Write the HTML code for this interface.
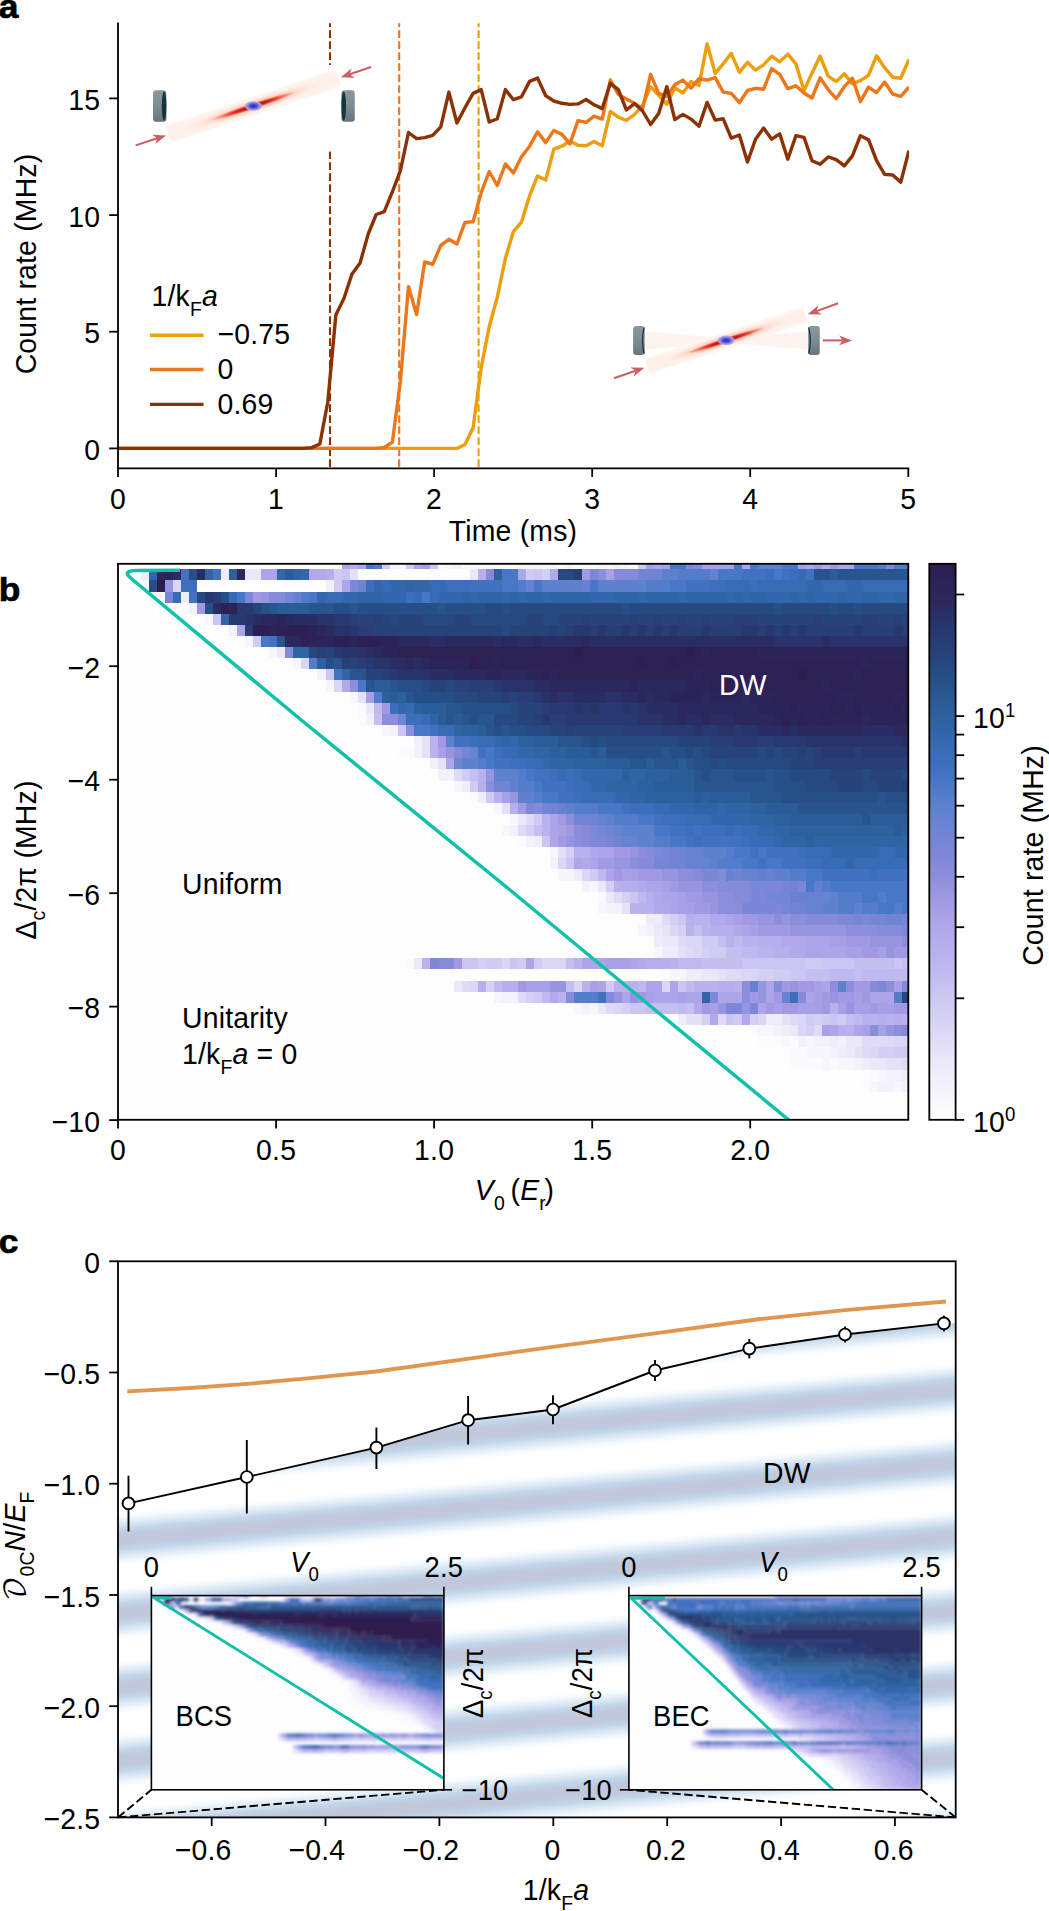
<!DOCTYPE html><html><head><meta charset="utf-8"><title>figure</title><style>html,body{margin:0;padding:0;background:#fff;overflow:hidden}svg{display:block}text{font-family:'Liberation Sans', 'DejaVu Sans', sans-serif;font-size:29.7px;letter-spacing:0.2px}</style></head><body>
<svg width="1049" height="1911" viewBox="0 0 1049 1911">
<rect width="1049" height="1911" fill="#fff"/>
<defs>
<linearGradient id="cbar" x1="0" y1="0" x2="0" y2="1"><stop offset="0.000" stop-color="#2e1e50"/><stop offset="0.020" stop-color="#2c2055"/><stop offset="0.050" stop-color="#2b2659"/><stop offset="0.080" stop-color="#2a2c62"/><stop offset="0.120" stop-color="#283870"/><stop offset="0.150" stop-color="#283f75"/><stop offset="0.190" stop-color="#264a82"/><stop offset="0.220" stop-color="#27528a"/><stop offset="0.250" stop-color="#2a5c98"/><stop offset="0.280" stop-color="#2e63a0"/><stop offset="0.300" stop-color="#3064a8"/><stop offset="0.340" stop-color="#3a6cb8"/><stop offset="0.370" stop-color="#4070c0"/><stop offset="0.400" stop-color="#4a78c8"/><stop offset="0.430" stop-color="#5a80cc"/><stop offset="0.480" stop-color="#7084d4"/><stop offset="0.530" stop-color="#8088d8"/><stop offset="0.570" stop-color="#9090dc"/><stop offset="0.600" stop-color="#a098e4"/><stop offset="0.640" stop-color="#aca4e8"/><stop offset="0.700" stop-color="#b8b0ee"/><stop offset="0.780" stop-color="#ccc8f2"/><stop offset="0.850" stop-color="#dedaf7"/><stop offset="0.900" stop-color="#eceaf9"/><stop offset="0.950" stop-color="#f5f4fd"/><stop offset="1.000" stop-color="#ffffff"/></linearGradient>
<linearGradient id="mirG" x1="0" y1="0" x2="0" y2="1"><stop offset="0" stop-color="#8b979d"/><stop offset="0.5" stop-color="#7f8c93"/><stop offset="1" stop-color="#66747c"/></linearGradient>
<linearGradient id="beamBase" x1="0" y1="0" x2="0" y2="1"><stop offset="0" stop-color="#fff3ee" stop-opacity="0.8"/><stop offset="0.25" stop-color="#feefe9"/><stop offset="0.75" stop-color="#feefe9"/><stop offset="1" stop-color="#fff3ee" stop-opacity="0.8"/></linearGradient>
<radialGradient id="beamGlow"><stop offset="0" stop-color="#fb6a4a" stop-opacity="0.9"/><stop offset="0.3" stop-color="#fc8a6a" stop-opacity="0.7"/><stop offset="0.6" stop-color="#fcae91" stop-opacity="0.4"/><stop offset="1" stop-color="#fdd5c3" stop-opacity="0"/></radialGradient>
<radialGradient id="beamCore"><stop offset="0" stop-color="#a50f15"/><stop offset="0.3" stop-color="#c2161b"/><stop offset="0.55" stop-color="#e32f27" stop-opacity="0.9"/><stop offset="0.8" stop-color="#f6553c" stop-opacity="0.5"/><stop offset="1" stop-color="#fb6a4a" stop-opacity="0"/></radialGradient>
<radialGradient id="atomG"><stop offset="0" stop-color="#3426c8"/><stop offset="0.35" stop-color="#4a40cc"/><stop offset="0.7" stop-color="#8d8de0"/><stop offset="1" stop-color="#b0b4ea" stop-opacity="0.85"/></radialGradient>
<linearGradient id="stripes" gradientUnits="userSpaceOnUse" x1="948.0" y1="1390.0" x2="954.7" y2="1463.0" spreadMethod="repeat"><stop offset="0" stop-color="#c1c7d9"/><stop offset="0.07" stop-color="#c0cade"/><stop offset="0.14" stop-color="#c2d6ea"/><stop offset="0.22" stop-color="#dbe9f4"/><stop offset="0.3" stop-color="#f4f9fc"/><stop offset="0.36" stop-color="#ffffff"/><stop offset="0.64" stop-color="#ffffff"/><stop offset="0.7" stop-color="#f4f9fc"/><stop offset="0.78" stop-color="#dbe9f4"/><stop offset="0.86" stop-color="#c2d6ea"/><stop offset="0.93" stop-color="#c0cade"/><stop offset="1" stop-color="#c1c7d9"/></linearGradient>
<linearGradient id="stripeFade" gradientUnits="userSpaceOnUse" x1="118" y1="0" x2="956" y2="0"><stop offset="0" stop-color="#fff" stop-opacity="0"/><stop offset="1" stop-color="#fff" stop-opacity="0"/></linearGradient>
<filter id="blur1" x="-5%" y="-5%" width="110%" height="110%"><feGaussianBlur stdDeviation="1.4 1.7"/></filter>
</defs>
<g id="panel-a">
<line x1="330" y1="23.3" x2="330" y2="468.3" stroke="#8b3103" stroke-width="2.1" stroke-dasharray="7.8 3.2" stroke-dashoffset="4.1"/>
<line x1="399.2" y1="23.3" x2="399.2" y2="468.3" stroke="#ee7518" stroke-width="2.1" stroke-dasharray="7.8 3.2" stroke-dashoffset="4.1"/>
<line x1="478.6" y1="23.3" x2="478.6" y2="468.3" stroke="#ee9d0b" stroke-width="2.1" stroke-dasharray="7.8 3.2" stroke-dashoffset="4.1"/>
<clipPath id="clipA"><rect x="118" y="23.3" width="791.0999999999999" height="445.0"/></clipPath>
<g clip-path="url(#clipA)" fill="none" stroke-width="3.4" stroke-linejoin="round" stroke-linecap="butt">
<polyline points="118.0,448.4 126.1,448.4 134.1,448.4 142.2,448.4 150.3,448.4 158.3,448.4 166.4,448.4 174.5,448.4 182.6,448.4 190.6,448.4 198.7,448.4 206.8,448.4 214.8,448.4 222.9,448.4 231.0,448.4 239.1,448.4 247.1,448.4 255.2,448.4 263.3,448.4 271.3,448.4 279.4,448.4 287.5,448.4 295.5,448.4 303.6,448.4 311.7,448.4 319.8,448.4 327.8,448.4 335.9,448.4 344.0,448.4 352.0,448.4 360.1,448.4 368.2,448.4 376.2,448.4 384.3,448.4 392.4,448.4 400.4,448.4 408.5,448.4 416.6,448.4 424.7,448.4 432.7,448.4 440.8,448.4 448.9,448.4 456.9,448.4 465.0,444.4 473.1,427.8 481.2,367.7 489.2,326.7 497.3,297.2 505.4,258.3 513.4,231.6 521.5,222.1 529.6,195.7 537.6,175.9 545.7,180.1 553.8,149.2 561.9,146.2 569.9,141.0 578.0,145.2 586.1,145.8 594.1,141.4 602.2,145.8 610.3,111.5 618.3,117.2 626.4,120.4 634.5,114.5 642.6,105.3 650.6,86.7 658.7,95.3 666.8,104.3 674.8,87.7 682.9,93.0 691.0,81.6 699.0,85.4 707.1,43.8 715.2,73.4 723.2,63.9 731.3,53.4 739.4,72.4 747.5,62.3 755.5,70.1 763.6,64.8 771.7,56.2 779.7,61.9 787.8,54.1 795.9,63.9 804.0,90.5 812.0,73.1 820.1,56.0 828.2,76.2 836.2,81.6 844.3,73.8 852.4,83.9 860.4,80.6 868.5,75.3 876.6,55.7 884.6,67.7 892.7,77.2 900.8,78.2 908.9,59.5" stroke="#ee9d0b"/>
<polyline points="118.0,448.4 126.1,448.4 134.1,448.4 142.2,448.4 150.3,448.4 158.3,448.4 166.4,448.4 174.5,448.4 182.6,448.4 190.6,448.4 198.7,448.4 206.8,448.4 214.8,448.4 222.9,448.4 231.0,448.4 239.1,448.4 247.1,448.4 255.2,448.4 263.3,448.4 271.3,448.4 279.4,448.4 287.5,448.4 295.5,448.4 303.6,448.4 311.7,448.4 319.8,448.4 327.8,448.4 335.9,448.4 344.0,448.4 352.0,448.4 360.1,448.4 368.2,448.4 376.2,448.4 384.3,447.5 392.4,442.1 400.4,381.0 408.5,286.7 416.6,314.4 424.7,261.9 432.7,264.4 440.8,245.4 448.9,239.3 456.9,244.0 465.0,222.4 473.1,221.7 481.2,192.5 489.2,171.5 497.3,185.5 505.4,163.9 513.4,172.9 521.5,156.7 529.6,146.2 537.6,131.9 545.7,142.6 553.8,130.5 561.9,134.4 569.9,143.9 578.0,120.6 586.1,122.3 594.1,116.2 602.2,119.1 610.3,80.0 618.3,94.3 626.4,99.1 634.5,103.3 642.6,108.7 650.6,74.3 658.7,93.4 666.8,96.3 674.8,84.8 682.9,80.1 691.0,88.1 699.0,78.7 707.1,80.1 715.2,77.6 723.2,92.1 731.3,93.4 739.4,102.6 747.5,90.5 755.5,88.3 763.6,89.2 771.7,68.6 779.7,74.3 787.8,88.6 795.9,85.8 804.0,93.0 812.0,98.0 820.1,77.8 828.2,89.6 836.2,98.7 844.3,86.7 852.4,78.2 860.4,101.6 868.5,87.1 876.6,92.5 884.6,82.0 892.7,94.0 900.8,96.3 908.9,87.1" stroke="#ee7518"/>
<polyline points="118.0,448.4 126.1,448.4 134.1,448.4 142.2,448.4 150.3,448.4 158.3,448.4 166.4,448.4 174.5,448.4 182.6,448.4 190.6,448.4 198.7,448.4 206.8,448.4 214.8,448.4 222.9,448.4 231.0,448.4 239.1,448.4 247.1,448.4 255.2,448.4 263.3,448.4 271.3,448.4 279.4,448.4 287.5,448.4 295.5,448.4 303.6,448.4 311.7,447.6 319.8,444.0 327.8,402.0 335.9,314.7 344.0,298.2 352.0,273.9 360.1,262.9 368.2,234.0 376.2,214.5 384.3,211.6 392.4,191.6 400.4,170.6 408.5,132.5 416.6,138.6 424.7,137.6 432.7,135.3 440.8,126.8 448.9,92.1 456.9,123.0 465.0,107.7 473.1,93.4 481.2,89.6 489.2,122.0 497.3,118.7 505.4,89.6 513.4,99.7 521.5,96.8 529.6,81.4 537.6,78.1 545.7,95.7 553.8,101.0 561.9,103.3 569.9,104.4 578.0,103.9 586.1,99.5 594.1,104.8 602.2,108.6 610.3,83.3 618.3,89.6 626.4,110.0 634.5,103.6 642.6,111.0 650.6,124.5 658.7,113.4 666.8,86.7 674.8,119.7 682.9,114.4 691.0,119.1 699.0,126.2 707.1,102.4 715.2,120.1 723.2,118.8 731.3,138.2 739.4,135.0 747.5,162.0 755.5,139.2 763.6,128.1 771.7,139.2 779.7,133.8 787.8,159.2 795.9,135.7 804.0,137.3 812.0,160.7 820.1,164.3 828.2,156.9 836.2,159.6 844.3,165.9 852.4,155.9 860.4,135.7 868.5,139.7 876.6,160.7 884.6,174.4 892.7,175.0 900.8,182.1 908.9,150.6" stroke="#8b3103"/>
</g>
<rect x="126" y="65" width="262" height="86.5" fill="#fff"/>
<rect x="153.0" y="90.3" width="13.4" height="31.4" rx="3.2" ry="3.2" fill="url(#mirG)"/><ellipse cx="164.1" cy="106" rx="2.3" ry="14.5" fill="#14353d"/>
<rect x="341.4" y="90.3" width="13.4" height="31.4" rx="3.2" ry="3.2" fill="url(#mirG)"/><ellipse cx="343.7" cy="106" rx="2.3" ry="14.5" fill="#14353d"/>
<g transform="translate(253.5 106) rotate(-18.36)">
<rect x="-89.7" y="-8.9" width="179.4" height="17.8" fill="url(#beamBase)"/>
<ellipse cx="0" cy="0" rx="70.0" ry="6.8" fill="url(#beamGlow)"/>
<ellipse cx="0" cy="0" rx="44.0" ry="3.1" fill="url(#beamCore)"/>
</g>
<ellipse cx="253.5" cy="106" rx="8.6" ry="4.8" fill="url(#atomG)"/>
<line x1="135.7" y1="145.4" x2="157.2" y2="138.3" stroke="#cc5d62" stroke-width="2.0"/><path d="M166.1 135.4L155.3 144.1L157.2 138.3L152.2 134.8Z" fill="#cc5d62"/>
<line x1="371.1" y1="67.0" x2="349.7" y2="74.3" stroke="#cc5d62" stroke-width="2.0"/><path d="M340.8 77.3L351.5 68.5L349.7 74.3L354.7 77.8Z" fill="#cc5d62"/>
<path d="M644.5 331.5 L726.1 337.79999999999995 L808.3 331.5 L808.3 349.5 L726.1 343.0 L644.5 349.5Z" fill="#fef3ef"/>
<g transform="translate(726.1 340.4) rotate(-18.2)">
<rect x="-83.3" y="-8.2" width="166.6" height="16.4" fill="url(#beamBase)"/>
<ellipse cx="0" cy="0" rx="65.0" ry="6.3" fill="url(#beamGlow)"/>
<ellipse cx="0" cy="0" rx="40.9" ry="2.9" fill="url(#beamCore)"/>
</g>
<ellipse cx="726.1" cy="340.4" rx="8.6" ry="4.8" fill="url(#atomG)"/>
<rect x="633.1" y="326.0" width="11.6" height="29" rx="3.2" ry="3.2" fill="url(#mirG)"/>
<rect x="808.2" y="326.0" width="11.6" height="29" rx="3.2" ry="3.2" fill="url(#mirG)"/>
<path d="M644.7 327.5 Q641.6 340.5 644.7 353.5 L643.4 353.5 Q640.4 340.5 643.4 327.5Z" fill="#14353d"/>
<path d="M808.1 327.5 Q811.2 340.5 808.1 353.5 L809.4 353.5 Q812.4 340.5 809.4 327.5Z" fill="#14353d"/>
<line x1="614.0" y1="378.3" x2="635.6" y2="370.8" stroke="#cc5d62" stroke-width="2.0"/><path d="M644.4 367.7L633.7 376.6L635.6 370.8L630.5 367.4Z" fill="#cc5d62"/>
<line x1="838.1" y1="303.3" x2="816.6" y2="311.1" stroke="#cc5d62" stroke-width="2.0"/><path d="M807.8 314.3L818.3 305.3L816.6 311.1L821.7 314.5Z" fill="#cc5d62"/>
<line x1="822.8" y1="340.4" x2="842.7" y2="340.4" stroke="#cc5d62" stroke-width="2.0"/><path d="M852.1 340.4L839.1 345.3L842.7 340.4L839.1 335.5Z" fill="#cc5d62"/>
<path d="M118 23.3V468.3H908.3" fill="none" stroke="#000" stroke-width="1.8" stroke-linecap="square"/>
<line x1="109.2" y1="448.4" x2="118" y2="448.4" stroke="#000" stroke-width="1.8"/>
<text transform="translate(100.3 460.1) scale(0.956 1)" text-anchor="end">0</text>
<line x1="109.2" y1="331.7" x2="118" y2="331.7" stroke="#000" stroke-width="1.8"/>
<text transform="translate(100.3 343.4) scale(0.956 1)" text-anchor="end">5</text>
<line x1="109.2" y1="215.1" x2="118" y2="215.1" stroke="#000" stroke-width="1.8"/>
<text transform="translate(100.3 226.8) scale(0.956 1)" text-anchor="end">10</text>
<line x1="109.2" y1="98.4" x2="118" y2="98.4" stroke="#000" stroke-width="1.8"/>
<text transform="translate(100.3 110.1) scale(0.956 1)" text-anchor="end">15</text>
<line x1="118.0" y1="468.3" x2="118.0" y2="476.90000000000003" stroke="#000" stroke-width="1.8"/>
<text transform="translate(118.0 509.3) scale(0.956 1)" text-anchor="middle">0</text>
<line x1="276.1" y1="468.3" x2="276.1" y2="476.90000000000003" stroke="#000" stroke-width="1.8"/>
<text transform="translate(276.1 509.3) scale(0.956 1)" text-anchor="middle">1</text>
<line x1="434.1" y1="468.3" x2="434.1" y2="476.90000000000003" stroke="#000" stroke-width="1.8"/>
<text transform="translate(434.1 509.3) scale(0.956 1)" text-anchor="middle">2</text>
<line x1="592.2" y1="468.3" x2="592.2" y2="476.90000000000003" stroke="#000" stroke-width="1.8"/>
<text transform="translate(592.2 509.3) scale(0.956 1)" text-anchor="middle">3</text>
<line x1="750.2" y1="468.3" x2="750.2" y2="476.90000000000003" stroke="#000" stroke-width="1.8"/>
<text transform="translate(750.2 509.3) scale(0.956 1)" text-anchor="middle">4</text>
<line x1="908.3" y1="468.3" x2="908.3" y2="476.90000000000003" stroke="#000" stroke-width="1.8"/>
<text transform="translate(908.3 509.3) scale(0.956 1)" text-anchor="middle">5</text>
<text transform="translate(513 541.3) scale(0.956 1)" text-anchor="middle">Time (ms)</text>
<text transform="translate(36 264) rotate(-90) scale(0.956 1)" text-anchor="middle">Count rate (MHz)</text>
<text transform="translate(151.5 306.3) scale(0.956 1)">1/k<tspan font-size="20.3" dy="9.7">F</tspan><tspan dy="-9.7" font-size="1">&#8203;</tspan><tspan font-style="italic">a</tspan></text>
<line x1="150" y1="335.2" x2="203.5" y2="335.2" stroke="#ee9d0b" stroke-width="3.4"/>
<text transform="translate(217.5 344.4) scale(0.956 1)">−0.75</text>
<line x1="150" y1="369.5" x2="203.5" y2="369.5" stroke="#ee7518" stroke-width="3.4"/>
<text transform="translate(217.5 378.7) scale(0.956 1)">0</text>
<line x1="150" y1="404.4" x2="203.5" y2="404.4" stroke="#8b3103" stroke-width="3.4"/>
<text transform="translate(217.5 413.6) scale(0.956 1)">0.69</text>
<text transform="translate(-1.2 18.3) scale(1.04 1)" style="font-size:34px;font-weight:bold" stroke="#000" stroke-width="0.7" stroke-linejoin="round">a</text>
</g>
<g id="panel-b">
<rect x="118" y="563.8" width="790.3" height="556.0" fill="#fdfdfe"/>
<g shape-rendering="crispEdges">
<path fill="#fbfafe" d="M437.6 563.8H445.6V569.3H437.6ZM461.6 563.8H517.7V569.3H461.6ZM557.8 563.8H565.8V569.3H557.8ZM573.8 563.8H597.8V569.3H573.8ZM629.8 563.8H637.9V569.3H629.8ZM357.5 702.7H365.5V713.8H357.5ZM357.5 713.8H365.5V724.9H357.5ZM397.5 747.1H413.6V758.2H397.5ZM469.6 791.6H477.6V802.7H469.6ZM517.7 836.0H525.7V847.2H517.7ZM597.8 891.6H605.8V902.7H597.8ZM405.6 958.3H413.6V969.4H405.6ZM661.9 969.4H669.9V980.5H661.9ZM750.0 1025.0H758.0V1036.1H750.0ZM758.0 1036.1H782.0V1047.2H758.0ZM790.0 1036.1H798.1V1047.2H790.0ZM790.0 1047.2H806.1V1058.4H790.0ZM790.0 1058.4H822.1V1069.5H790.0ZM830.1 1058.4H838.1V1069.5H830.1ZM870.1 1069.5H878.1V1080.6H870.1ZM862.1 1080.6H870.1V1091.7H862.1Z"/><path fill="#f7f6fd" d="M389.5 563.8H405.6V569.3H389.5ZM445.6 563.8H453.6V569.3H445.6ZM517.7 563.8H557.8V569.3H517.7ZM565.8 563.8H573.8V569.3H565.8ZM597.8 563.8H613.8V569.3H597.8ZM621.8 563.8H629.8V569.3H621.8ZM141.2 580.4H149.2V591.5H141.2ZM157.2 591.5H165.3V602.6H157.2ZM205.3 613.7H213.3V624.8H205.3ZM245.4 636.0H253.4V647.1H245.4ZM269.4 647.1H277.4V658.2H269.4ZM293.4 658.2H301.4V669.3H293.4ZM325.5 680.4H333.5V691.5H325.5ZM349.5 691.5H357.5V702.7H349.5ZM381.5 724.9H389.5V736.0H381.5ZM453.6 780.5H461.6V791.6H453.6ZM493.7 802.7H501.7V813.8H493.7ZM509.7 813.8H517.7V824.9H509.7ZM501.7 824.9H509.7V836.0H501.7ZM549.7 847.2H557.8V858.3H549.7ZM557.8 869.4H573.8V880.5H557.8ZM589.8 880.5H597.8V891.6H589.8ZM597.8 902.7H605.8V913.9H597.8ZM637.9 925.0H645.9V936.1H637.9ZM653.9 947.2H661.9V958.3H653.9ZM669.9 969.4H685.9V980.5H669.9ZM493.7 991.7H501.7V1002.8H493.7ZM573.8 1002.8H581.8V1013.9H573.8ZM589.8 1002.8H597.8V1013.9H589.8ZM758.0 1025.0H774.0V1036.1H758.0ZM782.0 1036.1H790.0V1047.2H782.0ZM806.1 1036.1H814.1V1047.2H806.1ZM806.1 1047.2H830.1V1058.4H806.1ZM822.1 1058.4H830.1V1069.5H822.1ZM838.1 1058.4H854.1V1069.5H838.1ZM878.1 1069.5H886.2V1080.6H878.1ZM870.1 1080.6H878.1V1091.7H870.1ZM894.2 1080.6H902.2V1091.7H894.2Z"/><path fill="#f3f2fc" d="M453.6 563.8H461.6V569.3H453.6ZM613.8 563.8H621.8V569.3H613.8ZM325.5 580.4H333.5V591.5H325.5ZM189.3 602.6H197.3V613.7H189.3ZM229.3 624.8H237.3V636.0H229.3ZM317.4 669.3H325.5V680.4H317.4ZM365.5 713.8H373.5V724.9H365.5ZM389.5 724.9H397.5V736.0H389.5ZM413.6 736.0H421.6V747.1H413.6ZM413.6 747.1H421.6V758.2H413.6ZM429.6 758.2H437.6V769.3H429.6ZM437.6 769.3H453.6V780.5H437.6ZM509.7 824.9H517.7V836.0H509.7ZM525.7 836.0H533.7V847.2H525.7ZM549.7 858.3H557.8V869.4H549.7ZM581.8 880.5H589.8V891.6H581.8ZM605.8 902.7H621.8V913.9H605.8ZM645.9 925.0H653.9V936.1H645.9ZM501.7 991.7H517.7V1002.8H501.7ZM581.8 1002.8H589.8V1013.9H581.8ZM774.0 1025.0H782.0V1036.1H774.0ZM798.1 1036.1H806.1V1047.2H798.1ZM814.1 1036.1H830.1V1047.2H814.1ZM838.1 1036.1H846.1V1047.2H838.1ZM830.1 1047.2H838.1V1058.4H830.1ZM854.1 1058.4H862.1V1069.5H854.1ZM886.2 1069.5H902.2V1080.6H886.2ZM878.1 1080.6H894.2V1091.7H878.1ZM902.2 1080.6H908.3V1091.7H902.2Z"/><path fill="#efedfa" d="M141.2 569.3H149.2V580.4H141.2ZM221.3 569.3H229.3V580.4H221.3ZM181.3 591.5H189.3V602.6H181.3ZM461.6 780.5H469.6V791.6H461.6ZM477.6 791.6H485.7V802.7H477.6ZM533.7 836.0H541.7V847.2H533.7ZM573.8 869.4H581.8V880.5H573.8ZM645.9 913.9H661.9V925.0H645.9ZM653.9 936.1H661.9V947.2H653.9ZM661.9 947.2H677.9V958.3H661.9ZM685.9 969.4H701.9V980.5H685.9ZM677.9 1013.9H685.9V1025.0H677.9ZM766.0 1013.9H782.0V1025.0H766.0ZM782.0 1025.0H790.0V1036.1H782.0ZM830.1 1036.1H838.1V1047.2H830.1ZM838.1 1047.2H846.1V1058.4H838.1ZM862.1 1058.4H870.1V1069.5H862.1ZM902.2 1069.5H908.3V1080.6H902.2Z"/><path fill="#ebe9f9" d="M245.4 569.3H261.4V580.4H245.4ZM469.6 569.3H477.6V580.4H469.6ZM277.4 647.1H285.4V658.2H277.4ZM365.5 702.7H373.5V713.8H365.5ZM517.7 813.8H525.7V824.9H517.7ZM597.8 880.5H605.8V891.6H597.8ZM605.8 891.6H613.8V902.7H605.8ZM653.9 925.0H661.9V936.1H653.9ZM661.9 936.1H677.9V947.2H661.9ZM413.6 958.3H421.6V969.4H413.6ZM701.9 969.4H718.0V980.5H701.9ZM453.6 980.5H461.6V991.7H453.6ZM597.8 1002.8H605.8V1013.9H597.8ZM790.0 1025.0H798.1V1036.1H790.0ZM846.1 1036.1H862.1V1047.2H846.1ZM846.1 1047.2H854.1V1058.4H846.1ZM870.1 1058.4H886.2V1069.5H870.1Z"/><path fill="#e5e2f8" d="M349.5 569.3H357.5V580.4H349.5ZM357.5 691.5H365.5V702.7H357.5ZM421.6 736.0H429.6V747.1H421.6ZM421.6 747.1H429.6V758.2H421.6ZM437.6 758.2H445.6V769.3H437.6ZM501.7 802.7H509.7V813.8H501.7ZM557.8 847.2H565.8V858.3H557.8ZM621.8 902.7H629.8V913.9H621.8ZM661.9 925.0H669.9V936.1H661.9ZM677.9 947.2H685.9V958.3H677.9ZM718.0 969.4H726.0V980.5H718.0ZM685.9 1013.9H701.9V1025.0H685.9ZM782.0 1013.9H790.0V1025.0H782.0ZM854.1 1047.2H862.1V1058.4H854.1ZM886.2 1058.4H902.2V1069.5H886.2Z"/><path fill="#dfdbf7" d="M453.6 769.3H461.6V780.5H453.6ZM525.7 813.8H533.7V824.9H525.7ZM517.7 824.9H525.7V836.0H517.7ZM613.8 891.6H621.8V902.7H613.8ZM661.9 913.9H669.9V925.0H661.9ZM677.9 936.1H685.9V947.2H677.9ZM685.9 947.2H693.9V958.3H685.9ZM726.0 969.4H742.0V980.5H726.0ZM461.6 980.5H469.6V991.7H461.6ZM517.7 991.7H525.7V1002.8H517.7ZM605.8 1002.8H613.8V1013.9H605.8ZM718.0 1013.9H726.0V1025.0H718.0ZM790.0 1013.9H798.1V1025.0H790.0ZM814.1 1025.0H822.1V1036.1H814.1ZM862.1 1036.1H894.2V1047.2H862.1ZM862.1 1047.2H870.1V1058.4H862.1ZM902.2 1058.4H908.3V1069.5H902.2Z"/><path fill="#dad6f6" d="M173.3 580.4H181.3V591.5H173.3ZM301.4 658.2H309.4V669.3H301.4ZM333.5 680.4H341.5V691.5H333.5ZM557.8 858.3H565.8V869.4H557.8ZM581.8 869.4H589.8V880.5H581.8ZM669.9 925.0H677.9V936.1H669.9ZM685.9 936.1H701.9V947.2H685.9ZM693.9 947.2H701.9V958.3H693.9ZM501.7 958.3H509.7V969.4H501.7ZM541.7 958.3H565.8V969.4H541.7ZM742.0 969.4H758.0V980.5H742.0ZM469.6 980.5H477.6V991.7H469.6ZM573.8 980.5H581.8V991.7H573.8ZM661.9 980.5H669.9V991.7H661.9ZM613.8 1002.8H621.8V1013.9H613.8ZM758.0 1013.9H766.0V1025.0H758.0ZM798.1 1013.9H806.1V1025.0H798.1ZM798.1 1025.0H806.1V1036.1H798.1ZM894.2 1036.1H908.3V1047.2H894.2ZM870.1 1047.2H878.1V1058.4H870.1Z"/><path fill="#d4d0f4" d="M541.7 569.3H549.7V580.4H541.7ZM525.7 824.9H533.7V836.0H525.7ZM565.8 847.2H573.8V858.3H565.8ZM605.8 880.5H613.8V891.6H605.8ZM621.8 891.6H629.8V902.7H621.8ZM669.9 913.9H677.9V925.0H669.9ZM677.9 925.0H685.9V936.1H677.9ZM701.9 947.2H709.9V958.3H701.9ZM477.6 958.3H485.7V969.4H477.6ZM758.0 969.4H774.0V980.5H758.0ZM485.7 980.5H493.7V991.7H485.7ZM525.7 991.7H533.7V1002.8H525.7ZM621.8 1002.8H629.8V1013.9H621.8ZM701.9 1013.9H709.9V1025.0H701.9ZM750.0 1013.9H758.0V1025.0H750.0ZM814.1 1013.9H822.1V1025.0H814.1ZM806.1 1025.0H814.1V1036.1H806.1ZM878.1 1047.2H894.2V1058.4H878.1Z"/><path fill="#cfcbf3" d="M381.5 563.8H389.5V569.3H381.5ZM405.6 563.8H413.6V569.3H405.6ZM637.9 563.8H645.9V569.3H637.9ZM333.5 569.3H341.5V580.4H333.5ZM525.7 569.3H533.7V580.4H525.7ZM333.5 580.4H341.5V591.5H333.5ZM253.4 636.0H261.4V647.1H253.4ZM461.6 769.3H469.6V780.5H461.6ZM469.6 780.5H477.6V791.6H469.6ZM485.7 791.6H493.7V802.7H485.7ZM533.7 813.8H541.7V824.9H533.7ZM589.8 869.4H597.8V880.5H589.8ZM701.9 936.1H718.0V947.2H701.9ZM709.9 947.2H726.0V958.3H709.9ZM485.7 958.3H501.7V969.4H485.7ZM517.7 958.3H525.7V969.4H517.7ZM533.7 958.3H541.7V969.4H533.7ZM806.1 958.3H822.1V969.4H806.1ZM774.0 969.4H790.0V980.5H774.0ZM605.8 980.5H613.8V991.7H605.8ZM533.7 991.7H541.7V1002.8H533.7ZM734.0 1013.9H742.0V1025.0H734.0ZM806.1 1013.9H814.1V1025.0H806.1ZM822.1 1013.9H830.1V1025.0H822.1ZM838.1 1013.9H846.1V1025.0H838.1ZM894.2 1047.2H908.3V1058.4H894.2Z"/><path fill="#cac5f2" d="M429.6 563.8H437.6V569.3H429.6ZM341.5 569.3H349.5V580.4H341.5ZM533.7 569.3H541.7V580.4H533.7ZM213.3 613.7H221.3V624.8H213.3ZM325.5 669.3H333.5V680.4H325.5ZM397.5 724.9H405.6V736.0H397.5ZM541.7 836.0H549.7V847.2H541.7ZM565.8 858.3H573.8V869.4H565.8ZM629.8 891.6H637.9V902.7H629.8ZM677.9 913.9H685.9V925.0H677.9ZM461.6 958.3H477.6V969.4H461.6ZM509.7 958.3H517.7V969.4H509.7ZM742.0 958.3H806.1V969.4H742.0ZM822.1 958.3H854.1V969.4H822.1ZM894.2 958.3H902.2V969.4H894.2ZM790.0 969.4H806.1V980.5H790.0ZM677.9 980.5H685.9V991.7H677.9ZM629.8 1002.8H645.9V1013.9H629.8ZM726.0 1013.9H734.0V1025.0H726.0ZM830.1 1013.9H838.1V1025.0H830.1Z"/><path fill="#c4bff0" d="M373.5 713.8H381.5V724.9H373.5ZM469.6 769.3H477.6V780.5H469.6ZM533.7 824.9H541.7V836.0H533.7ZM693.9 925.0H701.9V936.1H693.9ZM718.0 936.1H726.0V947.2H718.0ZM726.0 947.2H742.0V958.3H726.0ZM565.8 958.3H573.8V969.4H565.8ZM701.9 958.3H742.0V969.4H701.9ZM854.1 958.3H894.2V969.4H854.1ZM902.2 958.3H908.3V969.4H902.2ZM806.1 969.4H830.1V980.5H806.1ZM854.1 969.4H862.1V980.5H854.1ZM565.8 980.5H573.8V991.7H565.8ZM645.9 1002.8H677.9V1013.9H645.9ZM685.9 1002.8H693.9V1013.9H685.9ZM846.1 1013.9H854.1V1025.0H846.1Z"/><path fill="#bfb9ef" d="M373.5 702.7H381.5V713.8H373.5ZM597.8 869.4H605.8V880.5H597.8ZM637.9 891.6H645.9V902.7H637.9ZM734.0 936.1H742.0V947.2H734.0ZM742.0 947.2H758.0V958.3H742.0ZM677.9 958.3H701.9V969.4H677.9ZM830.1 969.4H854.1V980.5H830.1ZM862.1 969.4H908.3V980.5H862.1ZM493.7 980.5H501.7V991.7H493.7ZM637.9 980.5H645.9V991.7H637.9ZM685.9 980.5H693.9V991.7H685.9ZM541.7 991.7H549.7V1002.8H541.7ZM677.9 1002.8H685.9V1013.9H677.9ZM854.1 1013.9H862.1V1025.0H854.1Z"/><path fill="#bab2ee" d="M429.6 736.0H437.6V747.1H429.6ZM429.6 747.1H437.6V758.2H429.6ZM477.6 769.3H485.7V780.5H477.6ZM493.7 791.6H501.7V802.7H493.7ZM541.7 813.8H549.7V824.9H541.7ZM541.7 824.9H549.7V836.0H541.7ZM573.8 847.2H589.8V858.3H573.8ZM613.8 880.5H621.8V891.6H613.8ZM629.8 902.7H653.9V913.9H629.8ZM693.9 913.9H709.9V925.0H693.9ZM685.9 925.0H693.9V936.1H685.9ZM701.9 925.0H709.9V936.1H701.9ZM726.0 936.1H734.0V947.2H726.0ZM742.0 936.1H758.0V947.2H742.0ZM758.0 947.2H774.0V958.3H758.0ZM421.6 958.3H429.6V969.4H421.6ZM573.8 958.3H581.8V969.4H573.8ZM669.9 958.3H677.9V969.4H669.9ZM581.8 980.5H589.8V991.7H581.8ZM613.8 980.5H637.9V991.7H613.8ZM693.9 980.5H718.0V991.7H693.9ZM734.0 980.5H742.0V991.7H734.0ZM557.8 991.7H565.8V1002.8H557.8ZM830.1 1002.8H838.1V1013.9H830.1ZM862.1 1013.9H878.1V1025.0H862.1ZM886.2 1013.9H894.2V1025.0H886.2ZM902.2 1013.9H908.3V1025.0H902.2ZM846.1 1025.0H854.1V1036.1H846.1Z"/><path fill="#b6aeed" d="M349.5 563.8H357.5V569.3H349.5ZM325.5 569.3H333.5V580.4H325.5ZM477.6 569.3H485.7V580.4H477.6ZM477.6 780.5H485.7V791.6H477.6ZM509.7 802.7H517.7V813.8H509.7ZM621.8 880.5H637.9V891.6H621.8ZM645.9 891.6H653.9V902.7H645.9ZM685.9 913.9H693.9V925.0H685.9ZM709.9 925.0H734.0V936.1H709.9ZM758.0 936.1H782.0V947.2H758.0ZM774.0 947.2H790.0V958.3H774.0ZM645.9 958.3H669.9V969.4H645.9ZM477.6 980.5H485.7V991.7H477.6ZM501.7 980.5H517.7V991.7H501.7ZM718.0 980.5H734.0V991.7H718.0ZM878.1 1013.9H886.2V1025.0H878.1ZM894.2 1013.9H902.2V1025.0H894.2ZM838.1 1025.0H846.1V1036.1H838.1Z"/><path fill="#b1a9eb" d="M822.1 563.8H830.1V569.3H822.1ZM309.4 569.3H325.5V580.4H309.4ZM549.7 569.3H557.8V580.4H549.7ZM341.5 680.4H349.5V691.5H341.5ZM589.8 847.2H597.8V858.3H589.8ZM581.8 858.3H589.8V869.4H581.8ZM637.9 880.5H645.9V891.6H637.9ZM653.9 891.6H661.9V902.7H653.9ZM653.9 902.7H669.9V913.9H653.9ZM709.9 913.9H726.0V925.0H709.9ZM734.0 925.0H742.0V936.1H734.0ZM782.0 936.1H806.1V947.2H782.0ZM790.0 947.2H806.1V958.3H790.0ZM637.9 958.3H645.9V969.4H637.9ZM549.7 991.7H557.8V1002.8H549.7ZM693.9 1002.8H701.9V1013.9H693.9ZM709.9 1013.9H718.0V1025.0H709.9ZM742.0 1013.9H750.0V1025.0H742.0Z"/><path fill="#ada5e9" d="M341.5 563.8H349.5V569.3H341.5ZM357.5 563.8H365.5V569.3H357.5ZM413.6 563.8H421.6V569.3H413.6ZM653.9 563.8H661.9V569.3H653.9ZM742.0 563.8H750.0V569.3H742.0ZM806.1 563.8H814.1V569.3H806.1ZM838.1 563.8H854.1V569.3H838.1ZM261.4 569.3H277.4V580.4H261.4ZM517.7 569.3H525.7V580.4H517.7ZM341.5 580.4H349.5V591.5H341.5ZM237.3 624.8H245.4V636.0H237.3ZM445.6 758.2H453.6V769.3H445.6ZM549.7 813.8H557.8V824.9H549.7ZM549.7 824.9H557.8V836.0H549.7ZM549.7 836.0H557.8V847.2H549.7ZM597.8 847.2H613.8V858.3H597.8ZM573.8 858.3H581.8V869.4H573.8ZM589.8 858.3H597.8V869.4H589.8ZM605.8 869.4H613.8V880.5H605.8ZM645.9 880.5H661.9V891.6H645.9ZM661.9 891.6H677.9V902.7H661.9ZM669.9 902.7H677.9V913.9H669.9ZM726.0 913.9H734.0V925.0H726.0ZM742.0 925.0H750.0V936.1H742.0ZM806.1 936.1H830.1V947.2H806.1ZM806.1 947.2H846.1V958.3H806.1ZM525.7 958.3H533.7V969.4H525.7ZM581.8 958.3H605.8V969.4H581.8ZM629.8 958.3H637.9V969.4H629.8ZM597.8 980.5H605.8V991.7H597.8ZM645.9 980.5H661.9V991.7H645.9ZM669.9 980.5H677.9V991.7H669.9ZM766.0 980.5H774.0V991.7H766.0ZM822.1 980.5H830.1V991.7H822.1ZM621.8 991.7H629.8V1002.8H621.8ZM653.9 991.7H677.9V1002.8H653.9ZM685.9 991.7H701.9V1002.8H685.9ZM718.0 991.7H742.0V1002.8H718.0ZM766.0 991.7H774.0V1002.8H766.0ZM806.1 991.7H814.1V1002.8H806.1ZM870.1 991.7H894.2V1002.8H870.1ZM758.0 1002.8H766.0V1013.9H758.0ZM830.1 1025.0H838.1V1036.1H830.1ZM854.1 1025.0H862.1V1036.1H854.1Z"/><path fill="#a8a0e6" d="M421.6 563.8H429.6V569.3H421.6ZM645.9 563.8H653.9V569.3H645.9ZM661.9 563.8H669.9V569.3H661.9ZM701.9 563.8H734.0V569.3H701.9ZM798.1 563.8H806.1V569.3H798.1ZM605.8 569.3H613.8V580.4H605.8ZM365.5 691.5H373.5V702.7H365.5ZM437.6 747.1H445.6V758.2H437.6ZM501.7 791.6H509.7V802.7H501.7ZM557.8 824.9H565.8V836.0H557.8ZM621.8 869.4H637.9V880.5H621.8ZM661.9 880.5H669.9V891.6H661.9ZM677.9 891.6H685.9V902.7H677.9ZM677.9 902.7H693.9V913.9H677.9ZM734.0 913.9H742.0V925.0H734.0ZM750.0 925.0H758.0V936.1H750.0ZM830.1 936.1H846.1V947.2H830.1ZM846.1 947.2H862.1V958.3H846.1ZM878.1 947.2H886.2V958.3H878.1ZM605.8 958.3H629.8V969.4H605.8ZM525.7 980.5H549.7V991.7H525.7ZM589.8 980.5H597.8V991.7H589.8ZM814.1 980.5H822.1V991.7H814.1ZM894.2 980.5H902.2V991.7H894.2ZM645.9 991.7H653.9V1002.8H645.9ZM677.9 991.7H685.9V1002.8H677.9ZM814.1 991.7H822.1V1002.8H814.1ZM854.1 991.7H862.1V1002.8H854.1ZM709.9 1002.8H718.0V1013.9H709.9ZM774.0 1002.8H782.0V1013.9H774.0ZM798.1 1002.8H822.1V1013.9H798.1ZM838.1 1002.8H846.1V1013.9H838.1ZM854.1 1002.8H870.1V1013.9H854.1ZM878.1 1002.8H894.2V1013.9H878.1ZM822.1 1025.0H830.1V1036.1H822.1ZM862.1 1025.0H870.1V1036.1H862.1ZM878.1 1025.0H886.2V1036.1H878.1Z"/><path fill="#a199e4" d="M814.1 563.8H822.1V569.3H814.1ZM830.1 563.8H838.1V569.3H830.1ZM581.8 569.3H589.8V580.4H581.8ZM253.4 591.5H261.4V602.6H253.4ZM197.3 602.6H205.3V613.7H197.3ZM381.5 702.7H389.5V713.8H381.5ZM437.6 736.0H445.6V747.1H437.6ZM517.7 802.7H525.7V813.8H517.7ZM557.8 813.8H565.8V824.9H557.8ZM565.8 824.9H573.8V836.0H565.8ZM557.8 836.0H565.8V847.2H557.8ZM613.8 847.2H629.8V858.3H613.8ZM597.8 858.3H613.8V869.4H597.8ZM613.8 869.4H621.8V880.5H613.8ZM637.9 869.4H661.9V880.5H637.9ZM669.9 880.5H677.9V891.6H669.9ZM685.9 891.6H701.9V902.7H685.9ZM693.9 902.7H709.9V913.9H693.9ZM742.0 913.9H758.0V925.0H742.0ZM758.0 925.0H790.0V936.1H758.0ZM846.1 936.1H870.1V947.2H846.1ZM862.1 947.2H878.1V958.3H862.1ZM894.2 947.2H908.3V958.3H894.2ZM453.6 958.3H461.6V969.4H453.6ZM517.7 980.5H525.7V991.7H517.7ZM782.0 980.5H790.0V991.7H782.0ZM798.1 980.5H814.1V991.7H798.1ZM854.1 980.5H870.1V991.7H854.1ZM637.9 991.7H645.9V1002.8H637.9ZM750.0 991.7H758.0V1002.8H750.0ZM774.0 991.7H782.0V1002.8H774.0ZM822.1 991.7H830.1V1002.8H822.1ZM838.1 991.7H854.1V1002.8H838.1ZM862.1 991.7H870.1V1002.8H862.1ZM701.9 1002.8H709.9V1013.9H701.9ZM766.0 1002.8H774.0V1013.9H766.0ZM782.0 1002.8H798.1V1013.9H782.0ZM822.1 1002.8H830.1V1013.9H822.1ZM870.1 1002.8H878.1V1013.9H870.1ZM894.2 1002.8H908.3V1013.9H894.2Z"/><path fill="#9794e0" d="M165.3 580.4H173.3V591.5H165.3ZM261.4 591.5H269.4V602.6H261.4ZM445.6 747.1H453.6V758.2H445.6ZM485.7 769.3H493.7V780.5H485.7ZM509.7 791.6H517.7V802.7H509.7ZM565.8 836.0H573.8V847.2H565.8ZM629.8 847.2H637.9V858.3H629.8ZM613.8 858.3H629.8V869.4H613.8ZM661.9 869.4H677.9V880.5H661.9ZM677.9 880.5H701.9V891.6H677.9ZM701.9 891.6H718.0V902.7H701.9ZM709.9 902.7H718.0V913.9H709.9ZM758.0 913.9H774.0V925.0H758.0ZM782.0 913.9H790.0V925.0H782.0ZM790.0 925.0H846.1V936.1H790.0ZM870.1 936.1H902.2V947.2H870.1ZM886.2 947.2H894.2V958.3H886.2ZM549.7 980.5H565.8V991.7H549.7ZM758.0 980.5H766.0V991.7H758.0ZM790.0 980.5H798.1V991.7H790.0ZM613.8 991.7H621.8V1002.8H613.8ZM629.8 991.7H637.9V1002.8H629.8ZM758.0 991.7H766.0V1002.8H758.0ZM830.1 991.7H838.1V1002.8H830.1ZM718.0 1002.8H726.0V1013.9H718.0ZM742.0 1002.8H750.0V1013.9H742.0ZM846.1 1002.8H854.1V1013.9H846.1ZM886.2 1025.0H894.2V1036.1H886.2Z"/><path fill="#8d8edb" d="M597.8 569.3H605.8V580.4H597.8ZM349.5 680.4H357.5V691.5H349.5ZM381.5 713.8H397.5V724.9H381.5ZM405.6 724.9H413.6V736.0H405.6ZM485.7 780.5H493.7V791.6H485.7ZM565.8 813.8H573.8V824.9H565.8ZM573.8 824.9H581.8V836.0H573.8ZM573.8 836.0H581.8V847.2H573.8ZM637.9 847.2H645.9V858.3H637.9ZM629.8 858.3H637.9V869.4H629.8ZM677.9 869.4H693.9V880.5H677.9ZM701.9 880.5H718.0V891.6H701.9ZM718.0 891.6H734.0V902.7H718.0ZM718.0 902.7H742.0V913.9H718.0ZM774.0 913.9H782.0V925.0H774.0ZM790.0 913.9H806.1V925.0H790.0ZM846.1 925.0H878.1V936.1H846.1ZM902.2 936.1H908.3V947.2H902.2ZM742.0 980.5H750.0V991.7H742.0ZM830.1 980.5H838.1V991.7H830.1ZM846.1 980.5H854.1V991.7H846.1ZM886.2 980.5H894.2V991.7H886.2ZM742.0 991.7H750.0V1002.8H742.0ZM870.1 1025.0H878.1V1036.1H870.1ZM894.2 1025.0H902.2V1036.1H894.2Z"/><path fill="#858ad9" d="M693.9 563.8H701.9V569.3H693.9ZM485.7 569.3H493.7V580.4H485.7ZM613.8 569.3H637.9V580.4H613.8ZM269.4 591.5H285.4V602.6H269.4ZM285.4 647.1H293.4V658.2H285.4ZM453.6 747.1H461.6V758.2H453.6ZM533.7 802.7H541.7V813.8H533.7ZM581.8 824.9H589.8V836.0H581.8ZM581.8 836.0H589.8V847.2H581.8ZM645.9 847.2H653.9V858.3H645.9ZM637.9 858.3H653.9V869.4H637.9ZM693.9 869.4H701.9V880.5H693.9ZM718.0 869.4H726.0V880.5H718.0ZM718.0 880.5H750.0V891.6H718.0ZM734.0 891.6H750.0V902.7H734.0ZM806.1 913.9H838.1V925.0H806.1ZM878.1 925.0H902.2V936.1H878.1ZM437.6 958.3H453.6V969.4H437.6ZM774.0 980.5H782.0V991.7H774.0ZM870.1 980.5H878.1V991.7H870.1ZM902.2 980.5H908.3V991.7H902.2ZM565.8 991.7H573.8V1002.8H565.8ZM605.8 991.7H613.8V1002.8H605.8ZM798.1 991.7H806.1V1002.8H798.1ZM902.2 1025.0H908.3V1036.1H902.2Z"/><path fill="#7d87d7" d="M685.9 563.8H693.9V569.3H685.9ZM886.2 563.8H894.2V569.3H886.2ZM589.8 569.3H597.8V580.4H589.8ZM349.5 580.4H357.5V591.5H349.5ZM245.4 591.5H253.4V602.6H245.4ZM525.7 802.7H533.7V813.8H525.7ZM589.8 824.9H597.8V836.0H589.8ZM589.8 836.0H605.8V847.2H589.8ZM653.9 847.2H661.9V858.3H653.9ZM701.9 869.4H718.0V880.5H701.9ZM750.0 880.5H782.0V891.6H750.0ZM798.1 880.5H806.1V891.6H798.1ZM750.0 891.6H766.0V902.7H750.0ZM742.0 902.7H782.0V913.9H742.0ZM838.1 913.9H854.1V925.0H838.1ZM862.1 913.9H870.1V925.0H862.1ZM902.2 925.0H908.3V936.1H902.2ZM429.6 958.3H437.6V969.4H429.6ZM878.1 980.5H886.2V991.7H878.1ZM709.9 991.7H718.0V1002.8H709.9ZM726.0 1002.8H742.0V1013.9H726.0ZM750.0 1002.8H758.0V1013.9H750.0Z"/><path fill="#7686d6" d="M165.3 591.5H173.3V602.6H165.3ZM285.4 591.5H293.4V602.6H285.4ZM461.6 747.1H469.6V758.2H461.6ZM541.7 802.7H549.7V813.8H541.7ZM597.8 824.9H605.8V836.0H597.8ZM605.8 836.0H613.8V847.2H605.8ZM661.9 847.2H669.9V858.3H661.9ZM653.9 858.3H669.9V869.4H653.9ZM782.0 880.5H790.0V891.6H782.0ZM766.0 891.6H790.0V902.7H766.0ZM782.0 902.7H790.0V913.9H782.0ZM854.1 913.9H862.1V925.0H854.1ZM870.1 913.9H886.2V925.0H870.1ZM902.2 913.9H908.3V925.0H902.2Z"/><path fill="#7084d4" d="M637.9 569.3H661.9V580.4H637.9ZM357.5 580.4H365.5V591.5H357.5ZM397.5 713.8H405.6V724.9H397.5ZM453.6 758.2H461.6V769.3H453.6ZM493.7 780.5H509.7V791.6H493.7ZM549.7 802.7H557.8V813.8H549.7ZM573.8 813.8H597.8V824.9H573.8ZM605.8 824.9H613.8V836.0H605.8ZM613.8 836.0H621.8V847.2H613.8ZM669.9 847.2H685.9V858.3H669.9ZM669.9 858.3H685.9V869.4H669.9ZM734.0 869.4H742.0V880.5H734.0ZM790.0 880.5H798.1V891.6H790.0ZM790.0 902.7H806.1V913.9H790.0ZM886.2 913.9H902.2V925.0H886.2Z"/><path fill="#6682d1" d="M709.9 569.3H718.0V580.4H709.9ZM525.7 580.4H533.7V591.5H525.7ZM581.8 580.4H589.8V591.5H581.8ZM293.4 591.5H301.4V602.6H293.4ZM469.6 747.1H477.6V758.2H469.6ZM557.8 802.7H565.8V813.8H557.8ZM597.8 813.8H605.8V824.9H597.8ZM613.8 824.9H621.8V836.0H613.8ZM621.8 836.0H637.9V847.2H621.8ZM685.9 847.2H701.9V858.3H685.9ZM685.9 858.3H709.9V869.4H685.9ZM726.0 869.4H734.0V880.5H726.0ZM742.0 869.4H758.0V880.5H742.0ZM766.0 869.4H774.0V880.5H766.0ZM790.0 891.6H830.1V902.7H790.0ZM806.1 902.7H822.1V913.9H806.1ZM750.0 980.5H758.0V991.7H750.0ZM782.0 991.7H790.0V1002.8H782.0Z"/><path fill="#5d81cd" d="M758.0 563.8H782.0V569.3H758.0ZM661.9 569.3H677.9V580.4H661.9ZM541.7 580.4H581.8V591.5H541.7ZM597.8 580.4H645.9V591.5H597.8ZM445.6 736.0H453.6V747.1H445.6ZM461.6 758.2H477.6V769.3H461.6ZM493.7 769.3H517.7V780.5H493.7ZM509.7 780.5H517.7V791.6H509.7ZM517.7 791.6H533.7V802.7H517.7ZM565.8 802.7H573.8V813.8H565.8ZM605.8 813.8H613.8V824.9H605.8ZM621.8 824.9H653.9V836.0H621.8ZM637.9 836.0H653.9V847.2H637.9ZM701.9 847.2H726.0V858.3H701.9ZM709.9 858.3H718.0V869.4H709.9ZM758.0 869.4H766.0V880.5H758.0ZM774.0 869.4H790.0V880.5H774.0ZM814.1 880.5H822.1V891.6H814.1ZM830.1 891.6H838.1V902.7H830.1ZM822.1 902.7H838.1V913.9H822.1ZM854.1 902.7H862.1V913.9H854.1ZM838.1 980.5H846.1V991.7H838.1Z"/><path fill="#537cca" d="M373.5 563.8H381.5V569.3H373.5ZM878.1 563.8H886.2V569.3H878.1ZM894.2 563.8H908.3V569.3H894.2ZM677.9 569.3H709.9V580.4H677.9ZM517.7 580.4H525.7V591.5H517.7ZM645.9 580.4H669.9V591.5H645.9ZM301.4 591.5H309.4V602.6H301.4ZM309.4 658.2H317.4V669.3H309.4ZM373.5 691.5H381.5V702.7H373.5ZM477.6 758.2H485.7V769.3H477.6ZM517.7 769.3H525.7V780.5H517.7ZM517.7 780.5H533.7V791.6H517.7ZM533.7 791.6H541.7V802.7H533.7ZM573.8 802.7H597.8V813.8H573.8ZM613.8 813.8H637.9V824.9H613.8ZM653.9 836.0H669.9V847.2H653.9ZM726.0 847.2H734.0V858.3H726.0ZM718.0 858.3H742.0V869.4H718.0ZM790.0 869.4H806.1V880.5H790.0ZM822.1 880.5H830.1V891.6H822.1ZM838.1 891.6H862.1V902.7H838.1ZM878.1 891.6H886.2V902.7H878.1ZM838.1 902.7H854.1V913.9H838.1ZM862.1 902.7H878.1V913.9H862.1ZM894.2 902.7H902.2V913.9H894.2ZM573.8 991.7H597.8V1002.8H573.8ZM894.2 991.7H902.2V1002.8H894.2Z"/><path fill="#4977c7" d="M365.5 563.8H373.5V569.3H365.5ZM669.9 563.8H685.9V569.3H669.9ZM734.0 563.8H742.0V569.3H734.0ZM750.0 563.8H758.0V569.3H750.0ZM782.0 563.8H798.1V569.3H782.0ZM854.1 563.8H878.1V569.3H854.1ZM501.7 569.3H517.7V580.4H501.7ZM718.0 569.3H742.0V580.4H718.0ZM774.0 569.3H782.0V580.4H774.0ZM501.7 580.4H517.7V591.5H501.7ZM533.7 580.4H541.7V591.5H533.7ZM589.8 580.4H597.8V591.5H589.8ZM669.9 580.4H685.9V591.5H669.9ZM237.3 591.5H245.4V602.6H237.3ZM309.4 591.5H317.4V602.6H309.4ZM421.6 591.5H429.6V602.6H421.6ZM261.4 636.0H269.4V647.1H261.4ZM357.5 680.4H365.5V691.5H357.5ZM413.6 724.9H429.6V736.0H413.6ZM485.7 747.1H493.7V758.2H485.7ZM485.7 758.2H493.7V769.3H485.7ZM525.7 769.3H533.7V780.5H525.7ZM533.7 780.5H541.7V791.6H533.7ZM541.7 791.6H557.8V802.7H541.7ZM597.8 802.7H621.8V813.8H597.8ZM637.9 813.8H653.9V824.9H637.9ZM653.9 824.9H669.9V836.0H653.9ZM669.9 836.0H685.9V847.2H669.9ZM734.0 847.2H750.0V858.3H734.0ZM758.0 847.2H766.0V858.3H758.0ZM742.0 858.3H758.0V869.4H742.0ZM766.0 858.3H782.0V869.4H766.0ZM806.1 869.4H822.1V880.5H806.1ZM806.1 880.5H814.1V891.6H806.1ZM830.1 880.5H908.3V891.6H830.1ZM862.1 891.6H878.1V902.7H862.1ZM886.2 891.6H908.3V902.7H886.2ZM878.1 902.7H894.2V913.9H878.1ZM902.2 902.7H908.3V913.9H902.2Z"/><path fill="#4271c1" d="M181.3 569.3H189.3V580.4H181.3ZM213.3 569.3H221.3V580.4H213.3ZM742.0 569.3H766.0V580.4H742.0ZM782.0 569.3H790.0V580.4H782.0ZM806.1 569.3H814.1V580.4H806.1ZM469.6 580.4H501.7V591.5H469.6ZM685.9 580.4H709.9V591.5H685.9ZM189.3 591.5H197.3V602.6H189.3ZM269.4 636.0H277.4V647.1H269.4ZM333.5 669.3H341.5V680.4H333.5ZM429.6 724.9H437.6V736.0H429.6ZM453.6 736.0H469.6V747.1H453.6ZM477.6 747.1H485.7V758.2H477.6ZM493.7 758.2H509.7V769.3H493.7ZM533.7 769.3H549.7V780.5H533.7ZM541.7 780.5H565.8V791.6H541.7ZM557.8 791.6H573.8V802.7H557.8ZM621.8 802.7H629.8V813.8H621.8ZM653.9 813.8H661.9V824.9H653.9ZM669.9 824.9H685.9V836.0H669.9ZM693.9 824.9H701.9V836.0H693.9ZM685.9 836.0H693.9V847.2H685.9ZM701.9 836.0H742.0V847.2H701.9ZM750.0 847.2H758.0V858.3H750.0ZM766.0 847.2H798.1V858.3H766.0ZM758.0 858.3H766.0V869.4H758.0ZM782.0 858.3H806.1V869.4H782.0ZM822.1 869.4H870.1V880.5H822.1ZM878.1 869.4H908.3V880.5H878.1ZM597.8 991.7H605.8V1002.8H597.8Z"/><path fill="#3d6ebc" d="M766.0 569.3H774.0V580.4H766.0ZM790.0 569.3H798.1V580.4H790.0ZM181.3 580.4H197.3V591.5H181.3ZM365.5 580.4H373.5V591.5H365.5ZM445.6 580.4H469.6V591.5H445.6ZM709.9 580.4H726.0V591.5H709.9ZM750.0 580.4H758.0V591.5H750.0ZM405.6 591.5H413.6V602.6H405.6ZM389.5 702.7H397.5V713.8H389.5ZM405.6 713.8H421.6V724.9H405.6ZM469.6 736.0H477.6V747.1H469.6ZM493.7 747.1H501.7V758.2H493.7ZM509.7 758.2H525.7V769.3H509.7ZM549.7 769.3H557.8V780.5H549.7ZM565.8 769.3H573.8V780.5H565.8ZM565.8 780.5H573.8V791.6H565.8ZM573.8 791.6H581.8V802.7H573.8ZM629.8 802.7H653.9V813.8H629.8ZM661.9 813.8H685.9V824.9H661.9ZM685.9 824.9H693.9V836.0H685.9ZM701.9 824.9H726.0V836.0H701.9ZM734.0 824.9H742.0V836.0H734.0ZM693.9 836.0H701.9V847.2H693.9ZM742.0 836.0H750.0V847.2H742.0ZM798.1 847.2H806.1V858.3H798.1ZM806.1 858.3H822.1V869.4H806.1ZM870.1 869.4H878.1V880.5H870.1ZM790.0 991.7H798.1V1002.8H790.0Z"/><path fill="#386bb5" d="M798.1 569.3H806.1V580.4H798.1ZM381.5 580.4H389.5V591.5H381.5ZM429.6 580.4H445.6V591.5H429.6ZM726.0 580.4H750.0V591.5H726.0ZM758.0 580.4H806.1V591.5H758.0ZM822.1 580.4H846.1V591.5H822.1ZM862.1 580.4H908.3V591.5H862.1ZM173.3 591.5H181.3V602.6H173.3ZM229.3 591.5H237.3V602.6H229.3ZM325.5 591.5H341.5V602.6H325.5ZM413.6 591.5H421.6V602.6H413.6ZM429.6 591.5H437.6V602.6H429.6ZM405.6 702.7H413.6V713.8H405.6ZM421.6 713.8H429.6V724.9H421.6ZM437.6 724.9H453.6V736.0H437.6ZM477.6 736.0H493.7V747.1H477.6ZM501.7 747.1H517.7V758.2H501.7ZM525.7 758.2H541.7V769.3H525.7ZM557.8 769.3H565.8V780.5H557.8ZM573.8 769.3H581.8V780.5H573.8ZM573.8 780.5H589.8V791.6H573.8ZM581.8 791.6H613.8V802.7H581.8ZM653.9 802.7H669.9V813.8H653.9ZM685.9 813.8H709.9V824.9H685.9ZM726.0 824.9H734.0V836.0H726.0ZM742.0 824.9H758.0V836.0H742.0ZM750.0 836.0H774.0V847.2H750.0ZM806.1 847.2H830.1V858.3H806.1ZM878.1 847.2H894.2V858.3H878.1ZM822.1 858.3H846.1V869.4H822.1ZM854.1 858.3H908.3V869.4H854.1Z"/><path fill="#3366ad" d="M149.2 569.3H157.2V580.4H149.2ZM277.4 569.3H285.4V580.4H277.4ZM301.4 569.3H309.4V580.4H301.4ZM373.5 580.4H381.5V591.5H373.5ZM389.5 580.4H405.6V591.5H389.5ZM413.6 580.4H429.6V591.5H413.6ZM806.1 580.4H822.1V591.5H806.1ZM846.1 580.4H862.1V591.5H846.1ZM317.4 591.5H325.5V602.6H317.4ZM341.5 591.5H357.5V602.6H341.5ZM381.5 591.5H405.6V602.6H381.5ZM437.6 591.5H461.6V602.6H437.6ZM469.6 591.5H477.6V602.6H469.6ZM501.7 591.5H509.7V602.6H501.7ZM517.7 591.5H525.7V602.6H517.7ZM541.7 591.5H549.7V602.6H541.7ZM589.8 591.5H613.8V602.6H589.8ZM637.9 591.5H645.9V602.6H637.9ZM677.9 591.5H685.9V602.6H677.9ZM726.0 591.5H734.0V602.6H726.0ZM742.0 591.5H750.0V602.6H742.0ZM766.0 591.5H790.0V602.6H766.0ZM798.1 591.5H806.1V602.6H798.1ZM814.1 591.5H838.1V602.6H814.1ZM846.1 591.5H862.1V602.6H846.1ZM878.1 591.5H894.2V602.6H878.1ZM397.5 702.7H405.6V713.8H397.5ZM493.7 736.0H501.7V747.1H493.7ZM509.7 736.0H517.7V747.1H509.7ZM517.7 747.1H533.7V758.2H517.7ZM541.7 758.2H549.7V769.3H541.7ZM581.8 769.3H621.8V780.5H581.8ZM589.8 780.5H605.8V791.6H589.8ZM613.8 791.6H629.8V802.7H613.8ZM669.9 802.7H693.9V813.8H669.9ZM718.0 802.7H726.0V813.8H718.0ZM709.9 813.8H750.0V824.9H709.9ZM758.0 824.9H774.0V836.0H758.0ZM774.0 836.0H782.0V847.2H774.0ZM830.1 847.2H878.1V858.3H830.1ZM894.2 847.2H908.3V858.3H894.2ZM846.1 858.3H854.1V869.4H846.1Z"/><path fill="#2f64a5" d="M205.3 569.3H213.3V580.4H205.3ZM293.4 569.3H301.4V580.4H293.4ZM405.6 580.4H413.6V591.5H405.6ZM357.5 591.5H381.5V602.6H357.5ZM461.6 591.5H469.6V602.6H461.6ZM477.6 591.5H501.7V602.6H477.6ZM509.7 591.5H517.7V602.6H509.7ZM525.7 591.5H541.7V602.6H525.7ZM549.7 591.5H589.8V602.6H549.7ZM613.8 591.5H637.9V602.6H613.8ZM645.9 591.5H677.9V602.6H645.9ZM685.9 591.5H726.0V602.6H685.9ZM734.0 591.5H742.0V602.6H734.0ZM750.0 591.5H766.0V602.6H750.0ZM790.0 591.5H798.1V602.6H790.0ZM806.1 591.5H814.1V602.6H806.1ZM838.1 591.5H846.1V602.6H838.1ZM862.1 591.5H878.1V602.6H862.1ZM894.2 591.5H908.3V602.6H894.2ZM221.3 613.7H229.3V624.8H221.3ZM293.4 647.1H309.4V658.2H293.4ZM341.5 669.3H349.5V680.4H341.5ZM429.6 713.8H437.6V724.9H429.6ZM453.6 724.9H461.6V736.0H453.6ZM501.7 736.0H509.7V747.1H501.7ZM533.7 747.1H549.7V758.2H533.7ZM549.7 758.2H573.8V769.3H549.7ZM629.8 769.3H645.9V780.5H629.8ZM605.8 780.5H637.9V791.6H605.8ZM629.8 791.6H645.9V802.7H629.8ZM693.9 802.7H718.0V813.8H693.9ZM726.0 802.7H750.0V813.8H726.0ZM750.0 813.8H774.0V824.9H750.0ZM774.0 824.9H790.0V836.0H774.0ZM782.0 836.0H806.1V847.2H782.0ZM814.1 836.0H908.3V847.2H814.1ZM701.9 991.7H709.9V1002.8H701.9Z"/><path fill="#2d619e" d="M229.3 569.3H237.3V580.4H229.3ZM493.7 569.3H501.7V580.4H493.7ZM317.4 658.2H325.5V669.3H317.4ZM381.5 691.5H389.5V702.7H381.5ZM397.5 691.5H405.6V702.7H397.5ZM413.6 702.7H421.6V713.8H413.6ZM461.6 724.9H477.6V736.0H461.6ZM517.7 736.0H533.7V747.1H517.7ZM549.7 747.1H565.8V758.2H549.7ZM573.8 758.2H605.8V769.3H573.8ZM621.8 769.3H629.8V780.5H621.8ZM645.9 769.3H669.9V780.5H645.9ZM637.9 780.5H653.9V791.6H637.9ZM645.9 791.6H693.9V802.7H645.9ZM701.9 791.6H709.9V802.7H701.9ZM750.0 802.7H766.0V813.8H750.0ZM774.0 813.8H790.0V824.9H774.0ZM790.0 824.9H894.2V836.0H790.0ZM902.2 824.9H908.3V836.0H902.2ZM806.1 836.0H814.1V847.2H806.1Z"/><path fill="#2a5c98" d="M285.4 569.3H293.4V580.4H285.4ZM830.1 569.3H838.1V580.4H830.1ZM277.4 602.6H309.4V613.7H277.4ZM373.5 680.4H389.5V691.5H373.5ZM389.5 691.5H397.5V702.7H389.5ZM421.6 702.7H445.6V713.8H421.6ZM437.6 713.8H445.6V724.9H437.6ZM453.6 713.8H461.6V724.9H453.6ZM477.6 724.9H485.7V736.0H477.6ZM533.7 736.0H557.8V747.1H533.7ZM565.8 747.1H589.8V758.2H565.8ZM597.8 747.1H605.8V758.2H597.8ZM605.8 758.2H629.8V769.3H605.8ZM645.9 758.2H653.9V769.3H645.9ZM677.9 758.2H685.9V769.3H677.9ZM669.9 769.3H693.9V780.5H669.9ZM653.9 780.5H693.9V791.6H653.9ZM693.9 791.6H701.9V802.7H693.9ZM709.9 791.6H750.0V802.7H709.9ZM766.0 802.7H798.1V813.8H766.0ZM790.0 813.8H862.1V824.9H790.0ZM870.1 813.8H908.3V824.9H870.1ZM894.2 824.9H902.2V836.0H894.2Z"/><path fill="#28558e" d="M814.1 569.3H830.1V580.4H814.1ZM838.1 569.3H908.3V580.4H838.1ZM269.4 602.6H277.4V613.7H269.4ZM309.4 602.6H333.5V613.7H309.4ZM349.5 602.6H357.5V613.7H349.5ZM437.6 602.6H445.6V613.7H437.6ZM277.4 636.0H285.4V647.1H277.4ZM333.5 658.2H341.5V669.3H333.5ZM349.5 669.3H365.5V680.4H349.5ZM365.5 680.4H373.5V691.5H365.5ZM389.5 680.4H397.5V691.5H389.5ZM405.6 691.5H413.6V702.7H405.6ZM445.6 702.7H461.6V713.8H445.6ZM445.6 713.8H453.6V724.9H445.6ZM461.6 713.8H469.6V724.9H461.6ZM477.6 713.8H493.7V724.9H477.6ZM485.7 724.9H493.7V736.0H485.7ZM501.7 724.9H509.7V736.0H501.7ZM557.8 736.0H581.8V747.1H557.8ZM589.8 747.1H597.8V758.2H589.8ZM661.9 747.1H669.9V758.2H661.9ZM629.8 758.2H645.9V769.3H629.8ZM653.9 758.2H677.9V769.3H653.9ZM685.9 758.2H693.9V769.3H685.9ZM693.9 769.3H701.9V780.5H693.9ZM709.9 769.3H734.0V780.5H709.9ZM766.0 769.3H774.0V780.5H766.0ZM693.9 780.5H774.0V791.6H693.9ZM750.0 791.6H782.0V802.7H750.0ZM878.1 791.6H886.2V802.7H878.1ZM798.1 802.7H908.3V813.8H798.1ZM862.1 813.8H870.1V824.9H862.1Z"/><path fill="#274f87" d="M189.3 569.3H197.3V580.4H189.3ZM149.2 580.4H157.2V591.5H149.2ZM221.3 591.5H229.3V602.6H221.3ZM205.3 602.6H213.3V613.7H205.3ZM261.4 602.6H269.4V613.7H261.4ZM333.5 602.6H349.5V613.7H333.5ZM357.5 602.6H437.6V613.7H357.5ZM445.6 602.6H485.7V613.7H445.6ZM501.7 602.6H509.7V613.7H501.7ZM621.8 602.6H629.8V613.7H621.8ZM774.0 602.6H782.0V613.7H774.0ZM830.1 602.6H838.1V613.7H830.1ZM854.1 602.6H862.1V613.7H854.1ZM325.5 658.2H333.5V669.3H325.5ZM397.5 680.4H421.6V691.5H397.5ZM413.6 691.5H453.6V702.7H413.6ZM461.6 702.7H509.7V713.8H461.6ZM469.6 713.8H477.6V724.9H469.6ZM493.7 724.9H501.7V736.0H493.7ZM509.7 724.9H525.7V736.0H509.7ZM581.8 736.0H589.8V747.1H581.8ZM597.8 736.0H605.8V747.1H597.8ZM605.8 747.1H661.9V758.2H605.8ZM669.9 747.1H685.9V758.2H669.9ZM693.9 747.1H701.9V758.2H693.9ZM693.9 758.2H709.9V769.3H693.9ZM718.0 758.2H726.0V769.3H718.0ZM701.9 769.3H709.9V780.5H701.9ZM734.0 769.3H766.0V780.5H734.0ZM774.0 769.3H790.0V780.5H774.0ZM774.0 780.5H806.1V791.6H774.0ZM782.0 791.6H878.1V802.7H782.0ZM886.2 791.6H908.3V802.7H886.2Z"/><path fill="#264981" d="M557.8 569.3H573.8V580.4H557.8ZM197.3 591.5H205.3V602.6H197.3ZM485.7 602.6H501.7V613.7H485.7ZM509.7 602.6H621.8V613.7H509.7ZM629.8 602.6H774.0V613.7H629.8ZM782.0 602.6H830.1V613.7H782.0ZM838.1 602.6H854.1V613.7H838.1ZM862.1 602.6H908.3V613.7H862.1ZM389.5 613.7H397.5V624.8H389.5ZM421.6 613.7H453.6V624.8H421.6ZM469.6 613.7H525.7V624.8H469.6ZM541.7 613.7H557.8V624.8H541.7ZM501.7 624.8H509.7V636.0H501.7ZM309.4 647.1H317.4V658.2H309.4ZM421.6 680.4H429.6V691.5H421.6ZM445.6 680.4H453.6V691.5H445.6ZM453.6 691.5H477.6V702.7H453.6ZM509.7 702.7H517.7V713.8H509.7ZM493.7 713.8H517.7V724.9H493.7ZM525.7 724.9H549.7V736.0H525.7ZM589.8 736.0H597.8V747.1H589.8ZM605.8 736.0H677.9V747.1H605.8ZM685.9 747.1H693.9V758.2H685.9ZM701.9 747.1H709.9V758.2H701.9ZM758.0 747.1H766.0V758.2H758.0ZM774.0 747.1H782.0V758.2H774.0ZM709.9 758.2H718.0V769.3H709.9ZM726.0 758.2H790.0V769.3H726.0ZM790.0 769.3H830.1V780.5H790.0ZM862.1 769.3H870.1V780.5H862.1ZM902.2 769.3H908.3V780.5H902.2ZM806.1 780.5H838.1V791.6H806.1ZM862.1 780.5H878.1V791.6H862.1ZM902.2 991.7H908.3V1002.8H902.2Z"/><path fill="#27447a" d="M253.4 602.6H261.4V613.7H253.4ZM357.5 613.7H373.5V624.8H357.5ZM381.5 613.7H389.5V624.8H381.5ZM397.5 613.7H421.6V624.8H397.5ZM453.6 613.7H469.6V624.8H453.6ZM525.7 613.7H541.7V624.8H525.7ZM557.8 613.7H581.8V624.8H557.8ZM589.8 613.7H629.8V624.8H589.8ZM637.9 613.7H653.9V624.8H637.9ZM661.9 613.7H677.9V624.8H661.9ZM685.9 613.7H701.9V624.8H685.9ZM709.9 613.7H734.0V624.8H709.9ZM758.0 613.7H814.1V624.8H758.0ZM822.1 613.7H862.1V624.8H822.1ZM878.1 613.7H894.2V624.8H878.1ZM902.2 613.7H908.3V624.8H902.2ZM373.5 624.8H501.7V636.0H373.5ZM509.7 624.8H549.7V636.0H509.7ZM557.8 624.8H565.8V636.0H557.8ZM325.5 647.1H333.5V658.2H325.5ZM349.5 658.2H357.5V669.3H349.5ZM365.5 669.3H381.5V680.4H365.5ZM429.6 680.4H445.6V691.5H429.6ZM453.6 680.4H469.6V691.5H453.6ZM477.6 691.5H501.7V702.7H477.6ZM509.7 691.5H517.7V702.7H509.7ZM517.7 702.7H541.7V713.8H517.7ZM517.7 713.8H533.7V724.9H517.7ZM549.7 724.9H565.8V736.0H549.7ZM573.8 724.9H621.8V736.0H573.8ZM677.9 736.0H709.9V747.1H677.9ZM709.9 747.1H758.0V758.2H709.9ZM766.0 747.1H774.0V758.2H766.0ZM782.0 747.1H798.1V758.2H782.0ZM806.1 747.1H814.1V758.2H806.1ZM790.0 758.2H814.1V769.3H790.0ZM830.1 769.3H862.1V780.5H830.1ZM870.1 769.3H902.2V780.5H870.1ZM838.1 780.5H862.1V791.6H838.1ZM878.1 780.5H902.2V791.6H878.1Z"/><path fill="#283e74" d="M573.8 569.3H581.8V580.4H573.8ZM213.3 591.5H221.3V602.6H213.3ZM349.5 613.7H357.5V624.8H349.5ZM373.5 613.7H381.5V624.8H373.5ZM581.8 613.7H589.8V624.8H581.8ZM629.8 613.7H637.9V624.8H629.8ZM653.9 613.7H661.9V624.8H653.9ZM677.9 613.7H685.9V624.8H677.9ZM701.9 613.7H709.9V624.8H701.9ZM734.0 613.7H758.0V624.8H734.0ZM814.1 613.7H822.1V624.8H814.1ZM862.1 613.7H878.1V624.8H862.1ZM894.2 613.7H902.2V624.8H894.2ZM245.4 624.8H253.4V636.0H245.4ZM357.5 624.8H373.5V636.0H357.5ZM549.7 624.8H557.8V636.0H549.7ZM565.8 624.8H573.8V636.0H565.8ZM589.8 624.8H597.8V636.0H589.8ZM605.8 624.8H621.8V636.0H605.8ZM629.8 624.8H637.9V636.0H629.8ZM645.9 624.8H653.9V636.0H645.9ZM661.9 624.8H669.9V636.0H661.9ZM677.9 624.8H701.9V636.0H677.9ZM709.9 624.8H742.0V636.0H709.9ZM758.0 624.8H766.0V636.0H758.0ZM774.0 624.8H782.0V636.0H774.0ZM790.0 624.8H798.1V636.0H790.0ZM806.1 624.8H854.1V636.0H806.1ZM862.1 624.8H894.2V636.0H862.1ZM902.2 624.8H908.3V636.0H902.2ZM317.4 647.1H325.5V658.2H317.4ZM341.5 658.2H349.5V669.3H341.5ZM357.5 658.2H365.5V669.3H357.5ZM381.5 669.3H389.5V680.4H381.5ZM469.6 680.4H493.7V691.5H469.6ZM501.7 691.5H509.7V702.7H501.7ZM517.7 691.5H533.7V702.7H517.7ZM541.7 702.7H549.7V713.8H541.7ZM533.7 713.8H541.7V724.9H533.7ZM549.7 713.8H565.8V724.9H549.7ZM565.8 724.9H573.8V736.0H565.8ZM621.8 724.9H661.9V736.0H621.8ZM709.9 736.0H734.0V747.1H709.9ZM758.0 736.0H774.0V747.1H758.0ZM798.1 747.1H806.1V758.2H798.1ZM814.1 747.1H822.1V758.2H814.1ZM854.1 747.1H862.1V758.2H854.1ZM814.1 758.2H908.3V769.3H814.1ZM902.2 780.5H908.3V791.6H902.2Z"/><path fill="#283971" d="M205.3 591.5H213.3V602.6H205.3ZM237.3 602.6H253.4V613.7H237.3ZM229.3 613.7H245.4V624.8H229.3ZM333.5 613.7H349.5V624.8H333.5ZM349.5 624.8H357.5V636.0H349.5ZM573.8 624.8H589.8V636.0H573.8ZM597.8 624.8H605.8V636.0H597.8ZM621.8 624.8H629.8V636.0H621.8ZM637.9 624.8H645.9V636.0H637.9ZM653.9 624.8H661.9V636.0H653.9ZM669.9 624.8H677.9V636.0H669.9ZM701.9 624.8H709.9V636.0H701.9ZM742.0 624.8H758.0V636.0H742.0ZM766.0 624.8H774.0V636.0H766.0ZM782.0 624.8H790.0V636.0H782.0ZM798.1 624.8H806.1V636.0H798.1ZM854.1 624.8H862.1V636.0H854.1ZM894.2 624.8H902.2V636.0H894.2ZM333.5 647.1H341.5V658.2H333.5ZM365.5 658.2H373.5V669.3H365.5ZM389.5 669.3H397.5V680.4H389.5ZM493.7 680.4H501.7V691.5H493.7ZM533.7 691.5H541.7V702.7H533.7ZM549.7 702.7H573.8V713.8H549.7ZM581.8 702.7H589.8V713.8H581.8ZM597.8 702.7H621.8V713.8H597.8ZM629.8 702.7H637.9V713.8H629.8ZM541.7 713.8H549.7V724.9H541.7ZM565.8 713.8H637.9V724.9H565.8ZM661.9 724.9H693.9V736.0H661.9ZM701.9 724.9H718.0V736.0H701.9ZM734.0 724.9H742.0V736.0H734.0ZM734.0 736.0H758.0V747.1H734.0ZM774.0 736.0H806.1V747.1H774.0ZM822.1 747.1H854.1V758.2H822.1ZM862.1 747.1H908.3V758.2H862.1Z"/><path fill="#29336a" d="M245.4 613.7H253.4V624.8H245.4ZM317.4 613.7H333.5V624.8H317.4ZM333.5 624.8H349.5V636.0H333.5ZM774.0 636.0H822.1V647.1H774.0ZM830.1 636.0H908.3V647.1H830.1ZM341.5 647.1H365.5V658.2H341.5ZM373.5 658.2H389.5V669.3H373.5ZM397.5 669.3H429.6V680.4H397.5ZM501.7 680.4H533.7V691.5H501.7ZM541.7 691.5H549.7V702.7H541.7ZM557.8 691.5H573.8V702.7H557.8ZM605.8 691.5H621.8V702.7H605.8ZM573.8 702.7H581.8V713.8H573.8ZM589.8 702.7H597.8V713.8H589.8ZM621.8 702.7H629.8V713.8H621.8ZM637.9 702.7H645.9V713.8H637.9ZM637.9 713.8H661.9V724.9H637.9ZM693.9 724.9H701.9V736.0H693.9ZM718.0 724.9H734.0V736.0H718.0ZM742.0 724.9H758.0V736.0H742.0ZM806.1 736.0H902.2V747.1H806.1Z"/><path fill="#2a2d63" d="M173.3 569.3H181.3V580.4H173.3ZM197.3 569.3H205.3V580.4H197.3ZM213.3 602.6H221.3V613.7H213.3ZM253.4 613.7H261.4V624.8H253.4ZM293.4 613.7H317.4V624.8H293.4ZM325.5 624.8H333.5V636.0H325.5ZM429.6 636.0H445.6V647.1H429.6ZM493.7 636.0H501.7V647.1H493.7ZM517.7 636.0H533.7V647.1H517.7ZM541.7 636.0H581.8V647.1H541.7ZM589.8 636.0H774.0V647.1H589.8ZM822.1 636.0H830.1V647.1H822.1ZM365.5 647.1H373.5V658.2H365.5ZM389.5 658.2H405.6V669.3H389.5ZM413.6 658.2H421.6V669.3H413.6ZM429.6 669.3H453.6V680.4H429.6ZM533.7 680.4H549.7V691.5H533.7ZM549.7 691.5H557.8V702.7H549.7ZM573.8 691.5H605.8V702.7H573.8ZM621.8 691.5H637.9V702.7H621.8ZM645.9 691.5H653.9V702.7H645.9ZM645.9 702.7H677.9V713.8H645.9ZM661.9 713.8H677.9V724.9H661.9ZM685.9 713.8H701.9V724.9H685.9ZM709.9 713.8H734.0V724.9H709.9ZM758.0 724.9H782.0V736.0H758.0ZM790.0 724.9H798.1V736.0H790.0ZM862.1 724.9H894.2V736.0H862.1ZM902.2 736.0H908.3V747.1H902.2Z"/><path fill="#2b285d" d="M157.2 569.3H165.3V580.4H157.2ZM237.3 569.3H245.4V580.4H237.3ZM261.4 613.7H277.4V624.8H261.4ZM285.4 613.7H293.4V624.8H285.4ZM317.4 624.8H325.5V636.0H317.4ZM285.4 636.0H301.4V647.1H285.4ZM397.5 636.0H429.6V647.1H397.5ZM445.6 636.0H493.7V647.1H445.6ZM501.7 636.0H517.7V647.1H501.7ZM533.7 636.0H541.7V647.1H533.7ZM581.8 636.0H589.8V647.1H581.8ZM373.5 647.1H381.5V658.2H373.5ZM405.6 658.2H413.6V669.3H405.6ZM421.6 658.2H429.6V669.3H421.6ZM453.6 669.3H485.7V680.4H453.6ZM501.7 669.3H525.7V680.4H501.7ZM549.7 680.4H629.8V691.5H549.7ZM637.9 680.4H685.9V691.5H637.9ZM637.9 691.5H645.9V702.7H637.9ZM653.9 691.5H669.9V702.7H653.9ZM701.9 691.5H709.9V702.7H701.9ZM742.0 691.5H750.0V702.7H742.0ZM677.9 702.7H758.0V713.8H677.9ZM677.9 713.8H685.9V724.9H677.9ZM701.9 713.8H709.9V724.9H701.9ZM734.0 713.8H774.0V724.9H734.0ZM862.1 713.8H870.1V724.9H862.1ZM782.0 724.9H790.0V736.0H782.0ZM798.1 724.9H862.1V736.0H798.1ZM894.2 724.9H908.3V736.0H894.2Z"/><path fill="#2b2458" d="M165.3 569.3H173.3V580.4H165.3ZM229.3 602.6H237.3V613.7H229.3ZM277.4 613.7H285.4V624.8H277.4ZM269.4 624.8H277.4V636.0H269.4ZM309.4 624.8H317.4V636.0H309.4ZM309.4 636.0H333.5V647.1H309.4ZM349.5 636.0H357.5V647.1H349.5ZM381.5 636.0H397.5V647.1H381.5ZM381.5 647.1H397.5V658.2H381.5ZM701.9 647.1H709.9V658.2H701.9ZM758.0 647.1H908.3V658.2H758.0ZM429.6 658.2H469.6V669.3H429.6ZM493.7 658.2H501.7V669.3H493.7ZM862.1 658.2H870.1V669.3H862.1ZM485.7 669.3H501.7V680.4H485.7ZM525.7 669.3H541.7V680.4H525.7ZM549.7 669.3H557.8V680.4H549.7ZM693.9 669.3H701.9V680.4H693.9ZM854.1 669.3H862.1V680.4H854.1ZM629.8 680.4H637.9V691.5H629.8ZM685.9 680.4H709.9V691.5H685.9ZM742.0 680.4H750.0V691.5H742.0ZM822.1 680.4H830.1V691.5H822.1ZM669.9 691.5H701.9V702.7H669.9ZM709.9 691.5H742.0V702.7H709.9ZM750.0 691.5H774.0V702.7H750.0ZM838.1 691.5H854.1V702.7H838.1ZM894.2 691.5H902.2V702.7H894.2ZM758.0 702.7H790.0V713.8H758.0ZM798.1 702.7H830.1V713.8H798.1ZM846.1 702.7H854.1V713.8H846.1ZM862.1 702.7H894.2V713.8H862.1ZM902.2 702.7H908.3V713.8H902.2ZM774.0 713.8H782.0V724.9H774.0ZM790.0 713.8H798.1V724.9H790.0ZM806.1 713.8H822.1V724.9H806.1ZM830.1 713.8H862.1V724.9H830.1ZM870.1 713.8H908.3V724.9H870.1Z"/><path fill="#2c2055" d="M221.3 602.6H229.3V613.7H221.3ZM253.4 624.8H269.4V636.0H253.4ZM277.4 624.8H309.4V636.0H277.4ZM301.4 636.0H309.4V647.1H301.4ZM333.5 636.0H349.5V647.1H333.5ZM357.5 636.0H381.5V647.1H357.5ZM397.5 647.1H573.8V658.2H397.5ZM581.8 647.1H685.9V658.2H581.8ZM693.9 647.1H701.9V658.2H693.9ZM709.9 647.1H758.0V658.2H709.9ZM477.6 658.2H493.7V669.3H477.6ZM501.7 658.2H637.9V669.3H501.7ZM645.9 658.2H669.9V669.3H645.9ZM677.9 658.2H862.1V669.3H677.9ZM870.1 658.2H908.3V669.3H870.1ZM541.7 669.3H549.7V680.4H541.7ZM557.8 669.3H693.9V680.4H557.8ZM701.9 669.3H798.1V680.4H701.9ZM806.1 669.3H854.1V680.4H806.1ZM862.1 669.3H908.3V680.4H862.1ZM709.9 680.4H726.0V691.5H709.9ZM734.0 680.4H742.0V691.5H734.0ZM750.0 680.4H822.1V691.5H750.0ZM830.1 680.4H908.3V691.5H830.1ZM774.0 691.5H838.1V702.7H774.0ZM854.1 691.5H894.2V702.7H854.1ZM902.2 691.5H908.3V702.7H902.2ZM790.0 702.7H798.1V713.8H790.0ZM830.1 702.7H846.1V713.8H830.1ZM854.1 702.7H862.1V713.8H854.1ZM894.2 702.7H902.2V713.8H894.2ZM782.0 713.8H790.0V724.9H782.0ZM798.1 713.8H806.1V724.9H798.1ZM822.1 713.8H830.1V724.9H822.1Z"/><path fill="#2e1e50" d="M157.2 580.4H165.3V591.5H157.2ZM573.8 647.1H581.8V658.2H573.8ZM685.9 647.1H693.9V658.2H685.9ZM469.6 658.2H477.6V669.3H469.6ZM637.9 658.2H645.9V669.3H637.9ZM669.9 658.2H677.9V669.3H669.9ZM798.1 669.3H806.1V680.4H798.1ZM726.0 680.4H734.0V691.5H726.0Z"/>
</g>
<clipPath id="clipB"><rect x="118" y="563.8" width="790.3" height="556.0"/></clipPath>
<path clip-path="url(#clipB)" d="M180 570.3 L136 570.6 Q125.5 571 127.6 574.6 Q130 578 136 582.5 L300 719 L510 890 L660 1014 L790 1121" fill="none" stroke="#10c0a9" stroke-width="3.5" stroke-linejoin="round"/>
<rect x="118" y="563.8" width="790.3" height="556.0" fill="none" stroke="#000" stroke-width="1.8"/>
<line x1="109.2" y1="666.2" x2="118" y2="666.2" stroke="#000" stroke-width="1.8"/>
<text transform="translate(100.3 677.9) scale(0.956 1)" text-anchor="end">−2</text>
<line x1="109.2" y1="779.7" x2="118" y2="779.7" stroke="#000" stroke-width="1.8"/>
<text transform="translate(100.3 791.4) scale(0.956 1)" text-anchor="end">−4</text>
<line x1="109.2" y1="893.2" x2="118" y2="893.2" stroke="#000" stroke-width="1.8"/>
<text transform="translate(100.3 904.9) scale(0.956 1)" text-anchor="end">−6</text>
<line x1="109.2" y1="1006.6" x2="118" y2="1006.6" stroke="#000" stroke-width="1.8"/>
<text transform="translate(100.3 1018.3) scale(0.956 1)" text-anchor="end">−8</text>
<line x1="109.2" y1="1120.1" x2="118" y2="1120.1" stroke="#000" stroke-width="1.8"/>
<text transform="translate(100.3 1131.8) scale(0.956 1)" text-anchor="end">−10</text>
<line x1="118.0" y1="1119.8" x2="118.0" y2="1128.3999999999999" stroke="#000" stroke-width="1.8"/>
<text transform="translate(118.0 1160) scale(0.956 1)" text-anchor="middle">0</text>
<line x1="276.1" y1="1119.8" x2="276.1" y2="1128.3999999999999" stroke="#000" stroke-width="1.8"/>
<text transform="translate(276.1 1160) scale(0.956 1)" text-anchor="middle">0.5</text>
<line x1="434.1" y1="1119.8" x2="434.1" y2="1128.3999999999999" stroke="#000" stroke-width="1.8"/>
<text transform="translate(434.1 1160) scale(0.956 1)" text-anchor="middle">1.0</text>
<line x1="592.2" y1="1119.8" x2="592.2" y2="1128.3999999999999" stroke="#000" stroke-width="1.8"/>
<text transform="translate(592.2 1160) scale(0.956 1)" text-anchor="middle">1.5</text>
<line x1="750.2" y1="1119.8" x2="750.2" y2="1128.3999999999999" stroke="#000" stroke-width="1.8"/>
<text transform="translate(750.2 1160) scale(0.956 1)" text-anchor="middle">2.0</text>
<text transform="translate(514.5 1200) scale(0.956 1)" text-anchor="middle"><tspan font-style="italic">V</tspan><tspan font-size="20.3" dy="9.7">0</tspan><tspan dy="-9.7" font-size="1">&#8203;</tspan><tspan dx="-2.5"> (</tspan><tspan font-style="italic">E</tspan><tspan font-size="20.3" dy="9.7">r</tspan><tspan dy="-9.7" font-size="1">&#8203;</tspan><tspan dx="-1.5">)</tspan></text>
<text transform="translate(35.5 860) rotate(-90) scale(0.956 1)" text-anchor="middle">Δ<tspan font-size="20.3" dy="9.7">c</tspan><tspan dy="-9.7" font-size="1">&#8203;</tspan>/2π (MHz)</text>
<text transform="translate(719 695.2) scale(0.956 1)" fill="#fff">DW</text>
<text transform="translate(182 893.5) scale(0.956 1)">Uniform</text>
<text transform="translate(182 1027.7) scale(0.956 1)">Unitarity</text>
<text transform="translate(182 1064.2) scale(0.956 1)">1/k<tspan font-size="20.3" dy="9.7">F</tspan><tspan dy="-9.7" font-size="1">&#8203;</tspan><tspan font-style="italic">a</tspan> = 0</text>
<rect x="929.3" y="563.8" width="26.300000000000068" height="556.0" fill="url(#cbar)" stroke="#000" stroke-width="1.8"/>
<line x1="955.6" y1="594.5" x2="964.2" y2="594.5" stroke="#000" stroke-width="1.8"/>
<line x1="955.6" y1="716.1" x2="964.2" y2="716.1" stroke="#000" stroke-width="1.8"/>
<line x1="955.6" y1="734.6" x2="964.2" y2="734.6" stroke="#000" stroke-width="1.8"/>
<line x1="955.6" y1="755.2" x2="964.2" y2="755.2" stroke="#000" stroke-width="1.8"/>
<line x1="955.6" y1="778.6" x2="964.2" y2="778.6" stroke="#000" stroke-width="1.8"/>
<line x1="955.6" y1="805.7" x2="964.2" y2="805.7" stroke="#000" stroke-width="1.8"/>
<line x1="955.6" y1="837.7" x2="964.2" y2="837.7" stroke="#000" stroke-width="1.8"/>
<line x1="955.6" y1="876.8" x2="964.2" y2="876.8" stroke="#000" stroke-width="1.8"/>
<line x1="955.6" y1="927.2" x2="964.2" y2="927.2" stroke="#000" stroke-width="1.8"/>
<line x1="955.6" y1="998.3" x2="964.2" y2="998.3" stroke="#000" stroke-width="1.8"/>
<line x1="955.6" y1="1119.9" x2="964.2" y2="1119.9" stroke="#000" stroke-width="1.8"/>
<text transform="translate(973 727.5) scale(0.956 1)">10<tspan font-size="19.5" dy="-10.5">1</tspan></text>
<text transform="translate(973 1131.8) scale(0.956 1)">10<tspan font-size="19.5" dy="-10.5">0</tspan></text>
<text transform="translate(1043 855.5) rotate(-90) scale(0.956 1)" text-anchor="middle">Count rate (MHz)</text>
<text transform="translate(-1.2 601) scale(1.04 1)" style="font-size:34px;font-weight:bold" stroke="#000" stroke-width="0.7" stroke-linejoin="round">b</text>
</g>
<g id="panel-c">
<path d="M118 1503.4 L128.5 1503.4 L246.8 1477 L376.4 1447.6 L468.1 1420.2 L553 1409.5 L655 1370.5 L749.3 1348.6 L845 1334.5 L943.9 1323.4 L955.7 1323.4 L955.7 1817.4 L118 1817.4Z" fill="url(#stripes)"/>
<path d="M118 1503.4 L128.5 1503.4 L246.8 1477 L376.4 1447.6 L468.1 1420.2 L553 1409.5 L655 1370.5 L749.3 1348.6 L845 1334.5 L943.9 1323.4 L955.7 1323.4 L955.7 1817.4 L118 1817.4Z" fill="url(#stripeFade)"/>
<polyline fill="none" stroke="#e0964e" stroke-width="3.8" stroke-linejoin="round" points="127.3,1391.4 190,1388 246.8,1383.9 310,1378.2 376,1371.5 469,1358.7 520,1351.4 553,1346.8 655,1333.4 760,1319 845,1310.2 945.9,1301.5"/>
<rect x="151.4" y="1595.6" width="292.5" height="194.20000000000005" fill="#fdfdfe"/>
<g filter="url(#blur1)" clip-path="url(#clipBCS)">
<path fill="#f9f8fe" d="M269.6 1595.6H275.5V1597.5H269.6ZM278.4 1595.6H334.6V1597.5H278.4ZM337.5 1595.6H343.4V1597.5H337.5ZM166.2 1605.3H169.1V1609.2H166.2ZM192.8 1613.1H195.7V1617.0H192.8ZM201.6 1617.0H204.6V1620.8H201.6ZM216.4 1620.8H219.4V1624.7H216.4ZM228.2 1624.7H231.2V1628.6H228.2ZM240.0 1628.6H243.0V1632.5H240.0ZM248.9 1632.5H251.9V1636.4H248.9ZM254.8 1636.4H260.7V1640.3H254.8ZM266.6 1640.3H269.6V1644.1H266.6ZM275.5 1644.1H281.4V1648.0H275.5ZM290.3 1648.0H293.2V1651.9H290.3ZM293.2 1651.9H296.2V1655.8H293.2ZM305.0 1655.8H308.0V1659.7H305.0ZM316.9 1663.6H319.8V1667.5H316.9ZM322.8 1667.5H328.7V1671.3H322.8ZM328.7 1671.3H331.6V1675.2H328.7ZM337.5 1675.2H340.5V1679.1H337.5ZM343.4 1679.1H346.4V1683.0H343.4ZM349.4 1690.8H352.3V1694.6H349.4ZM349.4 1694.6H355.3V1698.5H349.4ZM349.4 1698.5H358.2V1702.4H349.4ZM355.3 1702.4H364.1V1706.3H355.3ZM364.1 1706.3H378.9V1710.2H364.1ZM387.8 1710.2H393.7V1714.1H387.8ZM399.6 1714.1H408.4V1717.9H399.6ZM402.5 1717.9H411.4V1721.8H402.5ZM411.4 1721.8H417.3V1725.7H411.4ZM420.3 1725.7H423.2V1729.6H420.3Z"/><path fill="#f3f2fc" d="M251.9 1595.6H257.8V1597.5H251.9ZM275.5 1595.6H278.4V1597.5H275.5ZM334.6 1595.6H337.5V1597.5H334.6ZM160.3 1597.5H163.2V1601.4H160.3ZM189.8 1597.5H192.8V1601.4H189.8ZM160.3 1601.4H163.2V1605.3H160.3ZM228.2 1601.4H231.2V1605.3H228.2ZM219.4 1620.8H222.3V1624.7H219.4ZM251.9 1632.5H254.8V1636.4H251.9ZM260.7 1636.4H263.7V1640.3H260.7ZM293.2 1648.0H296.2V1651.9H293.2ZM296.2 1651.9H299.1V1655.8H296.2ZM310.9 1659.7H313.9V1663.6H310.9ZM319.8 1663.6H322.8V1667.5H319.8ZM346.4 1679.1H349.4V1683.0H346.4ZM349.4 1683.0H352.3V1686.9H349.4ZM349.4 1686.9H355.3V1690.8H349.4ZM352.3 1690.8H358.2V1694.6H352.3ZM355.3 1694.6H361.2V1698.5H355.3ZM358.2 1698.5H367.1V1702.4H358.2ZM364.1 1702.4H375.9V1706.3H364.1ZM378.9 1706.3H387.8V1710.2H378.9ZM393.7 1710.2H402.5V1714.1H393.7ZM408.4 1714.1H411.4V1717.9H408.4ZM411.4 1717.9H414.4V1721.8H411.4ZM417.3 1721.8H420.3V1725.7H417.3ZM423.2 1725.7H426.2V1729.6H423.2ZM429.1 1729.6H432.1V1733.5H429.1Z"/><path fill="#edebfa" d="M198.7 1597.5H204.6V1601.4H198.7ZM281.4 1597.5H284.4V1601.4H281.4ZM175.0 1605.3H178.0V1609.2H175.0ZM180.9 1609.2H183.9V1613.1H180.9ZM204.6 1617.0H207.5V1620.8H204.6ZM231.2 1624.7H234.1V1628.6H231.2ZM243.0 1628.6H245.9V1632.5H243.0ZM269.6 1640.3H272.5V1644.1H269.6ZM299.1 1651.9H302.1V1655.8H299.1ZM308.0 1655.8H310.9V1659.7H308.0ZM328.7 1667.5H331.6V1671.3H328.7ZM331.6 1671.3H337.5V1675.2H331.6ZM349.4 1679.1H352.3V1683.0H349.4ZM352.3 1683.0H355.3V1686.9H352.3ZM355.3 1686.9H358.2V1690.8H355.3ZM358.2 1690.8H361.2V1694.6H358.2ZM361.2 1694.6H367.1V1698.5H361.2ZM367.1 1698.5H373.0V1702.4H367.1ZM375.9 1702.4H384.8V1706.3H375.9ZM387.8 1706.3H396.6V1710.2H387.8ZM402.5 1710.2H408.4V1714.1H402.5ZM411.4 1714.1H414.4V1717.9H411.4ZM414.4 1717.9H420.3V1721.8H414.4ZM420.3 1721.8H423.2V1725.7H420.3ZM426.2 1725.7H429.1V1729.6H426.2ZM432.1 1729.6H435.0V1733.5H432.1ZM278.4 1737.4H281.4V1741.2H278.4Z"/><path fill="#e5e2f8" d="M237.1 1597.5H240.0V1601.4H237.1ZM207.5 1617.0H210.5V1620.8H207.5ZM263.7 1636.4H266.6V1640.3H263.7ZM281.4 1644.1H284.4V1648.0H281.4ZM296.2 1648.0H299.1V1651.9H296.2ZM340.5 1675.2H343.4V1679.1H340.5ZM352.3 1679.1H355.3V1683.0H352.3ZM355.3 1683.0H358.2V1686.9H355.3ZM358.2 1686.9H364.1V1690.8H358.2ZM361.2 1690.8H367.1V1694.6H361.2ZM367.1 1694.6H370.0V1698.5H367.1ZM373.0 1698.5H381.9V1702.4H373.0ZM384.8 1702.4H393.7V1706.3H384.8ZM396.6 1706.3H405.5V1710.2H396.6ZM408.4 1710.2H411.4V1714.1H408.4ZM414.4 1714.1H417.3V1717.9H414.4ZM420.3 1717.9H423.2V1721.8H420.3ZM423.2 1721.8H426.2V1725.7H423.2ZM429.1 1725.7H432.1V1729.6H429.1ZM435.0 1729.6H438.0V1733.5H435.0ZM293.2 1749.0H296.2V1752.9H293.2Z"/><path fill="#dcd8f7" d="M172.1 1601.4H175.0V1605.3H172.1ZM272.5 1640.3H275.5V1644.1H272.5ZM284.4 1644.1H287.3V1648.0H284.4ZM302.1 1651.9H305.0V1655.8H302.1ZM313.9 1659.7H316.9V1663.6H313.9ZM358.2 1683.0H361.2V1686.9H358.2ZM364.1 1686.9H367.1V1690.8H364.1ZM367.1 1690.8H370.0V1694.6H367.1ZM370.0 1694.6H378.9V1698.5H370.0ZM381.9 1698.5H387.8V1702.4H381.9ZM393.7 1702.4H402.5V1706.3H393.7ZM405.5 1706.3H411.4V1710.2H405.5ZM411.4 1710.2H417.3V1714.1H411.4ZM417.3 1714.1H423.2V1717.9H417.3ZM423.2 1717.9H429.1V1721.8H423.2ZM426.2 1721.8H435.0V1725.7H426.2ZM438.0 1729.6H440.9V1733.5H438.0ZM281.4 1737.4H284.4V1741.2H281.4ZM408.4 1737.4H411.4V1741.2H408.4ZM296.2 1749.0H299.1V1752.9H296.2Z"/><path fill="#d4d0f4" d="M343.4 1595.6H346.4V1597.5H343.4ZM308.0 1597.5H310.9V1601.4H308.0ZM210.5 1617.0H213.4V1620.8H210.5ZM234.1 1624.7H237.1V1628.6H234.1ZM254.8 1632.5H257.8V1636.4H254.8ZM299.1 1648.0H302.1V1651.9H299.1ZM322.8 1663.6H325.7V1667.5H322.8ZM331.6 1667.5H334.6V1671.3H331.6ZM337.5 1671.3H340.5V1675.2H337.5ZM355.3 1679.1H358.2V1683.0H355.3ZM367.1 1686.9H370.0V1690.8H367.1ZM370.0 1690.8H375.9V1694.6H370.0ZM378.9 1694.6H384.8V1698.5H378.9ZM387.8 1698.5H393.7V1702.4H387.8ZM402.5 1702.4H408.4V1706.3H402.5ZM411.4 1706.3H414.4V1710.2H411.4ZM417.3 1710.2H423.2V1714.1H417.3ZM423.2 1714.1H429.1V1717.9H423.2ZM429.1 1717.9H432.1V1721.8H429.1ZM435.0 1721.8H440.9V1725.7H435.0ZM432.1 1725.7H443.9V1729.6H432.1ZM440.9 1729.6H443.9V1733.5H440.9ZM313.9 1737.4H316.9V1741.2H313.9ZM352.3 1737.4H361.2V1741.2H352.3ZM364.1 1737.4H373.0V1741.2H364.1ZM378.9 1737.4H393.7V1741.2H378.9ZM396.6 1737.4H408.4V1741.2H396.6ZM411.4 1737.4H420.3V1741.2H411.4ZM367.1 1749.0H393.7V1752.9H367.1ZM396.6 1749.0H402.5V1752.9H396.6ZM440.9 1749.0H443.9V1752.9H440.9Z"/><path fill="#ccc8f2" d="M248.9 1595.6H251.9V1597.5H248.9ZM257.8 1595.6H260.7V1597.5H257.8ZM266.6 1595.6H269.6V1597.5H266.6ZM231.2 1597.5H237.1V1601.4H231.2ZM302.1 1597.5H308.0V1601.4H302.1ZM231.2 1601.4H234.1V1605.3H231.2ZM183.9 1609.2H186.9V1613.1H183.9ZM222.3 1620.8H225.3V1624.7H222.3ZM275.5 1640.3H278.4V1644.1H275.5ZM310.9 1655.8H313.9V1659.7H310.9ZM316.9 1659.7H319.8V1663.6H316.9ZM343.4 1675.2H346.4V1679.1H343.4ZM370.0 1686.9H375.9V1690.8H370.0ZM375.9 1690.8H381.9V1694.6H375.9ZM384.8 1694.6H390.7V1698.5H384.8ZM393.7 1698.5H402.5V1702.4H393.7ZM408.4 1702.4H411.4V1706.3H408.4ZM414.4 1706.3H417.3V1710.2H414.4ZM423.2 1710.2H426.2V1714.1H423.2ZM429.1 1714.1H432.1V1717.9H429.1ZM432.1 1717.9H440.9V1721.8H432.1ZM440.9 1721.8H443.9V1725.7H440.9ZM278.4 1733.5H281.4V1737.4H278.4ZM284.4 1737.4H287.3V1741.2H284.4ZM308.0 1737.4H310.9V1741.2H308.0ZM316.9 1737.4H319.8V1741.2H316.9ZM346.4 1737.4H352.3V1741.2H346.4ZM361.2 1737.4H364.1V1741.2H361.2ZM373.0 1737.4H378.9V1741.2H373.0ZM393.7 1737.4H396.6V1741.2H393.7ZM420.3 1737.4H426.2V1741.2H420.3ZM432.1 1737.4H443.9V1741.2H432.1ZM299.1 1749.0H302.1V1752.9H299.1ZM325.7 1749.0H328.7V1752.9H325.7ZM331.6 1749.0H337.5V1752.9H331.6ZM352.3 1749.0H367.1V1752.9H352.3ZM393.7 1749.0H396.6V1752.9H393.7ZM402.5 1749.0H417.3V1752.9H402.5ZM429.1 1749.0H440.9V1752.9H429.1Z"/><path fill="#c4bff0" d="M195.7 1613.1H198.7V1617.0H195.7ZM237.1 1624.7H240.0V1628.6H237.1ZM245.9 1628.6H248.9V1632.5H245.9ZM305.0 1651.9H308.0V1655.8H305.0ZM325.7 1663.6H328.7V1667.5H325.7ZM340.5 1671.3H343.4V1675.2H340.5ZM358.2 1679.1H361.2V1683.0H358.2ZM361.2 1683.0H367.1V1686.9H361.2ZM381.9 1690.8H384.8V1694.6H381.9ZM390.7 1694.6H396.6V1698.5H390.7ZM402.5 1698.5H408.4V1702.4H402.5ZM411.4 1702.4H414.4V1706.3H411.4ZM417.3 1706.3H423.2V1710.2H417.3ZM426.2 1710.2H429.1V1714.1H426.2ZM432.1 1714.1H438.0V1717.9H432.1ZM440.9 1717.9H443.9V1721.8H440.9ZM305.0 1737.4H308.0V1741.2H305.0ZM310.9 1737.4H313.9V1741.2H310.9ZM319.8 1737.4H328.7V1741.2H319.8ZM340.5 1737.4H346.4V1741.2H340.5ZM426.2 1737.4H432.1V1741.2H426.2ZM293.2 1745.1H296.2V1749.0H293.2ZM322.8 1749.0H325.7V1752.9H322.8ZM328.7 1749.0H331.6V1752.9H328.7ZM337.5 1749.0H340.5V1752.9H337.5ZM349.4 1749.0H352.3V1752.9H349.4ZM417.3 1749.0H420.3V1752.9H417.3Z"/><path fill="#bdb6ef" d="M278.4 1640.3H284.4V1644.1H278.4ZM287.3 1644.1H290.3V1648.0H287.3ZM343.4 1671.3H346.4V1675.2H343.4ZM346.4 1675.2H349.4V1679.1H346.4ZM367.1 1683.0H370.0V1686.9H367.1ZM375.9 1686.9H384.8V1690.8H375.9ZM384.8 1690.8H393.7V1694.6H384.8ZM396.6 1694.6H402.5V1698.5H396.6ZM408.4 1698.5H411.4V1702.4H408.4ZM414.4 1702.4H420.3V1706.3H414.4ZM423.2 1706.3H429.1V1710.2H423.2ZM429.1 1710.2H435.0V1714.1H429.1ZM438.0 1714.1H443.9V1717.9H438.0ZM290.3 1737.4H296.2V1741.2H290.3ZM299.1 1737.4H305.0V1741.2H299.1ZM328.7 1737.4H331.6V1741.2H328.7ZM337.5 1737.4H340.5V1741.2H337.5ZM302.1 1749.0H310.9V1752.9H302.1ZM319.8 1749.0H322.8V1752.9H319.8ZM340.5 1749.0H349.4V1752.9H340.5ZM420.3 1749.0H429.1V1752.9H420.3Z"/><path fill="#b6aeed" d="M284.4 1597.5H287.3V1601.4H284.4ZM225.3 1620.8H228.2V1624.7H225.3ZM266.6 1636.4H269.6V1640.3H266.6ZM302.1 1648.0H305.0V1651.9H302.1ZM308.0 1651.9H310.9V1655.8H308.0ZM322.8 1659.7H325.7V1663.6H322.8ZM334.6 1667.5H337.5V1671.3H334.6ZM370.0 1683.0H373.0V1686.9H370.0ZM384.8 1686.9H387.8V1690.8H384.8ZM393.7 1690.8H396.6V1694.6H393.7ZM402.5 1694.6H408.4V1698.5H402.5ZM411.4 1698.5H417.3V1702.4H411.4ZM420.3 1702.4H423.2V1706.3H420.3ZM429.1 1706.3H432.1V1710.2H429.1ZM435.0 1710.2H443.9V1714.1H435.0ZM287.3 1737.4H290.3V1741.2H287.3ZM296.2 1737.4H299.1V1741.2H296.2ZM331.6 1737.4H337.5V1741.2H331.6ZM310.9 1749.0H319.8V1752.9H310.9Z"/><path fill="#afa7ea" d="M237.1 1595.6H240.0V1597.5H237.1ZM225.3 1597.5H231.2V1601.4H225.3ZM310.9 1597.5H313.9V1601.4H310.9ZM284.4 1640.3H287.3V1644.1H284.4ZM290.3 1644.1H293.2V1648.0H290.3ZM310.9 1651.9H313.9V1655.8H310.9ZM313.9 1655.8H316.9V1659.7H313.9ZM319.8 1659.7H322.8V1663.6H319.8ZM325.7 1659.7H328.7V1663.6H325.7ZM328.7 1663.6H331.6V1667.5H328.7ZM337.5 1667.5H340.5V1671.3H337.5ZM346.4 1671.3H349.4V1675.2H346.4ZM349.4 1675.2H355.3V1679.1H349.4ZM361.2 1679.1H370.0V1683.0H361.2ZM373.0 1683.0H378.9V1686.9H373.0ZM387.8 1686.9H393.7V1690.8H387.8ZM396.6 1690.8H405.5V1694.6H396.6ZM408.4 1694.6H414.4V1698.5H408.4ZM417.3 1698.5H423.2V1702.4H417.3ZM423.2 1702.4H432.1V1706.3H423.2ZM432.1 1706.3H440.9V1710.2H432.1Z"/><path fill="#a8a0e6" d="M234.1 1595.6H237.1V1597.5H234.1ZM240.0 1595.6H243.0V1597.5H240.0ZM260.7 1595.6H266.6V1597.5H260.7ZM346.4 1595.6H349.4V1597.5H346.4ZM352.3 1595.6H355.3V1597.5H352.3ZM367.1 1595.6H370.0V1597.5H367.1ZM375.9 1595.6H378.9V1597.5H375.9ZM381.9 1595.6H384.8V1597.5H381.9ZM402.5 1595.6H408.4V1597.5H402.5ZM411.4 1595.6H414.4V1597.5H411.4ZM417.3 1595.6H423.2V1597.5H417.3ZM204.6 1597.5H210.5V1601.4H204.6ZM222.3 1597.5H225.3V1601.4H222.3ZM299.1 1597.5H302.1V1601.4H299.1ZM331.6 1597.5H334.6V1601.4H331.6ZM234.1 1601.4H237.1V1605.3H234.1ZM240.0 1624.7H243.0V1628.6H240.0ZM257.8 1632.5H260.7V1636.4H257.8ZM269.6 1636.4H272.5V1640.3H269.6ZM328.7 1659.7H331.6V1663.6H328.7ZM340.5 1667.5H343.4V1671.3H340.5ZM349.4 1671.3H355.3V1675.2H349.4ZM355.3 1675.2H361.2V1679.1H355.3ZM370.0 1679.1H373.0V1683.0H370.0ZM378.9 1683.0H384.8V1686.9H378.9ZM393.7 1686.9H399.6V1690.8H393.7ZM405.5 1690.8H414.4V1694.6H405.5ZM414.4 1694.6H417.3V1698.5H414.4ZM420.3 1694.6H423.2V1698.5H420.3ZM423.2 1698.5H429.1V1702.4H423.2ZM432.1 1702.4H435.0V1706.3H432.1ZM440.9 1706.3H443.9V1710.2H440.9ZM281.4 1733.5H284.4V1737.4H281.4ZM408.4 1733.5H411.4V1737.4H408.4ZM296.2 1745.1H299.1V1749.0H296.2ZM375.9 1745.1H378.9V1749.0H375.9ZM390.7 1745.1H393.7V1749.0H390.7Z"/><path fill="#9d96e2" d="M349.4 1595.6H352.3V1597.5H349.4ZM370.0 1595.6H375.9V1597.5H370.0ZM408.4 1595.6H411.4V1597.5H408.4ZM414.4 1595.6H417.3V1597.5H414.4ZM322.8 1597.5H325.7V1601.4H322.8ZM169.1 1605.3H172.1V1609.2H169.1ZM186.9 1609.2H189.8V1613.1H186.9ZM228.2 1620.8H231.2V1624.7H228.2ZM293.2 1644.1H296.2V1648.0H293.2ZM305.0 1648.0H308.0V1651.9H305.0ZM313.9 1651.9H316.9V1655.8H313.9ZM331.6 1659.7H334.6V1663.6H331.6ZM331.6 1663.6H334.6V1667.5H331.6ZM343.4 1667.5H349.4V1671.3H343.4ZM355.3 1671.3H361.2V1675.2H355.3ZM361.2 1675.2H367.1V1679.1H361.2ZM373.0 1679.1H375.9V1683.0H373.0ZM384.8 1683.0H390.7V1686.9H384.8ZM399.6 1686.9H405.5V1690.8H399.6ZM414.4 1690.8H417.3V1694.6H414.4ZM417.3 1694.6H420.3V1698.5H417.3ZM423.2 1694.6H426.2V1698.5H423.2ZM429.1 1698.5H435.0V1702.4H429.1ZM435.0 1702.4H443.9V1706.3H435.0ZM355.3 1733.5H358.2V1737.4H355.3ZM364.1 1733.5H373.0V1737.4H364.1ZM378.9 1733.5H381.9V1737.4H378.9ZM384.8 1733.5H387.8V1737.4H384.8ZM396.6 1733.5H399.6V1737.4H396.6ZM411.4 1733.5H414.4V1737.4H411.4ZM367.1 1745.1H370.0V1749.0H367.1ZM373.0 1745.1H375.9V1749.0H373.0ZM378.9 1745.1H384.8V1749.0H378.9ZM387.8 1745.1H390.7V1749.0H387.8ZM396.6 1745.1H399.6V1749.0H396.6Z"/><path fill="#8d8edb" d="M328.7 1597.5H331.6V1601.4H328.7ZM169.1 1601.4H172.1V1605.3H169.1ZM248.9 1628.6H251.9V1632.5H248.9ZM272.5 1636.4H275.5V1640.3H272.5ZM287.3 1640.3H290.3V1644.1H287.3ZM316.9 1655.8H319.8V1659.7H316.9ZM334.6 1663.6H337.5V1667.5H334.6ZM340.5 1663.6H343.4V1667.5H340.5ZM349.4 1667.5H352.3V1671.3H349.4ZM361.2 1671.3H367.1V1675.2H361.2ZM367.1 1675.2H375.9V1679.1H367.1ZM375.9 1679.1H378.9V1683.0H375.9ZM390.7 1683.0H399.6V1686.9H390.7ZM405.5 1686.9H411.4V1690.8H405.5ZM417.3 1690.8H423.2V1694.6H417.3ZM426.2 1694.6H432.1V1698.5H426.2ZM435.0 1698.5H443.9V1702.4H435.0ZM313.9 1733.5H316.9V1737.4H313.9ZM352.3 1733.5H355.3V1737.4H352.3ZM387.8 1733.5H393.7V1737.4H387.8ZM399.6 1733.5H408.4V1737.4H399.6ZM414.4 1733.5H420.3V1737.4H414.4ZM355.3 1745.1H361.2V1749.0H355.3ZM370.0 1745.1H373.0V1749.0H370.0ZM384.8 1745.1H387.8V1749.0H384.8ZM440.9 1745.1H443.9V1749.0H440.9Z"/><path fill="#8088d8" d="M287.3 1597.5H290.3V1601.4H287.3ZM334.6 1597.5H337.5V1601.4H334.6ZM275.5 1636.4H278.4V1640.3H275.5ZM296.2 1644.1H299.1V1648.0H296.2ZM316.9 1651.9H319.8V1655.8H316.9ZM319.8 1655.8H325.7V1659.7H319.8ZM334.6 1659.7H337.5V1663.6H334.6ZM337.5 1663.6H340.5V1667.5H337.5ZM343.4 1663.6H346.4V1667.5H343.4ZM352.3 1667.5H355.3V1671.3H352.3ZM367.1 1671.3H375.9V1675.2H367.1ZM375.9 1675.2H381.9V1679.1H375.9ZM378.9 1679.1H384.8V1683.0H378.9ZM399.6 1683.0H405.5V1686.9H399.6ZM411.4 1686.9H417.3V1690.8H411.4ZM423.2 1690.8H426.2V1694.6H423.2ZM432.1 1694.6H438.0V1698.5H432.1ZM284.4 1733.5H287.3V1737.4H284.4ZM316.9 1733.5H319.8V1737.4H316.9ZM358.2 1733.5H364.1V1737.4H358.2ZM373.0 1733.5H378.9V1737.4H373.0ZM381.9 1733.5H384.8V1737.4H381.9ZM393.7 1733.5H396.6V1737.4H393.7ZM438.0 1733.5H443.9V1737.4H438.0ZM361.2 1745.1H367.1V1749.0H361.2ZM393.7 1745.1H396.6V1749.0H393.7ZM399.6 1745.1H402.5V1749.0H399.6ZM405.5 1745.1H411.4V1749.0H405.5ZM414.4 1745.1H417.3V1749.0H414.4Z"/><path fill="#7686d6" d="M361.2 1595.6H367.1V1597.5H361.2ZM435.0 1595.6H438.0V1597.5H435.0ZM325.7 1597.5H328.7V1601.4H325.7ZM337.5 1597.5H343.4V1601.4H337.5ZM237.1 1601.4H240.0V1605.3H237.1ZM178.0 1605.3H180.9V1609.2H178.0ZM308.0 1648.0H310.9V1651.9H308.0ZM325.7 1655.8H328.7V1659.7H325.7ZM337.5 1659.7H340.5V1663.6H337.5ZM346.4 1663.6H352.3V1667.5H346.4ZM355.3 1667.5H361.2V1671.3H355.3ZM381.9 1675.2H396.6V1679.1H381.9ZM402.5 1675.2H405.5V1679.1H402.5ZM384.8 1679.1H393.7V1683.0H384.8ZM405.5 1683.0H408.4V1686.9H405.5ZM417.3 1686.9H420.3V1690.8H417.3ZM426.2 1690.8H432.1V1694.6H426.2ZM438.0 1694.6H443.9V1698.5H438.0ZM349.4 1733.5H352.3V1737.4H349.4ZM420.3 1733.5H426.2V1737.4H420.3ZM432.1 1733.5H438.0V1737.4H432.1ZM299.1 1745.1H302.1V1749.0H299.1ZM334.6 1745.1H337.5V1749.0H334.6ZM352.3 1745.1H355.3V1749.0H352.3ZM402.5 1745.1H405.5V1749.0H402.5ZM432.1 1745.1H440.9V1749.0H432.1Z"/><path fill="#6b83d2" d="M343.4 1597.5H346.4V1601.4H343.4ZM240.0 1601.4H243.0V1605.3H240.0ZM172.1 1605.3H175.0V1609.2H172.1ZM201.6 1605.3H207.5V1609.2H201.6ZM213.4 1617.0H216.4V1620.8H213.4ZM263.7 1632.5H266.6V1636.4H263.7ZM278.4 1636.4H281.4V1640.3H278.4ZM319.8 1651.9H325.7V1655.8H319.8ZM328.7 1655.8H331.6V1659.7H328.7ZM340.5 1659.7H343.4V1663.6H340.5ZM352.3 1663.6H358.2V1667.5H352.3ZM361.2 1667.5H364.1V1671.3H361.2ZM378.9 1671.3H381.9V1675.2H378.9ZM396.6 1675.2H402.5V1679.1H396.6ZM393.7 1679.1H399.6V1683.0H393.7ZM408.4 1683.0H411.4V1686.9H408.4ZM420.3 1686.9H423.2V1690.8H420.3ZM432.1 1690.8H435.0V1694.6H432.1ZM308.0 1733.5H313.9V1737.4H308.0ZM322.8 1733.5H325.7V1737.4H322.8ZM346.4 1733.5H349.4V1737.4H346.4ZM429.1 1733.5H432.1V1737.4H429.1ZM325.7 1745.1H334.6V1749.0H325.7ZM349.4 1745.1H352.3V1749.0H349.4ZM411.4 1745.1H414.4V1749.0H411.4ZM429.1 1745.1H432.1V1749.0H429.1Z"/><path fill="#5d81cd" d="M346.4 1597.5H352.3V1601.4H346.4ZM370.0 1597.5H373.0V1601.4H370.0ZM302.1 1601.4H305.0V1605.3H302.1ZM328.7 1601.4H331.6V1605.3H328.7ZM207.5 1605.3H213.4V1609.2H207.5ZM243.0 1624.7H245.9V1628.6H243.0ZM260.7 1632.5H263.7V1636.4H260.7ZM266.6 1632.5H269.6V1636.4H266.6ZM281.4 1636.4H284.4V1640.3H281.4ZM290.3 1640.3H293.2V1644.1H290.3ZM310.9 1648.0H313.9V1651.9H310.9ZM325.7 1651.9H328.7V1655.8H325.7ZM331.6 1655.8H337.5V1659.7H331.6ZM343.4 1659.7H346.4V1663.6H343.4ZM358.2 1663.6H361.2V1667.5H358.2ZM364.1 1667.5H370.0V1671.3H364.1ZM375.9 1671.3H378.9V1675.2H375.9ZM381.9 1671.3H384.8V1675.2H381.9ZM387.8 1671.3H390.7V1675.2H387.8ZM399.6 1679.1H411.4V1683.0H399.6ZM411.4 1683.0H414.4V1686.9H411.4ZM423.2 1686.9H426.2V1690.8H423.2ZM435.0 1690.8H440.9V1694.6H435.0ZM305.0 1733.5H308.0V1737.4H305.0ZM319.8 1733.5H322.8V1737.4H319.8ZM343.4 1733.5H346.4V1737.4H343.4ZM426.2 1733.5H429.1V1737.4H426.2ZM337.5 1745.1H340.5V1749.0H337.5ZM417.3 1745.1H420.3V1749.0H417.3Z"/><path fill="#4d7ac9" d="M387.8 1595.6H396.6V1597.5H387.8ZM438.0 1595.6H440.9V1597.5H438.0ZM352.3 1597.5H358.2V1601.4H352.3ZM361.2 1597.5H364.1V1601.4H361.2ZM308.0 1601.4H316.9V1605.3H308.0ZM319.8 1601.4H325.7V1605.3H319.8ZM331.6 1601.4H349.4V1605.3H331.6ZM198.7 1605.3H201.6V1609.2H198.7ZM213.4 1605.3H216.4V1609.2H213.4ZM251.9 1628.6H254.8V1632.5H251.9ZM293.2 1640.3H299.1V1644.1H293.2ZM299.1 1644.1H305.0V1648.0H299.1ZM313.9 1648.0H316.9V1651.9H313.9ZM328.7 1651.9H331.6V1655.8H328.7ZM337.5 1655.8H343.4V1659.7H337.5ZM346.4 1659.7H352.3V1663.6H346.4ZM361.2 1663.6H367.1V1667.5H361.2ZM370.0 1667.5H375.9V1671.3H370.0ZM384.8 1671.3H387.8V1675.2H384.8ZM390.7 1671.3H399.6V1675.2H390.7ZM411.4 1679.1H414.4V1683.0H411.4ZM414.4 1683.0H417.3V1686.9H414.4ZM426.2 1686.9H429.1V1690.8H426.2ZM440.9 1690.8H443.9V1694.6H440.9ZM325.7 1733.5H328.7V1737.4H325.7ZM340.5 1733.5H343.4V1737.4H340.5ZM302.1 1745.1H305.0V1749.0H302.1ZM319.8 1745.1H325.7V1749.0H319.8ZM420.3 1745.1H423.2V1749.0H420.3Z"/><path fill="#4271c1" d="M243.0 1595.6H248.9V1597.5H243.0ZM355.3 1595.6H358.2V1597.5H355.3ZM378.9 1595.6H381.9V1597.5H378.9ZM384.8 1595.6H387.8V1597.5H384.8ZM396.6 1595.6H402.5V1597.5H396.6ZM426.2 1595.6H435.0V1597.5H426.2ZM440.9 1595.6H443.9V1597.5H440.9ZM293.2 1597.5H299.1V1601.4H293.2ZM358.2 1597.5H361.2V1601.4H358.2ZM364.1 1597.5H370.0V1601.4H364.1ZM373.0 1597.5H375.9V1601.4H373.0ZM293.2 1601.4H302.1V1605.3H293.2ZM305.0 1601.4H308.0V1605.3H305.0ZM316.9 1601.4H319.8V1605.3H316.9ZM325.7 1601.4H328.7V1605.3H325.7ZM349.4 1601.4H358.2V1605.3H349.4ZM269.6 1632.5H272.5V1636.4H269.6ZM299.1 1640.3H302.1V1644.1H299.1ZM305.0 1644.1H308.0V1648.0H305.0ZM316.9 1648.0H322.8V1651.9H316.9ZM331.6 1651.9H337.5V1655.8H331.6ZM343.4 1655.8H349.4V1659.7H343.4ZM352.3 1659.7H355.3V1663.6H352.3ZM367.1 1663.6H373.0V1667.5H367.1ZM375.9 1667.5H384.8V1671.3H375.9ZM399.6 1671.3H402.5V1675.2H399.6ZM405.5 1675.2H414.4V1679.1H405.5ZM414.4 1679.1H426.2V1683.0H414.4ZM417.3 1683.0H443.9V1686.9H417.3ZM429.1 1686.9H440.9V1690.8H429.1ZM290.3 1733.5H293.2V1737.4H290.3ZM302.1 1733.5H305.0V1737.4H302.1ZM328.7 1733.5H331.6V1737.4H328.7ZM337.5 1733.5H340.5V1737.4H337.5ZM305.0 1745.1H308.0V1749.0H305.0ZM340.5 1745.1H349.4V1749.0H340.5ZM426.2 1745.1H429.1V1749.0H426.2Z"/><path fill="#3b6cb9" d="M358.2 1595.6H361.2V1597.5H358.2ZM423.2 1595.6H426.2V1597.5H423.2ZM175.0 1597.5H178.0V1601.4H175.0ZM186.9 1597.5H189.8V1601.4H186.9ZM375.9 1597.5H396.6V1601.4H375.9ZM405.5 1597.5H408.4V1601.4H405.5ZM175.0 1601.4H178.0V1605.3H175.0ZM281.4 1601.4H293.2V1605.3H281.4ZM358.2 1601.4H367.1V1605.3H358.2ZM216.4 1605.3H219.4V1609.2H216.4ZM198.7 1613.1H201.6V1617.0H198.7ZM254.8 1628.6H257.8V1632.5H254.8ZM284.4 1636.4H290.3V1640.3H284.4ZM302.1 1640.3H308.0V1644.1H302.1ZM308.0 1644.1H313.9V1648.0H308.0ZM322.8 1648.0H325.7V1651.9H322.8ZM337.5 1651.9H343.4V1655.8H337.5ZM349.4 1655.8H352.3V1659.7H349.4ZM355.3 1659.7H364.1V1663.6H355.3ZM373.0 1663.6H384.8V1667.5H373.0ZM384.8 1667.5H402.5V1671.3H384.8ZM402.5 1671.3H408.4V1675.2H402.5ZM414.4 1675.2H417.3V1679.1H414.4ZM426.2 1679.1H440.9V1683.0H426.2ZM440.9 1686.9H443.9V1690.8H440.9ZM287.3 1733.5H290.3V1737.4H287.3ZM293.2 1733.5H302.1V1737.4H293.2ZM331.6 1733.5H337.5V1737.4H331.6ZM308.0 1745.1H310.9V1749.0H308.0ZM423.2 1745.1H426.2V1749.0H423.2Z"/><path fill="#3366ad" d="M396.6 1597.5H402.5V1601.4H396.6ZM178.0 1601.4H180.9V1605.3H178.0ZM243.0 1601.4H245.9V1605.3H243.0ZM248.9 1601.4H251.9V1605.3H248.9ZM269.6 1601.4H281.4V1605.3H269.6ZM367.1 1601.4H378.9V1605.3H367.1ZM381.9 1601.4H384.8V1605.3H381.9ZM219.4 1605.3H225.3V1609.2H219.4ZM231.2 1620.8H234.1V1624.7H231.2ZM245.9 1624.7H248.9V1628.6H245.9ZM272.5 1632.5H275.5V1636.4H272.5ZM290.3 1636.4H296.2V1640.3H290.3ZM308.0 1640.3H313.9V1644.1H308.0ZM313.9 1644.1H319.8V1648.0H313.9ZM325.7 1648.0H331.6V1651.9H325.7ZM343.4 1651.9H346.4V1655.8H343.4ZM352.3 1655.8H361.2V1659.7H352.3ZM364.1 1659.7H381.9V1663.6H364.1ZM384.8 1663.6H390.7V1667.5H384.8ZM402.5 1667.5H408.4V1671.3H402.5ZM408.4 1671.3H411.4V1675.2H408.4ZM417.3 1675.2H429.1V1679.1H417.3ZM440.9 1679.1H443.9V1683.0H440.9ZM310.9 1745.1H319.8V1749.0H310.9Z"/><path fill="#2e63a0" d="M163.2 1597.5H166.2V1601.4H163.2ZM210.5 1597.5H213.4V1601.4H210.5ZM402.5 1597.5H405.5V1601.4H402.5ZM245.9 1601.4H248.9V1605.3H245.9ZM251.9 1601.4H254.8V1605.3H251.9ZM257.8 1601.4H269.6V1605.3H257.8ZM378.9 1601.4H381.9V1605.3H378.9ZM384.8 1601.4H443.9V1605.3H384.8ZM195.7 1605.3H198.7V1609.2H195.7ZM257.8 1605.3H260.7V1609.2H257.8ZM263.7 1605.3H266.6V1609.2H263.7ZM257.8 1628.6H263.7V1632.5H257.8ZM275.5 1632.5H281.4V1636.4H275.5ZM296.2 1636.4H302.1V1640.3H296.2ZM313.9 1640.3H316.9V1644.1H313.9ZM319.8 1644.1H331.6V1648.0H319.8ZM331.6 1648.0H337.5V1651.9H331.6ZM346.4 1651.9H352.3V1655.8H346.4ZM361.2 1655.8H367.1V1659.7H361.2ZM381.9 1659.7H387.8V1663.6H381.9ZM390.7 1663.6H396.6V1667.5H390.7ZM408.4 1667.5H414.4V1671.3H408.4ZM411.4 1671.3H429.1V1675.2H411.4ZM432.1 1671.3H435.0V1675.2H432.1ZM429.1 1675.2H443.9V1679.1H429.1Z"/><path fill="#2a5c98" d="M216.4 1597.5H222.3V1601.4H216.4ZM290.3 1597.5H293.2V1601.4H290.3ZM254.8 1601.4H257.8V1605.3H254.8ZM180.9 1605.3H183.9V1609.2H180.9ZM225.3 1605.3H234.1V1609.2H225.3ZM248.9 1605.3H257.8V1609.2H248.9ZM260.7 1605.3H263.7V1609.2H260.7ZM266.6 1605.3H269.6V1609.2H266.6ZM373.0 1605.3H375.9V1609.2H373.0ZM411.4 1605.3H414.4V1609.2H411.4ZM417.3 1605.3H426.2V1609.2H417.3ZM432.1 1605.3H435.0V1609.2H432.1ZM438.0 1605.3H443.9V1609.2H438.0ZM263.7 1628.6H266.6V1632.5H263.7ZM281.4 1632.5H290.3V1636.4H281.4ZM302.1 1636.4H310.9V1640.3H302.1ZM316.9 1640.3H325.7V1644.1H316.9ZM331.6 1644.1H343.4V1648.0H331.6ZM337.5 1648.0H343.4V1651.9H337.5ZM352.3 1651.9H355.3V1655.8H352.3ZM358.2 1651.9H361.2V1655.8H358.2ZM367.1 1655.8H384.8V1659.7H367.1ZM387.8 1659.7H393.7V1663.6H387.8ZM396.6 1663.6H402.5V1667.5H396.6ZM414.4 1667.5H423.2V1671.3H414.4ZM426.2 1667.5H429.1V1671.3H426.2ZM429.1 1671.3H432.1V1675.2H429.1ZM435.0 1671.3H443.9V1675.2H435.0Z"/><path fill="#27528a" d="M183.9 1597.5H186.9V1601.4H183.9ZM192.8 1597.5H195.7V1601.4H192.8ZM192.8 1605.3H195.7V1609.2H192.8ZM234.1 1605.3H248.9V1609.2H234.1ZM269.6 1605.3H373.0V1609.2H269.6ZM375.9 1605.3H411.4V1609.2H375.9ZM414.4 1605.3H417.3V1609.2H414.4ZM426.2 1605.3H432.1V1609.2H426.2ZM435.0 1605.3H438.0V1609.2H435.0ZM216.4 1617.0H222.3V1620.8H216.4ZM248.9 1624.7H251.9V1628.6H248.9ZM266.6 1628.6H272.5V1632.5H266.6ZM290.3 1632.5H296.2V1636.4H290.3ZM310.9 1636.4H313.9V1640.3H310.9ZM325.7 1640.3H334.6V1644.1H325.7ZM343.4 1644.1H352.3V1648.0H343.4ZM343.4 1648.0H355.3V1651.9H343.4ZM355.3 1651.9H358.2V1655.8H355.3ZM361.2 1651.9H370.0V1655.8H361.2ZM373.0 1651.9H375.9V1655.8H373.0ZM384.8 1655.8H396.6V1659.7H384.8ZM393.7 1659.7H408.4V1663.6H393.7ZM402.5 1663.6H432.1V1667.5H402.5ZM423.2 1667.5H426.2V1671.3H423.2ZM429.1 1667.5H443.9V1671.3H429.1Z"/><path fill="#264981" d="M213.4 1597.5H216.4V1601.4H213.4ZM408.4 1597.5H443.9V1601.4H408.4ZM189.8 1609.2H192.8V1613.1H189.8ZM201.6 1613.1H204.6V1617.0H201.6ZM234.1 1620.8H237.1V1624.7H234.1ZM251.9 1624.7H260.7V1628.6H251.9ZM272.5 1628.6H278.4V1632.5H272.5ZM296.2 1632.5H305.0V1636.4H296.2ZM313.9 1636.4H325.7V1640.3H313.9ZM334.6 1640.3H346.4V1644.1H334.6ZM352.3 1644.1H364.1V1648.0H352.3ZM355.3 1648.0H375.9V1651.9H355.3ZM370.0 1651.9H373.0V1655.8H370.0ZM375.9 1651.9H393.7V1655.8H375.9ZM396.6 1655.8H405.5V1659.7H396.6ZM408.4 1659.7H435.0V1663.6H408.4ZM432.1 1663.6H443.9V1667.5H432.1Z"/><path fill="#284177" d="M178.0 1597.5H180.9V1601.4H178.0ZM163.2 1601.4H166.2V1605.3H163.2ZM237.1 1620.8H243.0V1624.7H237.1ZM260.7 1624.7H278.4V1628.6H260.7ZM278.4 1628.6H293.2V1632.5H278.4ZM305.0 1632.5H310.9V1636.4H305.0ZM325.7 1636.4H337.5V1640.3H325.7ZM346.4 1640.3H361.2V1644.1H346.4ZM364.1 1644.1H375.9V1648.0H364.1ZM375.9 1648.0H402.5V1651.9H375.9ZM393.7 1651.9H408.4V1655.8H393.7ZM405.5 1655.8H429.1V1659.7H405.5ZM435.0 1659.7H443.9V1663.6H435.0Z"/><path fill="#283971" d="M313.9 1597.5H319.8V1601.4H313.9ZM189.8 1605.3H192.8V1609.2H189.8ZM245.9 1609.2H313.9V1613.1H245.9ZM343.4 1609.2H349.4V1613.1H343.4ZM355.3 1609.2H358.2V1613.1H355.3ZM364.1 1609.2H373.0V1613.1H364.1ZM378.9 1609.2H443.9V1613.1H378.9ZM222.3 1617.0H225.3V1620.8H222.3ZM228.2 1617.0H231.2V1620.8H228.2ZM243.0 1620.8H245.9V1624.7H243.0ZM278.4 1624.7H290.3V1628.6H278.4ZM293.2 1628.6H302.1V1632.5H293.2ZM310.9 1632.5H319.8V1636.4H310.9ZM337.5 1636.4H346.4V1640.3H337.5ZM361.2 1640.3H373.0V1644.1H361.2ZM375.9 1644.1H399.6V1648.0H375.9ZM402.5 1648.0H411.4V1651.9H402.5ZM408.4 1651.9H438.0V1655.8H408.4ZM429.1 1655.8H438.0V1659.7H429.1Z"/><path fill="#293067" d="M319.8 1597.5H322.8V1601.4H319.8ZM183.9 1605.3H186.9V1609.2H183.9ZM234.1 1609.2H245.9V1613.1H234.1ZM313.9 1609.2H343.4V1613.1H313.9ZM349.4 1609.2H355.3V1613.1H349.4ZM358.2 1609.2H364.1V1613.1H358.2ZM373.0 1609.2H378.9V1613.1H373.0ZM204.6 1613.1H210.5V1617.0H204.6ZM414.4 1613.1H443.9V1617.0H414.4ZM225.3 1617.0H228.2V1620.8H225.3ZM231.2 1617.0H234.1V1620.8H231.2ZM245.9 1620.8H251.9V1624.7H245.9ZM290.3 1624.7H302.1V1628.6H290.3ZM302.1 1628.6H310.9V1632.5H302.1ZM319.8 1632.5H337.5V1636.4H319.8ZM346.4 1636.4H358.2V1640.3H346.4ZM373.0 1640.3H399.6V1644.1H373.0ZM399.6 1644.1H414.4V1648.0H399.6ZM411.4 1648.0H440.9V1651.9H411.4ZM438.0 1651.9H443.9V1655.8H438.0ZM438.0 1655.8H443.9V1659.7H438.0Z"/><path fill="#2b285d" d="M186.9 1605.3H189.8V1609.2H186.9ZM195.7 1609.2H201.6V1613.1H195.7ZM222.3 1609.2H234.1V1613.1H222.3ZM319.8 1613.1H322.8V1617.0H319.8ZM334.6 1613.1H414.4V1617.0H334.6ZM234.1 1617.0H240.0V1620.8H234.1ZM251.9 1620.8H263.7V1624.7H251.9ZM266.6 1620.8H269.6V1624.7H266.6ZM302.1 1624.7H310.9V1628.6H302.1ZM310.9 1628.6H337.5V1632.5H310.9ZM337.5 1632.5H349.4V1636.4H337.5ZM358.2 1636.4H384.8V1640.3H358.2ZM399.6 1640.3H411.4V1644.1H399.6ZM414.4 1644.1H432.1V1648.0H414.4ZM440.9 1648.0H443.9V1651.9H440.9Z"/><path fill="#2c2256" d="M192.8 1609.2H195.7V1613.1H192.8ZM201.6 1609.2H222.3V1613.1H201.6ZM210.5 1613.1H213.4V1617.0H210.5ZM254.8 1613.1H296.2V1617.0H254.8ZM299.1 1613.1H319.8V1617.0H299.1ZM322.8 1613.1H334.6V1617.0H322.8ZM240.0 1617.0H245.9V1620.8H240.0ZM411.4 1617.0H414.4V1620.8H411.4ZM417.3 1617.0H443.9V1620.8H417.3ZM263.7 1620.8H266.6V1624.7H263.7ZM269.6 1620.8H281.4V1624.7H269.6ZM310.9 1624.7H322.8V1628.6H310.9ZM337.5 1628.6H349.4V1632.5H337.5ZM349.4 1632.5H355.3V1636.4H349.4ZM361.2 1632.5H367.1V1636.4H361.2ZM370.0 1632.5H373.0V1636.4H370.0ZM384.8 1636.4H390.7V1640.3H384.8ZM411.4 1640.3H426.2V1644.1H411.4ZM432.1 1644.1H443.9V1648.0H432.1Z"/><path fill="#2e1e50" d="M166.2 1597.5H175.0V1601.4H166.2ZM180.9 1597.5H183.9V1601.4H180.9ZM195.7 1597.5H198.7V1601.4H195.7ZM166.2 1601.4H169.1V1605.3H166.2ZM213.4 1613.1H254.8V1617.0H213.4ZM296.2 1613.1H299.1V1617.0H296.2ZM245.9 1617.0H411.4V1620.8H245.9ZM414.4 1617.0H417.3V1620.8H414.4ZM281.4 1620.8H443.9V1624.7H281.4ZM322.8 1624.7H443.9V1628.6H322.8ZM349.4 1628.6H443.9V1632.5H349.4ZM355.3 1632.5H361.2V1636.4H355.3ZM367.1 1632.5H370.0V1636.4H367.1ZM373.0 1632.5H443.9V1636.4H373.0ZM390.7 1636.4H443.9V1640.3H390.7ZM426.2 1640.3H443.9V1644.1H426.2Z"/>
</g>
<clipPath id="clipBCS"><rect x="151.4" y="1595.6" width="292.5" height="194.20000000000005"/></clipPath>
<path clip-path="url(#clipBCS)" d="M172 1598 L156 1598 L153.6 1597.6 L443.9 1778.5" fill="none" stroke="#10c0a9" stroke-width="2.9" stroke-linejoin="round"/>
<rect x="151.4" y="1595.6" width="292.5" height="194.20000000000005" fill="none" stroke="#000" stroke-width="1.6"/>
<line x1="151.4" y1="1595.6" x2="151.4" y2="1586.8" stroke="#000" stroke-width="1.6"/>
<line x1="443.9" y1="1595.6" x2="443.9" y2="1586.8" stroke="#000" stroke-width="1.6"/>
<text transform="translate(151.4 1577) scale(0.956 1)" style="font-size:28.6px" text-anchor="middle">0</text>
<text transform="translate(443.9 1577) scale(0.956 1)" style="font-size:28.6px" text-anchor="middle">2.5</text>
<text transform="translate(304.65 1572) scale(0.956 1)" style="font-size:28.6px" text-anchor="middle"><tspan font-style="italic">V</tspan><tspan font-size="19.5" dy="9.3">0</tspan><tspan dy="-9.3" font-size="1">&#8203;</tspan></text>
<line x1="443.9" y1="1789.8" x2="452.09999999999997" y2="1789.8" stroke="#000" stroke-width="1.6"/>
<text transform="translate(461.5 1800) scale(0.956 1)" style="font-size:28.6px">−10</text>
<text transform="translate(482.5 1683) rotate(-90) scale(0.956 1)" style="font-size:28.6px" text-anchor="middle">Δ<tspan font-size="19.5" dy="9.3">c</tspan><tspan dy="-9.3" font-size="1">&#8203;</tspan>/2π</text>
<text transform="translate(175.5 1726) scale(0.956 1)" style="font-size:28.6px">BCS</text>
<path d="M118 1817.4L151.4 1789.8M118 1817.4L443.9 1789.8" stroke="#000" stroke-width="1.9" stroke-dasharray="8.4 3.6" fill="none"/>
<rect x="628.9" y="1595.6" width="292.70000000000005" height="194.20000000000005" fill="#fdfdfe"/>
<g filter="url(#blur1)" clip-path="url(#clipBEC)">
<path fill="#f9f8fe" d="M673.2 1595.6H676.2V1597.5H673.2ZM723.5 1595.6H726.5V1597.5H723.5ZM738.3 1595.6H741.2V1597.5H738.3ZM640.7 1605.3H643.7V1609.2H640.7ZM652.6 1609.2H655.5V1613.1H652.6ZM661.4 1617.0H664.4V1620.8H661.4ZM670.3 1620.8H673.2V1624.7H670.3ZM676.2 1624.7H679.2V1628.6H676.2ZM685.1 1628.6H688.0V1632.5H685.1ZM691.0 1632.5H693.9V1636.4H691.0ZM699.9 1640.3H702.8V1644.1H699.9ZM708.7 1648.0H711.7V1651.9H708.7ZM720.6 1659.7H723.5V1663.6H720.6ZM732.4 1675.2H735.3V1679.1H732.4ZM764.9 1710.2H767.9V1714.1H764.9ZM773.8 1717.9H776.7V1721.8H773.8ZM782.6 1725.7H785.6V1729.6H782.6ZM788.6 1752.9H794.5V1756.8H788.6ZM821.1 1756.8H824.0V1760.7H821.1ZM824.0 1760.7H829.9V1764.6H824.0ZM827.0 1764.6H832.9V1768.4H827.0ZM835.9 1768.4H838.8V1772.3H835.9ZM838.8 1772.3H841.8V1776.2H838.8ZM841.8 1776.2H844.7V1780.1H841.8ZM847.7 1780.1H850.6V1784.0H847.7ZM850.6 1784.0H853.6V1787.9H850.6ZM856.6 1787.9H859.5V1789.8H856.6Z"/><path fill="#f3f2fc" d="M667.3 1595.6H673.2V1597.5H667.3ZM676.2 1595.6H723.5V1597.5H676.2ZM726.5 1595.6H738.3V1597.5H726.5ZM741.2 1595.6H773.8V1597.5H741.2ZM637.8 1597.5H640.7V1601.4H637.8ZM637.8 1601.4H640.7V1605.3H637.8ZM646.6 1609.2H649.6V1613.1H646.6ZM717.6 1655.8H720.6V1659.7H717.6ZM756.0 1702.4H759.0V1706.3H756.0ZM761.9 1706.3H764.9V1710.2H761.9ZM770.8 1714.1H773.8V1717.9H770.8ZM779.7 1721.8H782.6V1725.7H779.7ZM785.6 1725.7H788.6V1729.6H785.6ZM797.4 1737.4H800.4V1741.2H797.4ZM788.6 1749.0H791.5V1752.9H788.6ZM794.5 1752.9H800.4V1756.8H794.5ZM824.0 1756.8H827.0V1760.7H824.0ZM829.9 1760.7H832.9V1764.6H829.9ZM832.9 1764.6H835.9V1768.4H832.9ZM838.8 1768.4H841.8V1772.3H838.8ZM841.8 1772.3H844.7V1776.2H841.8ZM844.7 1776.2H850.6V1780.1H844.7ZM850.6 1780.1H853.6V1784.0H850.6ZM853.6 1784.0H859.5V1787.9H853.6ZM859.5 1787.9H862.5V1789.8H859.5Z"/><path fill="#edebfa" d="M643.7 1605.3H646.6V1609.2H643.7ZM649.6 1609.2H652.6V1613.1H649.6ZM658.5 1613.1H661.4V1617.0H658.5ZM664.4 1617.0H667.3V1620.8H664.4ZM696.9 1636.4H699.9V1640.3H696.9ZM705.8 1644.1H708.7V1648.0H705.8ZM753.1 1698.5H756.0V1702.4H753.1ZM759.0 1702.4H761.9V1706.3H759.0ZM767.9 1710.2H770.8V1714.1H767.9ZM776.7 1717.9H779.7V1721.8H776.7ZM782.6 1721.8H785.6V1725.7H782.6ZM788.6 1725.7H791.5V1729.6H788.6ZM702.8 1733.5H705.8V1737.4H702.8ZM800.4 1737.4H806.3V1741.2H800.4ZM691.0 1745.1H693.9V1749.0H691.0ZM791.5 1749.0H794.5V1752.9H791.5ZM800.4 1752.9H806.3V1756.8H800.4ZM827.0 1756.8H832.9V1760.7H827.0ZM832.9 1760.7H835.9V1764.6H832.9ZM835.9 1764.6H841.8V1768.4H835.9ZM841.8 1768.4H844.7V1772.3H841.8ZM844.7 1772.3H850.6V1776.2H844.7ZM850.6 1776.2H853.6V1780.1H850.6ZM853.6 1780.1H859.5V1784.0H853.6ZM859.5 1784.0H862.5V1787.9H859.5ZM862.5 1787.9H865.4V1789.8H862.5Z"/><path fill="#e5e2f8" d="M652.6 1605.3H655.5V1609.2H652.6ZM655.5 1609.2H658.5V1613.1H655.5ZM679.2 1624.7H682.1V1628.6H679.2ZM688.0 1628.6H691.0V1632.5H688.0ZM714.6 1651.9H717.6V1655.8H714.6ZM747.2 1690.8H750.1V1694.6H747.2ZM750.1 1694.6H753.1V1698.5H750.1ZM756.0 1698.5H759.0V1702.4H756.0ZM764.9 1706.3H767.9V1710.2H764.9ZM770.8 1710.2H773.8V1714.1H770.8ZM773.8 1714.1H776.7V1717.9H773.8ZM779.7 1717.9H782.6V1721.8H779.7ZM785.6 1721.8H788.6V1725.7H785.6ZM791.5 1725.7H794.5V1729.6H791.5ZM806.3 1737.4H809.3V1741.2H806.3ZM693.9 1745.1H696.9V1749.0H693.9ZM794.5 1749.0H797.4V1752.9H794.5ZM806.3 1752.9H809.3V1756.8H806.3ZM832.9 1756.8H838.8V1760.7H832.9ZM835.9 1760.7H841.8V1764.6H835.9ZM841.8 1764.6H844.7V1768.4H841.8ZM844.7 1768.4H850.6V1772.3H844.7ZM850.6 1772.3H856.6V1776.2H850.6ZM853.6 1776.2H859.5V1780.1H853.6ZM859.5 1780.1H862.5V1784.0H859.5ZM862.5 1784.0H868.4V1787.9H862.5ZM865.4 1787.9H871.3V1789.8H865.4Z"/><path fill="#dcd8f7" d="M649.6 1601.4H652.6V1605.3H649.6ZM693.9 1632.5H696.9V1636.4H693.9ZM702.8 1640.3H705.8V1644.1H702.8ZM711.7 1648.0H714.6V1651.9H711.7ZM720.6 1655.8H723.5V1659.7H720.6ZM723.5 1659.7H726.5V1663.6H723.5ZM726.5 1663.6H729.4V1667.5H726.5ZM729.4 1667.5H732.4V1671.3H729.4ZM732.4 1671.3H735.3V1675.2H732.4ZM735.3 1675.2H738.3V1679.1H735.3ZM738.3 1679.1H741.2V1683.0H738.3ZM741.2 1683.0H744.2V1686.9H741.2ZM744.2 1686.9H747.2V1690.8H744.2ZM761.9 1702.4H764.9V1706.3H761.9ZM767.9 1706.3H770.8V1710.2H767.9ZM773.8 1710.2H776.7V1714.1H773.8ZM776.7 1714.1H782.6V1717.9H776.7ZM782.6 1717.9H785.6V1721.8H782.6ZM788.6 1721.8H791.5V1725.7H788.6ZM794.5 1725.7H797.4V1729.6H794.5ZM809.3 1737.4H815.2V1741.2H809.3ZM797.4 1749.0H800.4V1752.9H797.4ZM809.3 1752.9H818.1V1756.8H809.3ZM832.9 1752.9H835.9V1756.8H832.9ZM838.8 1756.8H841.8V1760.7H838.8ZM841.8 1760.7H847.7V1764.6H841.8ZM844.7 1764.6H850.6V1768.4H844.7ZM850.6 1768.4H856.6V1772.3H850.6ZM856.6 1772.3H859.5V1776.2H856.6ZM859.5 1776.2H865.4V1780.1H859.5ZM862.5 1780.1H868.4V1784.0H862.5ZM868.4 1784.0H874.3V1787.9H868.4ZM871.3 1787.9H877.3V1789.8H871.3Z"/><path fill="#d4d0f4" d="M673.2 1620.8H676.2V1624.7H673.2ZM753.1 1694.6H756.0V1698.5H753.1ZM759.0 1698.5H761.9V1702.4H759.0ZM764.9 1702.4H767.9V1706.3H764.9ZM770.8 1706.3H773.8V1710.2H770.8ZM776.7 1710.2H779.7V1714.1H776.7ZM782.6 1714.1H785.6V1717.9H782.6ZM785.6 1717.9H791.5V1721.8H785.6ZM791.5 1721.8H797.4V1725.7H791.5ZM797.4 1725.7H800.4V1729.6H797.4ZM705.8 1733.5H708.7V1737.4H705.8ZM815.2 1737.4H824.0V1741.2H815.2ZM691.0 1741.2H693.9V1745.1H691.0ZM696.9 1745.1H699.9V1749.0H696.9ZM735.3 1745.1H738.3V1749.0H735.3ZM741.2 1745.1H744.2V1749.0H741.2ZM800.4 1749.0H803.3V1752.9H800.4ZM818.1 1752.9H832.9V1756.8H818.1ZM835.9 1752.9H841.8V1756.8H835.9ZM841.8 1756.8H847.7V1760.7H841.8ZM847.7 1760.7H853.6V1764.6H847.7ZM850.6 1764.6H856.6V1768.4H850.6ZM856.6 1768.4H862.5V1772.3H856.6ZM859.5 1772.3H865.4V1776.2H859.5ZM865.4 1776.2H868.4V1780.1H865.4ZM868.4 1780.1H874.3V1784.0H868.4ZM874.3 1784.0H880.2V1787.9H874.3ZM877.3 1787.9H886.1V1789.8H877.3Z"/><path fill="#ccc8f2" d="M699.9 1636.4H702.8V1640.3H699.9ZM708.7 1644.1H711.7V1648.0H708.7ZM717.6 1651.9H720.6V1655.8H717.6ZM747.2 1686.9H750.1V1690.8H747.2ZM750.1 1690.8H753.1V1694.6H750.1ZM756.0 1694.6H759.0V1698.5H756.0ZM761.9 1698.5H764.9V1702.4H761.9ZM767.9 1702.4H770.8V1706.3H767.9ZM773.8 1706.3H776.7V1710.2H773.8ZM779.7 1710.2H782.6V1714.1H779.7ZM785.6 1714.1H788.6V1717.9H785.6ZM791.5 1717.9H794.5V1721.8H791.5ZM797.4 1721.8H803.3V1725.7H797.4ZM800.4 1725.7H809.3V1729.6H800.4ZM702.8 1729.6H705.8V1733.5H702.8ZM741.2 1733.5H744.2V1737.4H741.2ZM747.2 1733.5H756.0V1737.4H747.2ZM791.5 1733.5H794.5V1737.4H791.5ZM803.3 1733.5H806.3V1737.4H803.3ZM809.3 1733.5H812.2V1737.4H809.3ZM824.0 1737.4H829.9V1741.2H824.0ZM732.4 1745.1H735.3V1749.0H732.4ZM738.3 1745.1H741.2V1749.0H738.3ZM744.2 1745.1H747.2V1749.0H744.2ZM803.3 1749.0H806.3V1752.9H803.3ZM841.8 1752.9H847.7V1756.8H841.8ZM847.7 1756.8H853.6V1760.7H847.7ZM853.6 1760.7H859.5V1764.6H853.6ZM856.6 1764.6H862.5V1768.4H856.6ZM862.5 1768.4H868.4V1772.3H862.5ZM865.4 1772.3H871.3V1776.2H865.4ZM868.4 1776.2H877.3V1780.1H868.4ZM874.3 1780.1H880.2V1784.0H874.3ZM880.2 1784.0H883.2V1787.9H880.2ZM886.1 1787.9H889.1V1789.8H886.1Z"/><path fill="#c4bff0" d="M661.4 1613.1H664.4V1617.0H661.4ZM667.3 1617.0H670.3V1620.8H667.3ZM696.9 1632.5H699.9V1636.4H696.9ZM705.8 1640.3H708.7V1644.1H705.8ZM744.2 1683.0H747.2V1686.9H744.2ZM759.0 1694.6H761.9V1698.5H759.0ZM764.9 1698.5H767.9V1702.4H764.9ZM770.8 1702.4H773.8V1706.3H770.8ZM776.7 1706.3H779.7V1710.2H776.7ZM782.6 1710.2H785.6V1714.1H782.6ZM788.6 1714.1H794.5V1717.9H788.6ZM794.5 1717.9H800.4V1721.8H794.5ZM803.3 1721.8H809.3V1725.7H803.3ZM809.3 1725.7H818.1V1729.6H809.3ZM708.7 1733.5H711.7V1737.4H708.7ZM729.4 1733.5H741.2V1737.4H729.4ZM744.2 1733.5H747.2V1737.4H744.2ZM756.0 1733.5H782.6V1737.4H756.0ZM788.6 1733.5H791.5V1737.4H788.6ZM794.5 1733.5H797.4V1737.4H794.5ZM806.3 1733.5H809.3V1737.4H806.3ZM812.2 1733.5H818.1V1737.4H812.2ZM821.1 1733.5H824.0V1737.4H821.1ZM829.9 1737.4H835.9V1741.2H829.9ZM699.9 1745.1H705.8V1749.0H699.9ZM711.7 1745.1H714.6V1749.0H711.7ZM717.6 1745.1H732.4V1749.0H717.6ZM747.2 1745.1H756.0V1749.0H747.2ZM759.0 1745.1H761.9V1749.0H759.0ZM773.8 1745.1H782.6V1749.0H773.8ZM785.6 1745.1H791.5V1749.0H785.6ZM797.4 1745.1H800.4V1749.0H797.4ZM803.3 1745.1H809.3V1749.0H803.3ZM841.8 1745.1H844.7V1749.0H841.8ZM806.3 1749.0H809.3V1752.9H806.3ZM847.7 1752.9H856.6V1756.8H847.7ZM853.6 1756.8H859.5V1760.7H853.6ZM859.5 1760.7H865.4V1764.6H859.5ZM862.5 1764.6H868.4V1768.4H862.5ZM868.4 1768.4H874.3V1772.3H868.4ZM871.3 1772.3H877.3V1776.2H871.3ZM877.3 1776.2H883.2V1780.1H877.3ZM880.2 1780.1H889.1V1784.0H880.2ZM883.2 1784.0H892.0V1787.9H883.2ZM889.1 1787.9H897.9V1789.8H889.1Z"/><path fill="#bdb6ef" d="M714.6 1648.0H717.6V1651.9H714.6ZM741.2 1679.1H744.2V1683.0H741.2ZM753.1 1690.8H756.0V1694.6H753.1ZM761.9 1694.6H764.9V1698.5H761.9ZM767.9 1698.5H770.8V1702.4H767.9ZM773.8 1702.4H779.7V1706.3H773.8ZM779.7 1706.3H785.6V1710.2H779.7ZM785.6 1710.2H794.5V1714.1H785.6ZM794.5 1714.1H797.4V1717.9H794.5ZM800.4 1717.9H809.3V1721.8H800.4ZM809.3 1721.8H818.1V1725.7H809.3ZM818.1 1725.7H821.1V1729.6H818.1ZM711.7 1733.5H729.4V1737.4H711.7ZM782.6 1733.5H788.6V1737.4H782.6ZM797.4 1733.5H803.3V1737.4H797.4ZM818.1 1733.5H821.1V1737.4H818.1ZM824.0 1733.5H835.9V1737.4H824.0ZM835.9 1737.4H841.8V1741.2H835.9ZM705.8 1745.1H711.7V1749.0H705.8ZM714.6 1745.1H717.6V1749.0H714.6ZM756.0 1745.1H759.0V1749.0H756.0ZM761.9 1745.1H773.8V1749.0H761.9ZM782.6 1745.1H785.6V1749.0H782.6ZM791.5 1745.1H797.4V1749.0H791.5ZM800.4 1745.1H803.3V1749.0H800.4ZM809.3 1745.1H841.8V1749.0H809.3ZM844.7 1745.1H853.6V1749.0H844.7ZM856.6 1752.9H862.5V1756.8H856.6ZM859.5 1756.8H865.4V1760.7H859.5ZM865.4 1760.7H871.3V1764.6H865.4ZM868.4 1764.6H877.3V1768.4H868.4ZM874.3 1768.4H883.2V1772.3H874.3ZM877.3 1772.3H886.1V1776.2H877.3ZM883.2 1776.2H892.0V1780.1H883.2ZM889.1 1780.1H895.0V1784.0H889.1ZM892.0 1784.0H900.9V1787.9H892.0ZM897.9 1787.9H906.8V1789.8H897.9Z"/><path fill="#b6aeed" d="M702.8 1636.4H705.8V1640.3H702.8ZM711.7 1644.1H714.6V1648.0H711.7ZM720.6 1651.9H723.5V1655.8H720.6ZM723.5 1655.8H726.5V1659.7H723.5ZM726.5 1659.7H729.4V1663.6H726.5ZM729.4 1663.6H732.4V1667.5H729.4ZM732.4 1667.5H735.3V1671.3H732.4ZM735.3 1671.3H738.3V1675.2H735.3ZM738.3 1675.2H741.2V1679.1H738.3ZM750.1 1686.9H753.1V1690.8H750.1ZM756.0 1690.8H759.0V1694.6H756.0ZM764.9 1694.6H767.9V1698.5H764.9ZM770.8 1698.5H773.8V1702.4H770.8ZM779.7 1702.4H782.6V1706.3H779.7ZM785.6 1706.3H788.6V1710.2H785.6ZM794.5 1710.2H800.4V1714.1H794.5ZM800.4 1714.1H803.3V1717.9H800.4ZM809.3 1717.9H818.1V1721.8H809.3ZM818.1 1721.8H827.0V1725.7H818.1ZM821.1 1725.7H832.9V1729.6H821.1ZM835.9 1733.5H844.7V1737.4H835.9ZM841.8 1737.4H850.6V1741.2H841.8ZM693.9 1741.2H696.9V1745.1H693.9ZM853.6 1745.1H859.5V1749.0H853.6ZM809.3 1749.0H812.2V1752.9H809.3ZM862.5 1752.9H868.4V1756.8H862.5ZM865.4 1756.8H874.3V1760.7H865.4ZM871.3 1760.7H877.3V1764.6H871.3ZM877.3 1764.6H886.1V1768.4H877.3ZM883.2 1768.4H889.1V1772.3H883.2ZM886.1 1772.3H895.0V1776.2H886.1ZM892.0 1776.2H897.9V1780.1H892.0ZM895.0 1780.1H903.9V1784.0H895.0ZM900.9 1784.0H906.8V1787.9H900.9ZM906.8 1787.9H912.7V1789.8H906.8Z"/><path fill="#afa7ea" d="M691.0 1628.6H693.9V1632.5H691.0ZM708.7 1640.3H711.7V1644.1H708.7ZM747.2 1683.0H750.1V1686.9H747.2ZM753.1 1686.9H756.0V1690.8H753.1ZM759.0 1690.8H764.9V1694.6H759.0ZM767.9 1694.6H770.8V1698.5H767.9ZM773.8 1698.5H776.7V1702.4H773.8ZM782.6 1702.4H791.5V1706.3H782.6ZM788.6 1706.3H791.5V1710.2H788.6ZM800.4 1710.2H806.3V1714.1H800.4ZM797.4 1714.1H800.4V1717.9H797.4ZM803.3 1714.1H809.3V1717.9H803.3ZM818.1 1717.9H827.0V1721.8H818.1ZM827.0 1721.8H835.9V1725.7H827.0ZM832.9 1725.7H838.8V1729.6H832.9ZM844.7 1733.5H853.6V1737.4H844.7ZM850.6 1737.4H856.6V1741.2H850.6ZM859.5 1745.1H865.4V1749.0H859.5ZM812.2 1749.0H815.2V1752.9H812.2ZM868.4 1752.9H877.3V1756.8H868.4ZM874.3 1756.8H883.2V1760.7H874.3ZM877.3 1760.7H886.1V1764.6H877.3ZM886.1 1764.6H892.0V1768.4H886.1ZM889.1 1768.4H897.9V1772.3H889.1ZM895.0 1772.3H903.9V1776.2H895.0ZM897.9 1776.2H906.8V1780.1H897.9ZM903.9 1780.1H912.7V1784.0H903.9ZM906.8 1784.0H918.6V1787.9H906.8ZM912.7 1787.9H921.6V1789.8H912.7Z"/><path fill="#a8a0e6" d="M670.3 1617.0H673.2V1620.8H670.3ZM682.1 1624.7H685.1V1628.6H682.1ZM717.6 1648.0H720.6V1651.9H717.6ZM744.2 1679.1H747.2V1683.0H744.2ZM750.1 1683.0H753.1V1686.9H750.1ZM756.0 1686.9H759.0V1690.8H756.0ZM770.8 1694.6H773.8V1698.5H770.8ZM782.6 1698.5H788.6V1702.4H782.6ZM791.5 1702.4H794.5V1706.3H791.5ZM806.3 1710.2H809.3V1714.1H806.3ZM809.3 1714.1H812.2V1717.9H809.3ZM815.2 1714.1H829.9V1717.9H815.2ZM827.0 1717.9H838.8V1721.8H827.0ZM835.9 1721.8H838.8V1725.7H835.9ZM838.8 1725.7H847.7V1729.6H838.8ZM853.6 1733.5H859.5V1737.4H853.6ZM856.6 1737.4H865.4V1741.2H856.6ZM865.4 1745.1H874.3V1749.0H865.4ZM815.2 1749.0H818.1V1752.9H815.2ZM832.9 1749.0H835.9V1752.9H832.9ZM847.7 1749.0H850.6V1752.9H847.7ZM871.3 1749.0H874.3V1752.9H871.3ZM877.3 1749.0H880.2V1752.9H877.3ZM877.3 1752.9H886.1V1756.8H877.3ZM883.2 1756.8H889.1V1760.7H883.2ZM886.1 1760.7H897.9V1764.6H886.1ZM892.0 1764.6H900.9V1768.4H892.0ZM897.9 1768.4H906.8V1772.3H897.9ZM903.9 1772.3H912.7V1776.2H903.9ZM906.8 1776.2H915.7V1780.1H906.8ZM912.7 1780.1H921.6V1784.0H912.7ZM918.6 1784.0H921.6V1787.9H918.6Z"/><path fill="#9d96e2" d="M773.8 1595.6H921.6V1597.5H773.8ZM646.6 1601.4H649.6V1605.3H646.6ZM664.4 1613.1H667.3V1617.0H664.4ZM685.1 1624.7H688.0V1628.6H685.1ZM705.8 1636.4H708.7V1640.3H705.8ZM714.6 1644.1H717.6V1648.0H714.6ZM741.2 1675.2H744.2V1679.1H741.2ZM759.0 1686.9H764.9V1690.8H759.0ZM776.7 1698.5H782.6V1702.4H776.7ZM788.6 1698.5H794.5V1702.4H788.6ZM794.5 1702.4H797.4V1706.3H794.5ZM791.5 1706.3H818.1V1710.2H791.5ZM809.3 1710.2H815.2V1714.1H809.3ZM812.2 1714.1H815.2V1717.9H812.2ZM829.9 1714.1H841.8V1717.9H829.9ZM838.8 1717.9H844.7V1721.8H838.8ZM838.8 1721.8H850.6V1725.7H838.8ZM847.7 1725.7H856.6V1729.6H847.7ZM705.8 1729.6H708.7V1733.5H705.8ZM859.5 1733.5H868.4V1737.4H859.5ZM865.4 1737.4H871.3V1741.2H865.4ZM874.3 1745.1H886.1V1749.0H874.3ZM818.1 1749.0H824.0V1752.9H818.1ZM827.0 1749.0H832.9V1752.9H827.0ZM835.9 1749.0H838.8V1752.9H835.9ZM841.8 1749.0H844.7V1752.9H841.8ZM850.6 1749.0H871.3V1752.9H850.6ZM874.3 1749.0H877.3V1752.9H874.3ZM880.2 1749.0H883.2V1752.9H880.2ZM886.1 1749.0H889.1V1752.9H886.1ZM886.1 1752.9H895.0V1756.8H886.1ZM889.1 1756.8H900.9V1760.7H889.1ZM897.9 1760.7H906.8V1764.6H897.9ZM900.9 1764.6H912.7V1768.4H900.9ZM906.8 1768.4H915.7V1772.3H906.8ZM912.7 1772.3H921.6V1776.2H912.7ZM915.7 1776.2H921.6V1780.1H915.7Z"/><path fill="#8d8edb" d="M658.5 1609.2H661.4V1613.1H658.5ZM676.2 1620.8H679.2V1624.7H676.2ZM717.6 1644.1H720.6V1648.0H717.6ZM720.6 1648.0H723.5V1651.9H720.6ZM723.5 1651.9H726.5V1655.8H723.5ZM726.5 1655.8H729.4V1659.7H726.5ZM729.4 1659.7H732.4V1663.6H729.4ZM732.4 1663.6H735.3V1667.5H732.4ZM735.3 1667.5H741.2V1671.3H735.3ZM738.3 1671.3H750.1V1675.2H738.3ZM744.2 1675.2H750.1V1679.1H744.2ZM747.2 1679.1H753.1V1683.0H747.2ZM764.9 1686.9H767.9V1690.8H764.9ZM764.9 1690.8H767.9V1694.6H764.9ZM773.8 1694.6H776.7V1698.5H773.8ZM794.5 1698.5H797.4V1702.4H794.5ZM797.4 1702.4H800.4V1706.3H797.4ZM818.1 1706.3H824.0V1710.2H818.1ZM815.2 1710.2H844.7V1714.1H815.2ZM850.6 1710.2H853.6V1714.1H850.6ZM841.8 1714.1H853.6V1717.9H841.8ZM844.7 1717.9H856.6V1721.8H844.7ZM850.6 1721.8H859.5V1725.7H850.6ZM856.6 1725.7H877.3V1729.6H856.6ZM880.2 1725.7H889.1V1729.6H880.2ZM892.0 1725.7H895.0V1729.6H892.0ZM868.4 1733.5H880.2V1737.4H868.4ZM883.2 1733.5H895.0V1737.4H883.2ZM897.9 1733.5H909.8V1737.4H897.9ZM912.7 1733.5H921.6V1737.4H912.7ZM871.3 1737.4H886.1V1741.2H871.3ZM889.1 1737.4H903.9V1741.2H889.1ZM906.8 1737.4H921.6V1741.2H906.8ZM696.9 1741.2H699.9V1745.1H696.9ZM735.3 1741.2H738.3V1745.1H735.3ZM741.2 1741.2H744.2V1745.1H741.2ZM886.1 1745.1H900.9V1749.0H886.1ZM906.8 1745.1H912.7V1749.0H906.8ZM915.7 1745.1H921.6V1749.0H915.7ZM824.0 1749.0H827.0V1752.9H824.0ZM838.8 1749.0H841.8V1752.9H838.8ZM844.7 1749.0H847.7V1752.9H844.7ZM883.2 1749.0H886.1V1752.9H883.2ZM889.1 1749.0H897.9V1752.9H889.1ZM903.9 1749.0H921.6V1752.9H903.9ZM895.0 1752.9H903.9V1756.8H895.0ZM906.8 1752.9H912.7V1756.8H906.8ZM915.7 1752.9H921.6V1756.8H915.7ZM900.9 1756.8H918.6V1760.7H900.9ZM906.8 1760.7H921.6V1764.6H906.8ZM912.7 1764.6H921.6V1768.4H912.7ZM915.7 1768.4H921.6V1772.3H915.7Z"/><path fill="#8088d8" d="M711.7 1640.3H714.6V1644.1H711.7ZM726.5 1651.9H729.4V1655.8H726.5ZM741.2 1667.5H744.2V1671.3H741.2ZM750.1 1675.2H753.1V1679.1H750.1ZM753.1 1679.1H756.0V1683.0H753.1ZM761.9 1683.0H764.9V1686.9H761.9ZM767.9 1690.8H770.8V1694.6H767.9ZM782.6 1694.6H785.6V1698.5H782.6ZM791.5 1694.6H794.5V1698.5H791.5ZM797.4 1698.5H803.3V1702.4H797.4ZM806.3 1698.5H809.3V1702.4H806.3ZM800.4 1702.4H806.3V1706.3H800.4ZM809.3 1702.4H818.1V1706.3H809.3ZM829.9 1702.4H835.9V1706.3H829.9ZM824.0 1706.3H827.0V1710.2H824.0ZM829.9 1706.3H835.9V1710.2H829.9ZM844.7 1710.2H850.6V1714.1H844.7ZM856.6 1710.2H859.5V1714.1H856.6ZM853.6 1714.1H865.4V1717.9H853.6ZM868.4 1714.1H880.2V1717.9H868.4ZM856.6 1717.9H865.4V1721.8H856.6ZM868.4 1717.9H880.2V1721.8H868.4ZM859.5 1721.8H865.4V1725.7H859.5ZM868.4 1721.8H871.3V1725.7H868.4ZM877.3 1721.8H883.2V1725.7H877.3ZM877.3 1725.7H880.2V1729.6H877.3ZM889.1 1725.7H892.0V1729.6H889.1ZM895.0 1725.7H912.7V1729.6H895.0ZM918.6 1725.7H921.6V1729.6H918.6ZM880.2 1733.5H883.2V1737.4H880.2ZM895.0 1733.5H897.9V1737.4H895.0ZM909.8 1733.5H912.7V1737.4H909.8ZM886.1 1737.4H889.1V1741.2H886.1ZM903.9 1737.4H906.8V1741.2H903.9ZM738.3 1741.2H741.2V1745.1H738.3ZM900.9 1745.1H906.8V1749.0H900.9ZM912.7 1745.1H915.7V1749.0H912.7ZM897.9 1749.0H903.9V1752.9H897.9ZM903.9 1752.9H906.8V1756.8H903.9ZM912.7 1752.9H915.7V1756.8H912.7ZM918.6 1756.8H921.6V1760.7H918.6Z"/><path fill="#7686d6" d="M827.0 1597.5H829.9V1601.4H827.0ZM847.7 1597.5H850.6V1601.4H847.7ZM779.7 1601.4H782.6V1605.3H779.7ZM800.4 1601.4H803.3V1605.3H800.4ZM806.3 1601.4H809.3V1605.3H806.3ZM815.2 1601.4H818.1V1605.3H815.2ZM646.6 1605.3H649.6V1609.2H646.6ZM696.9 1605.3H699.9V1609.2H696.9ZM688.0 1624.7H691.0V1628.6H688.0ZM732.4 1659.7H735.3V1663.6H732.4ZM735.3 1663.6H738.3V1667.5H735.3ZM753.1 1675.2H759.0V1679.1H753.1ZM756.0 1679.1H761.9V1683.0H756.0ZM753.1 1683.0H761.9V1686.9H753.1ZM764.9 1683.0H767.9V1686.9H764.9ZM767.9 1686.9H773.8V1690.8H767.9ZM770.8 1690.8H776.7V1694.6H770.8ZM776.7 1694.6H782.6V1698.5H776.7ZM785.6 1694.6H791.5V1698.5H785.6ZM794.5 1694.6H812.2V1698.5H794.5ZM803.3 1698.5H806.3V1702.4H803.3ZM809.3 1698.5H821.1V1702.4H809.3ZM806.3 1702.4H809.3V1706.3H806.3ZM818.1 1702.4H829.9V1706.3H818.1ZM835.9 1702.4H844.7V1706.3H835.9ZM827.0 1706.3H829.9V1710.2H827.0ZM835.9 1706.3H853.6V1710.2H835.9ZM853.6 1710.2H856.6V1714.1H853.6ZM859.5 1710.2H883.2V1714.1H859.5ZM865.4 1714.1H868.4V1717.9H865.4ZM880.2 1714.1H883.2V1717.9H880.2ZM886.1 1714.1H889.1V1717.9H886.1ZM865.4 1717.9H868.4V1721.8H865.4ZM880.2 1717.9H892.0V1721.8H880.2ZM865.4 1721.8H868.4V1725.7H865.4ZM871.3 1721.8H877.3V1725.7H871.3ZM883.2 1721.8H906.8V1725.7H883.2ZM915.7 1721.8H918.6V1725.7H915.7ZM912.7 1725.7H918.6V1729.6H912.7ZM741.2 1729.6H744.2V1733.5H741.2ZM747.2 1729.6H756.0V1733.5H747.2ZM803.3 1729.6H806.3V1733.5H803.3ZM809.3 1729.6H812.2V1733.5H809.3ZM859.5 1729.6H862.5V1733.5H859.5ZM895.0 1729.6H897.9V1733.5H895.0ZM900.9 1729.6H903.9V1733.5H900.9ZM909.8 1729.6H912.7V1733.5H909.8ZM732.4 1741.2H735.3V1745.1H732.4ZM744.2 1741.2H747.2V1745.1H744.2Z"/><path fill="#6b83d2" d="M829.9 1597.5H841.8V1601.4H829.9ZM776.7 1601.4H779.7V1605.3H776.7ZM785.6 1601.4H800.4V1605.3H785.6ZM809.3 1601.4H815.2V1605.3H809.3ZM818.1 1601.4H829.9V1605.3H818.1ZM673.2 1605.3H676.2V1609.2H673.2ZM699.9 1605.3H702.8V1609.2H699.9ZM673.2 1617.0H676.2V1620.8H673.2ZM693.9 1628.6H696.9V1632.5H693.9ZM699.9 1632.5H702.8V1636.4H699.9ZM729.4 1655.8H732.4V1659.7H729.4ZM744.2 1667.5H747.2V1671.3H744.2ZM759.0 1675.2H761.9V1679.1H759.0ZM767.9 1683.0H770.8V1686.9H767.9ZM773.8 1683.0H776.7V1686.9H773.8ZM773.8 1686.9H776.7V1690.8H773.8ZM776.7 1690.8H785.6V1694.6H776.7ZM812.2 1694.6H827.0V1698.5H812.2ZM821.1 1698.5H829.9V1702.4H821.1ZM832.9 1698.5H835.9V1702.4H832.9ZM844.7 1702.4H853.6V1706.3H844.7ZM853.6 1706.3H859.5V1710.2H853.6ZM868.4 1706.3H871.3V1710.2H868.4ZM886.1 1710.2H889.1V1714.1H886.1ZM883.2 1714.1H886.1V1717.9H883.2ZM889.1 1714.1H892.0V1717.9H889.1ZM892.0 1717.9H906.8V1721.8H892.0ZM906.8 1721.8H915.7V1725.7H906.8ZM918.6 1721.8H921.6V1725.7H918.6ZM708.7 1729.6H711.7V1733.5H708.7ZM732.4 1729.6H735.3V1733.5H732.4ZM738.3 1729.6H741.2V1733.5H738.3ZM744.2 1729.6H747.2V1733.5H744.2ZM756.0 1729.6H759.0V1733.5H756.0ZM764.9 1729.6H770.8V1733.5H764.9ZM779.7 1729.6H782.6V1733.5H779.7ZM788.6 1729.6H797.4V1733.5H788.6ZM832.9 1729.6H835.9V1733.5H832.9ZM856.6 1729.6H859.5V1733.5H856.6ZM862.5 1729.6H868.4V1733.5H862.5ZM897.9 1729.6H900.9V1733.5H897.9ZM912.7 1729.6H921.6V1733.5H912.7ZM747.2 1741.2H756.0V1745.1H747.2ZM918.6 1741.2H921.6V1745.1H918.6Z"/><path fill="#5d81cd" d="M664.4 1597.5H667.3V1601.4H664.4ZM770.8 1597.5H776.7V1601.4H770.8ZM841.8 1597.5H847.7V1601.4H841.8ZM850.6 1597.5H859.5V1601.4H850.6ZM871.3 1597.5H874.3V1601.4H871.3ZM883.2 1597.5H886.1V1601.4H883.2ZM761.9 1601.4H776.7V1605.3H761.9ZM782.6 1601.4H785.6V1605.3H782.6ZM803.3 1601.4H806.3V1605.3H803.3ZM829.9 1601.4H838.8V1605.3H829.9ZM741.2 1605.3H744.2V1609.2H741.2ZM679.2 1620.8H682.1V1624.7H679.2ZM696.9 1628.6H699.9V1632.5H696.9ZM714.6 1640.3H717.6V1644.1H714.6ZM723.5 1648.0H726.5V1651.9H723.5ZM750.1 1671.3H753.1V1675.2H750.1ZM756.0 1671.3H759.0V1675.2H756.0ZM764.9 1679.1H767.9V1683.0H764.9ZM770.8 1683.0H773.8V1686.9H770.8ZM776.7 1683.0H782.6V1686.9H776.7ZM776.7 1686.9H788.6V1690.8H776.7ZM785.6 1690.8H827.0V1694.6H785.6ZM827.0 1694.6H835.9V1698.5H827.0ZM829.9 1698.5H832.9V1702.4H829.9ZM835.9 1698.5H859.5V1702.4H835.9ZM853.6 1702.4H865.4V1706.3H853.6ZM868.4 1702.4H874.3V1706.3H868.4ZM877.3 1702.4H880.2V1706.3H877.3ZM859.5 1706.3H868.4V1710.2H859.5ZM871.3 1706.3H886.1V1710.2H871.3ZM883.2 1710.2H886.1V1714.1H883.2ZM889.1 1710.2H921.6V1714.1H889.1ZM892.0 1714.1H921.6V1717.9H892.0ZM906.8 1717.9H921.6V1721.8H906.8ZM729.4 1729.6H732.4V1733.5H729.4ZM735.3 1729.6H738.3V1733.5H735.3ZM759.0 1729.6H764.9V1733.5H759.0ZM770.8 1729.6H779.7V1733.5H770.8ZM797.4 1729.6H800.4V1733.5H797.4ZM806.3 1729.6H809.3V1733.5H806.3ZM812.2 1729.6H818.1V1733.5H812.2ZM821.1 1729.6H824.0V1733.5H821.1ZM835.9 1729.6H838.8V1733.5H835.9ZM841.8 1729.6H844.7V1733.5H841.8ZM847.7 1729.6H850.6V1733.5H847.7ZM853.6 1729.6H856.6V1733.5H853.6ZM871.3 1729.6H874.3V1733.5H871.3ZM877.3 1729.6H886.1V1733.5H877.3ZM903.9 1729.6H909.8V1733.5H903.9ZM699.9 1741.2H702.8V1745.1H699.9ZM711.7 1741.2H714.6V1745.1H711.7ZM720.6 1741.2H732.4V1745.1H720.6ZM759.0 1741.2H761.9V1745.1H759.0ZM773.8 1741.2H779.7V1745.1H773.8ZM785.6 1741.2H791.5V1745.1H785.6ZM803.3 1741.2H809.3V1745.1H803.3ZM841.8 1741.2H844.7V1745.1H841.8ZM897.9 1741.2H900.9V1745.1H897.9Z"/><path fill="#4d7ac9" d="M652.6 1597.5H655.5V1601.4H652.6ZM859.5 1597.5H871.3V1601.4H859.5ZM874.3 1597.5H880.2V1601.4H874.3ZM652.6 1601.4H658.5V1605.3H652.6ZM720.6 1601.4H723.5V1605.3H720.6ZM750.1 1601.4H761.9V1605.3H750.1ZM838.8 1601.4H853.6V1605.3H838.8ZM649.6 1605.3H652.6V1609.2H649.6ZM655.5 1605.3H658.5V1609.2H655.5ZM670.3 1605.3H673.2V1609.2H670.3ZM702.8 1605.3H711.7V1609.2H702.8ZM735.3 1605.3H738.3V1609.2H735.3ZM708.7 1636.4H711.7V1640.3H708.7ZM720.6 1644.1H723.5V1648.0H720.6ZM732.4 1655.8H735.3V1659.7H732.4ZM738.3 1659.7H741.2V1663.6H738.3ZM738.3 1663.6H744.2V1667.5H738.3ZM747.2 1667.5H750.1V1671.3H747.2ZM753.1 1671.3H756.0V1675.2H753.1ZM759.0 1671.3H761.9V1675.2H759.0ZM761.9 1675.2H770.8V1679.1H761.9ZM761.9 1679.1H764.9V1683.0H761.9ZM767.9 1679.1H782.6V1683.0H767.9ZM782.6 1683.0H794.5V1686.9H782.6ZM788.6 1686.9H829.9V1690.8H788.6ZM827.0 1690.8H841.8V1694.6H827.0ZM835.9 1694.6H862.5V1698.5H835.9ZM859.5 1698.5H874.3V1702.4H859.5ZM865.4 1702.4H868.4V1706.3H865.4ZM874.3 1702.4H877.3V1706.3H874.3ZM880.2 1702.4H886.1V1706.3H880.2ZM886.1 1706.3H892.0V1710.2H886.1ZM895.0 1706.3H921.6V1710.2H895.0ZM714.6 1729.6H717.6V1733.5H714.6ZM726.5 1729.6H729.4V1733.5H726.5ZM800.4 1729.6H803.3V1733.5H800.4ZM818.1 1729.6H821.1V1733.5H818.1ZM824.0 1729.6H829.9V1733.5H824.0ZM844.7 1729.6H847.7V1733.5H844.7ZM850.6 1729.6H853.6V1733.5H850.6ZM868.4 1729.6H871.3V1733.5H868.4ZM874.3 1729.6H877.3V1733.5H874.3ZM886.1 1729.6H895.0V1733.5H886.1ZM702.8 1741.2H705.8V1745.1H702.8ZM717.6 1741.2H720.6V1745.1H717.6ZM756.0 1741.2H759.0V1745.1H756.0ZM761.9 1741.2H767.9V1745.1H761.9ZM779.7 1741.2H785.6V1745.1H779.7ZM797.4 1741.2H800.4V1745.1H797.4ZM809.3 1741.2H815.2V1745.1H809.3ZM838.8 1741.2H841.8V1745.1H838.8ZM844.7 1741.2H853.6V1745.1H844.7ZM856.6 1741.2H859.5V1745.1H856.6ZM865.4 1741.2H871.3V1745.1H865.4ZM874.3 1741.2H877.3V1745.1H874.3ZM880.2 1741.2H886.1V1745.1H880.2ZM906.8 1741.2H909.8V1745.1H906.8ZM912.7 1741.2H915.7V1745.1H912.7Z"/><path fill="#4271c1" d="M640.7 1597.5H643.7V1601.4H640.7ZM667.3 1597.5H670.3V1601.4H667.3ZM676.2 1597.5H691.0V1601.4H676.2ZM699.9 1597.5H767.9V1601.4H699.9ZM776.7 1597.5H791.5V1601.4H776.7ZM800.4 1597.5H827.0V1601.4H800.4ZM880.2 1597.5H883.2V1601.4H880.2ZM667.3 1601.4H720.6V1605.3H667.3ZM723.5 1601.4H729.4V1605.3H723.5ZM735.3 1601.4H738.3V1605.3H735.3ZM741.2 1601.4H750.1V1605.3H741.2ZM853.6 1601.4H921.6V1605.3H853.6ZM676.2 1605.3H696.9V1609.2H676.2ZM711.7 1605.3H720.6V1609.2H711.7ZM726.5 1605.3H735.3V1609.2H726.5ZM738.3 1605.3H741.2V1609.2H738.3ZM744.2 1605.3H753.1V1609.2H744.2ZM756.0 1605.3H759.0V1609.2H756.0ZM761.9 1605.3H767.9V1609.2H761.9ZM770.8 1605.3H785.6V1609.2H770.8ZM800.4 1605.3H803.3V1609.2H800.4ZM806.3 1605.3H809.3V1609.2H806.3ZM821.1 1605.3H824.0V1609.2H821.1ZM850.6 1605.3H853.6V1609.2H850.6ZM729.4 1651.9H732.4V1655.8H729.4ZM735.3 1655.8H738.3V1659.7H735.3ZM735.3 1659.7H738.3V1663.6H735.3ZM744.2 1663.6H747.2V1667.5H744.2ZM750.1 1667.5H753.1V1671.3H750.1ZM761.9 1671.3H767.9V1675.2H761.9ZM770.8 1671.3H773.8V1675.2H770.8ZM770.8 1675.2H782.6V1679.1H770.8ZM782.6 1679.1H806.3V1683.0H782.6ZM794.5 1683.0H809.3V1686.9H794.5ZM829.9 1686.9H841.8V1690.8H829.9ZM841.8 1690.8H868.4V1694.6H841.8ZM862.5 1694.6H871.3V1698.5H862.5ZM874.3 1698.5H892.0V1702.4H874.3ZM909.8 1698.5H921.6V1702.4H909.8ZM886.1 1702.4H921.6V1706.3H886.1ZM892.0 1706.3H895.0V1710.2H892.0ZM717.6 1729.6H720.6V1733.5H717.6ZM723.5 1729.6H726.5V1733.5H723.5ZM782.6 1729.6H788.6V1733.5H782.6ZM829.9 1729.6H832.9V1733.5H829.9ZM838.8 1729.6H841.8V1733.5H838.8ZM705.8 1741.2H711.7V1745.1H705.8ZM714.6 1741.2H717.6V1745.1H714.6ZM767.9 1741.2H773.8V1745.1H767.9ZM791.5 1741.2H797.4V1745.1H791.5ZM800.4 1741.2H803.3V1745.1H800.4ZM815.2 1741.2H835.9V1745.1H815.2ZM859.5 1741.2H862.5V1745.1H859.5ZM871.3 1741.2H874.3V1745.1H871.3ZM892.0 1741.2H895.0V1745.1H892.0ZM903.9 1741.2H906.8V1745.1H903.9ZM909.8 1741.2H912.7V1745.1H909.8ZM915.7 1741.2H918.6V1745.1H915.7Z"/><path fill="#3b6cb9" d="M693.9 1597.5H699.9V1601.4H693.9ZM729.4 1601.4H735.3V1605.3H729.4ZM738.3 1601.4H741.2V1605.3H738.3ZM720.6 1605.3H726.5V1609.2H720.6ZM753.1 1605.3H756.0V1609.2H753.1ZM759.0 1605.3H761.9V1609.2H759.0ZM767.9 1605.3H770.8V1609.2H767.9ZM785.6 1605.3H800.4V1609.2H785.6ZM803.3 1605.3H806.3V1609.2H803.3ZM809.3 1605.3H821.1V1609.2H809.3ZM824.0 1605.3H850.6V1609.2H824.0ZM853.6 1605.3H921.6V1609.2H853.6ZM685.1 1609.2H696.9V1613.1H685.1ZM702.8 1632.5H705.8V1636.4H702.8ZM717.6 1640.3H720.6V1644.1H717.6ZM732.4 1651.9H735.3V1655.8H732.4ZM738.3 1655.8H741.2V1659.7H738.3ZM741.2 1659.7H744.2V1663.6H741.2ZM747.2 1663.6H750.1V1667.5H747.2ZM753.1 1667.5H759.0V1671.3H753.1ZM767.9 1671.3H770.8V1675.2H767.9ZM773.8 1671.3H782.6V1675.2H773.8ZM782.6 1675.2H824.0V1679.1H782.6ZM806.3 1679.1H818.1V1683.0H806.3ZM809.3 1683.0H844.7V1686.9H809.3ZM841.8 1686.9H862.5V1690.8H841.8ZM865.4 1686.9H868.4V1690.8H865.4ZM868.4 1690.8H874.3V1694.6H868.4ZM871.3 1694.6H883.2V1698.5H871.3ZM886.1 1694.6H900.9V1698.5H886.1ZM903.9 1694.6H921.6V1698.5H903.9ZM892.0 1698.5H909.8V1702.4H892.0ZM711.7 1729.6H714.6V1733.5H711.7ZM720.6 1729.6H723.5V1733.5H720.6ZM835.9 1741.2H838.8V1745.1H835.9ZM853.6 1741.2H856.6V1745.1H853.6ZM862.5 1741.2H865.4V1745.1H862.5ZM886.1 1741.2H892.0V1745.1H886.1ZM895.0 1741.2H897.9V1745.1H895.0ZM900.9 1741.2H903.9V1745.1H900.9Z"/><path fill="#3366ad" d="M661.4 1597.5H664.4V1601.4H661.4ZM670.3 1597.5H673.2V1601.4H670.3ZM691.0 1597.5H693.9V1601.4H691.0ZM767.9 1597.5H770.8V1601.4H767.9ZM892.0 1597.5H895.0V1601.4H892.0ZM667.3 1605.3H670.3V1609.2H667.3ZM679.2 1609.2H685.1V1613.1H679.2ZM696.9 1609.2H708.7V1613.1H696.9ZM735.3 1609.2H753.1V1613.1H735.3ZM756.0 1609.2H759.0V1613.1H756.0ZM761.9 1609.2H764.9V1613.1H761.9ZM723.5 1644.1H729.4V1648.0H723.5ZM726.5 1648.0H729.4V1651.9H726.5ZM735.3 1651.9H738.3V1655.8H735.3ZM741.2 1655.8H747.2V1659.7H741.2ZM744.2 1659.7H747.2V1663.6H744.2ZM750.1 1663.6H756.0V1667.5H750.1ZM759.0 1667.5H773.8V1671.3H759.0ZM776.7 1667.5H788.6V1671.3H776.7ZM782.6 1671.3H838.8V1675.2H782.6ZM824.0 1675.2H835.9V1679.1H824.0ZM818.1 1679.1H841.8V1683.0H818.1ZM850.6 1679.1H853.6V1683.0H850.6ZM844.7 1683.0H874.3V1686.9H844.7ZM862.5 1686.9H865.4V1690.8H862.5ZM868.4 1686.9H880.2V1690.8H868.4ZM883.2 1686.9H909.8V1690.8H883.2ZM912.7 1686.9H921.6V1690.8H912.7ZM874.3 1690.8H921.6V1694.6H874.3ZM883.2 1694.6H886.1V1698.5H883.2ZM900.9 1694.6H903.9V1698.5H900.9ZM877.3 1741.2H880.2V1745.1H877.3Z"/><path fill="#2e63a0" d="M886.1 1597.5H892.0V1601.4H886.1ZM895.0 1597.5H921.6V1601.4H895.0ZM658.5 1605.3H661.4V1609.2H658.5ZM708.7 1609.2H735.3V1613.1H708.7ZM753.1 1609.2H756.0V1613.1H753.1ZM759.0 1609.2H761.9V1613.1H759.0ZM764.9 1609.2H806.3V1613.1H764.9ZM809.3 1609.2H818.1V1613.1H809.3ZM829.9 1609.2H832.9V1613.1H829.9ZM667.3 1613.1H670.3V1617.0H667.3ZM691.0 1624.7H693.9V1628.6H691.0ZM699.9 1628.6H702.8V1632.5H699.9ZM705.8 1632.5H711.7V1636.4H705.8ZM711.7 1636.4H714.6V1640.3H711.7ZM720.6 1640.3H723.5V1644.1H720.6ZM729.4 1644.1H732.4V1648.0H729.4ZM729.4 1648.0H738.3V1651.9H729.4ZM738.3 1651.9H747.2V1655.8H738.3ZM747.2 1655.8H761.9V1659.7H747.2ZM747.2 1659.7H761.9V1663.6H747.2ZM756.0 1663.6H770.8V1667.5H756.0ZM773.8 1667.5H776.7V1671.3H773.8ZM788.6 1667.5H847.7V1671.3H788.6ZM838.8 1671.3H850.6V1675.2H838.8ZM835.9 1675.2H865.4V1679.1H835.9ZM868.4 1675.2H874.3V1679.1H868.4ZM841.8 1679.1H850.6V1683.0H841.8ZM853.6 1679.1H877.3V1683.0H853.6ZM880.2 1679.1H883.2V1683.0H880.2ZM903.9 1679.1H918.6V1683.0H903.9ZM874.3 1683.0H921.6V1686.9H874.3ZM880.2 1686.9H883.2V1690.8H880.2ZM909.8 1686.9H912.7V1690.8H909.8Z"/><path fill="#2a5c98" d="M655.5 1597.5H658.5V1601.4H655.5ZM791.5 1597.5H797.4V1601.4H791.5ZM640.7 1601.4H643.7V1605.3H640.7ZM664.4 1605.3H667.3V1609.2H664.4ZM661.4 1609.2H664.4V1613.1H661.4ZM676.2 1609.2H679.2V1613.1H676.2ZM806.3 1609.2H809.3V1613.1H806.3ZM818.1 1609.2H829.9V1613.1H818.1ZM832.9 1609.2H921.6V1613.1H832.9ZM723.5 1613.1H791.5V1617.0H723.5ZM735.3 1617.0H744.2V1620.8H735.3ZM750.1 1617.0H756.0V1620.8H750.1ZM761.9 1617.0H767.9V1620.8H761.9ZM776.7 1617.0H779.7V1620.8H776.7ZM682.1 1620.8H688.0V1624.7H682.1ZM741.2 1620.8H744.2V1624.7H741.2ZM750.1 1620.8H756.0V1624.7H750.1ZM764.9 1620.8H767.9V1624.7H764.9ZM714.6 1636.4H720.6V1640.3H714.6ZM723.5 1640.3H726.5V1644.1H723.5ZM732.4 1644.1H738.3V1648.0H732.4ZM738.3 1648.0H750.1V1651.9H738.3ZM747.2 1651.9H761.9V1655.8H747.2ZM764.9 1651.9H767.9V1655.8H764.9ZM761.9 1655.8H779.7V1659.7H761.9ZM761.9 1659.7H779.7V1663.6H761.9ZM770.8 1663.6H850.6V1667.5H770.8ZM859.5 1663.6H862.5V1667.5H859.5ZM847.7 1667.5H877.3V1671.3H847.7ZM880.2 1667.5H883.2V1671.3H880.2ZM850.6 1671.3H889.1V1675.2H850.6ZM892.0 1671.3H895.0V1675.2H892.0ZM903.9 1671.3H906.8V1675.2H903.9ZM865.4 1675.2H868.4V1679.1H865.4ZM874.3 1675.2H906.8V1679.1H874.3ZM877.3 1679.1H880.2V1683.0H877.3ZM883.2 1679.1H903.9V1683.0H883.2ZM918.6 1679.1H921.6V1683.0H918.6Z"/><path fill="#27528a" d="M797.4 1597.5H800.4V1601.4H797.4ZM661.4 1605.3H664.4V1609.2H661.4ZM673.2 1609.2H676.2V1613.1H673.2ZM702.8 1613.1H723.5V1617.0H702.8ZM791.5 1613.1H921.6V1617.0H791.5ZM717.6 1617.0H735.3V1620.8H717.6ZM744.2 1617.0H750.1V1620.8H744.2ZM756.0 1617.0H761.9V1620.8H756.0ZM767.9 1617.0H776.7V1620.8H767.9ZM779.7 1617.0H815.2V1620.8H779.7ZM818.1 1617.0H824.0V1620.8H818.1ZM827.0 1617.0H829.9V1620.8H827.0ZM832.9 1617.0H835.9V1620.8H832.9ZM841.8 1617.0H847.7V1620.8H841.8ZM850.6 1617.0H853.6V1620.8H850.6ZM856.6 1617.0H862.5V1620.8H856.6ZM865.4 1617.0H877.3V1620.8H865.4ZM880.2 1617.0H889.1V1620.8H880.2ZM895.0 1617.0H900.9V1620.8H895.0ZM903.9 1617.0H909.8V1620.8H903.9ZM912.7 1617.0H915.7V1620.8H912.7ZM918.6 1617.0H921.6V1620.8H918.6ZM729.4 1620.8H741.2V1624.7H729.4ZM744.2 1620.8H750.1V1624.7H744.2ZM756.0 1620.8H764.9V1624.7H756.0ZM767.9 1620.8H785.6V1624.7H767.9ZM702.8 1628.6H708.7V1632.5H702.8ZM711.7 1632.5H717.6V1636.4H711.7ZM720.6 1636.4H723.5V1640.3H720.6ZM726.5 1640.3H729.4V1644.1H726.5ZM738.3 1644.1H744.2V1648.0H738.3ZM750.1 1648.0H770.8V1651.9H750.1ZM761.9 1651.9H764.9V1655.8H761.9ZM767.9 1651.9H785.6V1655.8H767.9ZM779.7 1655.8H785.6V1659.7H779.7ZM809.3 1655.8H812.2V1659.7H809.3ZM779.7 1659.7H850.6V1663.6H779.7ZM856.6 1659.7H865.4V1663.6H856.6ZM874.3 1659.7H877.3V1663.6H874.3ZM850.6 1663.6H859.5V1667.5H850.6ZM862.5 1663.6H889.1V1667.5H862.5ZM877.3 1667.5H880.2V1671.3H877.3ZM883.2 1667.5H895.0V1671.3H883.2ZM897.9 1667.5H921.6V1671.3H897.9ZM889.1 1671.3H892.0V1675.2H889.1ZM895.0 1671.3H903.9V1675.2H895.0ZM906.8 1671.3H921.6V1675.2H906.8ZM906.8 1675.2H921.6V1679.1H906.8Z"/><path fill="#264981" d="M673.2 1613.1H682.1V1617.0H673.2ZM685.1 1613.1H688.0V1617.0H685.1ZM691.0 1613.1H702.8V1617.0H691.0ZM676.2 1617.0H679.2V1620.8H676.2ZM711.7 1617.0H717.6V1620.8H711.7ZM815.2 1617.0H818.1V1620.8H815.2ZM824.0 1617.0H827.0V1620.8H824.0ZM829.9 1617.0H832.9V1620.8H829.9ZM835.9 1617.0H841.8V1620.8H835.9ZM847.7 1617.0H850.6V1620.8H847.7ZM853.6 1617.0H856.6V1620.8H853.6ZM862.5 1617.0H865.4V1620.8H862.5ZM877.3 1617.0H880.2V1620.8H877.3ZM889.1 1617.0H895.0V1620.8H889.1ZM900.9 1617.0H903.9V1620.8H900.9ZM909.8 1617.0H912.7V1620.8H909.8ZM915.7 1617.0H918.6V1620.8H915.7ZM688.0 1620.8H691.0V1624.7H688.0ZM717.6 1620.8H729.4V1624.7H717.6ZM785.6 1620.8H809.3V1624.7H785.6ZM812.2 1620.8H815.2V1624.7H812.2ZM821.1 1620.8H824.0V1624.7H821.1ZM827.0 1620.8H829.9V1624.7H827.0ZM841.8 1620.8H844.7V1624.7H841.8ZM868.4 1620.8H871.3V1624.7H868.4ZM880.2 1620.8H889.1V1624.7H880.2ZM897.9 1620.8H900.9V1624.7H897.9ZM903.9 1620.8H909.8V1624.7H903.9ZM912.7 1620.8H915.7V1624.7H912.7ZM693.9 1624.7H696.9V1628.6H693.9ZM708.7 1628.6H714.6V1632.5H708.7ZM717.6 1632.5H723.5V1636.4H717.6ZM723.5 1636.4H729.4V1640.3H723.5ZM729.4 1640.3H738.3V1644.1H729.4ZM744.2 1644.1H756.0V1648.0H744.2ZM770.8 1648.0H788.6V1651.9H770.8ZM806.3 1648.0H809.3V1651.9H806.3ZM812.2 1648.0H815.2V1651.9H812.2ZM785.6 1651.9H821.1V1655.8H785.6ZM824.0 1651.9H827.0V1655.8H824.0ZM785.6 1655.8H809.3V1659.7H785.6ZM812.2 1655.8H862.5V1659.7H812.2ZM850.6 1659.7H856.6V1663.6H850.6ZM865.4 1659.7H874.3V1663.6H865.4ZM877.3 1659.7H892.0V1663.6H877.3ZM900.9 1659.7H903.9V1663.6H900.9ZM912.7 1659.7H915.7V1663.6H912.7ZM889.1 1663.6H921.6V1667.5H889.1ZM895.0 1667.5H897.9V1671.3H895.0Z"/><path fill="#284177" d="M658.5 1597.5H661.4V1601.4H658.5ZM664.4 1609.2H667.3V1613.1H664.4ZM670.3 1609.2H673.2V1613.1H670.3ZM670.3 1613.1H673.2V1617.0H670.3ZM682.1 1613.1H685.1V1617.0H682.1ZM688.0 1613.1H691.0V1617.0H688.0ZM702.8 1617.0H711.7V1620.8H702.8ZM714.6 1620.8H717.6V1624.7H714.6ZM809.3 1620.8H812.2V1624.7H809.3ZM815.2 1620.8H821.1V1624.7H815.2ZM824.0 1620.8H827.0V1624.7H824.0ZM829.9 1620.8H841.8V1624.7H829.9ZM844.7 1620.8H868.4V1624.7H844.7ZM871.3 1620.8H880.2V1624.7H871.3ZM889.1 1620.8H897.9V1624.7H889.1ZM900.9 1620.8H903.9V1624.7H900.9ZM909.8 1620.8H912.7V1624.7H909.8ZM915.7 1620.8H921.6V1624.7H915.7ZM696.9 1624.7H702.8V1628.6H696.9ZM738.3 1624.7H779.7V1628.6H738.3ZM782.6 1624.7H785.6V1628.6H782.6ZM714.6 1628.6H720.6V1632.5H714.6ZM723.5 1632.5H729.4V1636.4H723.5ZM729.4 1636.4H735.3V1640.3H729.4ZM738.3 1640.3H747.2V1644.1H738.3ZM756.0 1644.1H788.6V1648.0H756.0ZM791.5 1644.1H800.4V1648.0H791.5ZM803.3 1644.1H821.1V1648.0H803.3ZM788.6 1648.0H806.3V1651.9H788.6ZM809.3 1648.0H812.2V1651.9H809.3ZM815.2 1648.0H832.9V1651.9H815.2ZM838.8 1648.0H841.8V1651.9H838.8ZM821.1 1651.9H824.0V1655.8H821.1ZM827.0 1651.9H862.5V1655.8H827.0ZM862.5 1655.8H889.1V1659.7H862.5ZM895.0 1655.8H921.6V1659.7H895.0ZM892.0 1659.7H900.9V1663.6H892.0ZM903.9 1659.7H912.7V1663.6H903.9ZM915.7 1659.7H921.6V1663.6H915.7Z"/><path fill="#283971" d="M643.7 1597.5H652.6V1601.4H643.7ZM673.2 1597.5H676.2V1601.4H673.2ZM667.3 1609.2H670.3V1613.1H667.3ZM685.1 1617.0H688.0V1620.8H685.1ZM693.9 1617.0H702.8V1620.8H693.9ZM691.0 1620.8H693.9V1624.7H691.0ZM699.9 1620.8H714.6V1624.7H699.9ZM702.8 1624.7H711.7V1628.6H702.8ZM729.4 1624.7H738.3V1628.6H729.4ZM779.7 1624.7H782.6V1628.6H779.7ZM785.6 1624.7H832.9V1628.6H785.6ZM835.9 1624.7H853.6V1628.6H835.9ZM856.6 1624.7H921.6V1628.6H856.6ZM720.6 1628.6H723.5V1632.5H720.6ZM726.5 1628.6H729.4V1632.5H726.5ZM744.2 1628.6H770.8V1632.5H744.2ZM776.7 1628.6H779.7V1632.5H776.7ZM729.4 1632.5H735.3V1636.4H729.4ZM735.3 1636.4H750.1V1640.3H735.3ZM747.2 1640.3H797.4V1644.1H747.2ZM800.4 1640.3H850.6V1644.1H800.4ZM788.6 1644.1H791.5V1648.0H788.6ZM800.4 1644.1H803.3V1648.0H800.4ZM821.1 1644.1H865.4V1648.0H821.1ZM832.9 1648.0H838.8V1651.9H832.9ZM841.8 1648.0H871.3V1651.9H841.8ZM895.0 1648.0H897.9V1651.9H895.0ZM862.5 1651.9H892.0V1655.8H862.5ZM895.0 1651.9H912.7V1655.8H895.0ZM915.7 1651.9H921.6V1655.8H915.7ZM889.1 1655.8H895.0V1659.7H889.1Z"/><path fill="#293067" d="M679.2 1617.0H685.1V1620.8H679.2ZM688.0 1617.0H693.9V1620.8H688.0ZM693.9 1620.8H699.9V1624.7H693.9ZM711.7 1624.7H729.4V1628.6H711.7ZM832.9 1624.7H835.9V1628.6H832.9ZM853.6 1624.7H856.6V1628.6H853.6ZM723.5 1628.6H726.5V1632.5H723.5ZM729.4 1628.6H744.2V1632.5H729.4ZM770.8 1628.6H776.7V1632.5H770.8ZM779.7 1628.6H921.6V1632.5H779.7ZM735.3 1632.5H921.6V1636.4H735.3ZM750.1 1636.4H921.6V1640.3H750.1ZM797.4 1640.3H800.4V1644.1H797.4ZM850.6 1640.3H921.6V1644.1H850.6ZM865.4 1644.1H921.6V1648.0H865.4ZM871.3 1648.0H895.0V1651.9H871.3ZM897.9 1648.0H921.6V1651.9H897.9ZM892.0 1651.9H895.0V1655.8H892.0ZM912.7 1651.9H915.7V1655.8H912.7Z"/><path fill="#2b285d" d="M643.7 1601.4H646.6V1605.3H643.7Z"/>
</g>
<clipPath id="clipBEC"><rect x="628.9" y="1595.6" width="292.70000000000005" height="194.20000000000005"/></clipPath>
<path clip-path="url(#clipBEC)" d="M665 1598 L634 1598.2 L631 1598 L833.5 1790" fill="none" stroke="#10c0a9" stroke-width="2.9" stroke-linejoin="round"/>
<rect x="628.9" y="1595.6" width="292.70000000000005" height="194.20000000000005" fill="none" stroke="#000" stroke-width="1.6"/>
<line x1="628.9" y1="1595.6" x2="628.9" y2="1586.8" stroke="#000" stroke-width="1.6"/>
<line x1="921.6" y1="1595.6" x2="921.6" y2="1586.8" stroke="#000" stroke-width="1.6"/>
<text transform="translate(628.9 1577) scale(0.956 1)" style="font-size:28.6px" text-anchor="middle">0</text>
<text transform="translate(921.6 1577) scale(0.956 1)" style="font-size:28.6px" text-anchor="middle">2.5</text>
<text transform="translate(773.55 1572) scale(0.956 1)" style="font-size:28.6px" text-anchor="middle"><tspan font-style="italic">V</tspan><tspan font-size="19.5" dy="9.3">0</tspan><tspan dy="-9.3" font-size="1">&#8203;</tspan></text>
<line x1="628.9" y1="1789.8" x2="619.9" y2="1789.8" stroke="#000" stroke-width="1.6"/>
<text transform="translate(612 1800) scale(0.956 1)" style="font-size:28.6px" text-anchor="end">−10</text>
<text transform="translate(592 1683) rotate(-90) scale(0.956 1)" style="font-size:28.6px" text-anchor="middle">Δ<tspan font-size="19.5" dy="9.3">c</tspan><tspan dy="-9.3" font-size="1">&#8203;</tspan>/2π</text>
<text transform="translate(653 1725.7) scale(0.956 1)" style="font-size:28.6px">BEC</text>
<path d="M955.7 1817.4L628.9 1789.8M955.7 1817.4L921.6 1789.8" stroke="#000" stroke-width="1.9" stroke-dasharray="8.4 3.6" fill="none"/>
<text transform="translate(763 1482.5) scale(0.956 1)">DW</text>
<polyline fill="none" stroke="#000" stroke-width="1.9" points="128.5,1503.4 246.8,1477 376.4,1447.6 468.1,1420.2 553,1409.5 655,1370.5 749.3,1348.6 845,1334.5 943.9,1323.4"/>
<line x1="128.5" y1="1475.7" x2="128.5" y2="1531.5" stroke="#000" stroke-width="1.9"/>
<circle cx="128.5" cy="1503.4" r="5.9" fill="#fff" stroke="#000" stroke-width="1.9"/>
<line x1="246.8" y1="1440" x2="246.8" y2="1513.5" stroke="#000" stroke-width="1.9"/>
<circle cx="246.8" cy="1477" r="5.9" fill="#fff" stroke="#000" stroke-width="1.9"/>
<line x1="376.4" y1="1427.5" x2="376.4" y2="1469" stroke="#000" stroke-width="1.9"/>
<circle cx="376.4" cy="1447.6" r="5.9" fill="#fff" stroke="#000" stroke-width="1.9"/>
<line x1="468.1" y1="1396" x2="468.1" y2="1444.5" stroke="#000" stroke-width="1.9"/>
<circle cx="468.1" cy="1420.2" r="5.9" fill="#fff" stroke="#000" stroke-width="1.9"/>
<line x1="553" y1="1395.2" x2="553" y2="1424.2" stroke="#000" stroke-width="1.9"/>
<circle cx="553" cy="1409.5" r="5.9" fill="#fff" stroke="#000" stroke-width="1.9"/>
<line x1="655" y1="1360" x2="655" y2="1380.9" stroke="#000" stroke-width="1.9"/>
<circle cx="655" cy="1370.5" r="5.9" fill="#fff" stroke="#000" stroke-width="1.9"/>
<line x1="749.3" y1="1339" x2="749.3" y2="1358.4" stroke="#000" stroke-width="1.9"/>
<circle cx="749.3" cy="1348.6" r="5.9" fill="#fff" stroke="#000" stroke-width="1.9"/>
<line x1="845" y1="1326.5" x2="845" y2="1342.4" stroke="#000" stroke-width="1.9"/>
<circle cx="845" cy="1334.5" r="5.9" fill="#fff" stroke="#000" stroke-width="1.9"/>
<line x1="943.9" y1="1315.6" x2="943.9" y2="1331.5" stroke="#000" stroke-width="1.9"/>
<circle cx="943.9" cy="1323.4" r="5.9" fill="#fff" stroke="#000" stroke-width="1.9"/>
<rect x="118" y="1261.3" width="837.7" height="556.1000000000001" fill="none" stroke="#000" stroke-width="1.8"/>
<line x1="109.2" y1="1261.3" x2="118" y2="1261.3" stroke="#000" stroke-width="1.8"/>
<text transform="translate(100.3 1273.0) scale(0.956 1)" text-anchor="end">0</text>
<line x1="109.2" y1="1372.5" x2="118" y2="1372.5" stroke="#000" stroke-width="1.8"/>
<text transform="translate(100.3 1384.2) scale(0.956 1)" text-anchor="end">−0.5</text>
<line x1="109.2" y1="1483.7" x2="118" y2="1483.7" stroke="#000" stroke-width="1.8"/>
<text transform="translate(100.3 1495.4) scale(0.956 1)" text-anchor="end">−1.0</text>
<line x1="109.2" y1="1595.0" x2="118" y2="1595.0" stroke="#000" stroke-width="1.8"/>
<text transform="translate(100.3 1606.7) scale(0.956 1)" text-anchor="end">−1.5</text>
<line x1="109.2" y1="1706.2" x2="118" y2="1706.2" stroke="#000" stroke-width="1.8"/>
<text transform="translate(100.3 1717.9) scale(0.956 1)" text-anchor="end">−2.0</text>
<line x1="109.2" y1="1817.4" x2="118" y2="1817.4" stroke="#000" stroke-width="1.8"/>
<text transform="translate(100.3 1829.1) scale(0.956 1)" text-anchor="end">−2.5</text>
<line x1="211.7" y1="1817.4" x2="211.7" y2="1826.0" stroke="#000" stroke-width="1.8"/>
<text transform="translate(203.1 1859.7) scale(0.956 1)" text-anchor="middle">−0.6</text>
<line x1="325.5" y1="1817.4" x2="325.5" y2="1826.0" stroke="#000" stroke-width="1.8"/>
<text transform="translate(316.9 1859.7) scale(0.956 1)" text-anchor="middle">−0.4</text>
<line x1="439.4" y1="1817.4" x2="439.4" y2="1826.0" stroke="#000" stroke-width="1.8"/>
<text transform="translate(430.8 1859.7) scale(0.956 1)" text-anchor="middle">−0.2</text>
<line x1="553.3" y1="1817.4" x2="553.3" y2="1826.0" stroke="#000" stroke-width="1.8"/>
<text transform="translate(552.5 1859.7) scale(0.956 1)" text-anchor="middle">0</text>
<line x1="667.2" y1="1817.4" x2="667.2" y2="1826.0" stroke="#000" stroke-width="1.8"/>
<text transform="translate(666.0 1859.7) scale(0.956 1)" text-anchor="middle">0.2</text>
<line x1="781.1" y1="1817.4" x2="781.1" y2="1826.0" stroke="#000" stroke-width="1.8"/>
<text transform="translate(779.9 1859.7) scale(0.956 1)" text-anchor="middle">0.4</text>
<line x1="894.9" y1="1817.4" x2="894.9" y2="1826.0" stroke="#000" stroke-width="1.8"/>
<text transform="translate(893.7 1859.7) scale(0.956 1)" text-anchor="middle">0.6</text>
<text transform="translate(556 1900.3) scale(0.956 1)" text-anchor="middle">1/k<tspan font-size="20.3" dy="9.7">F</tspan><tspan dy="-9.7" font-size="1">&#8203;</tspan><tspan font-style="italic">a</tspan></text>
<text transform="translate(24.5 1546) rotate(-90) scale(0.956 1)" text-anchor="middle"><tspan font-family="'DejaVu Math TeX Gyre', 'DejaVu Serif', serif" font-size="27">𝒟</tspan><tspan font-size="20.3" dy="9.7">0C</tspan><tspan dy="-9.7" font-size="1">&#8203;</tspan><tspan font-style="italic">N</tspan>/<tspan font-style="italic">E</tspan><tspan font-size="20.3" dy="9.7">F</tspan><tspan dy="-9.7" font-size="1">&#8203;</tspan></text>
<text transform="translate(-1.2 1252.8) scale(1.04 1)" style="font-size:34px;font-weight:bold" stroke="#000" stroke-width="0.7" stroke-linejoin="round">c</text>
</g>
</svg></body></html>
